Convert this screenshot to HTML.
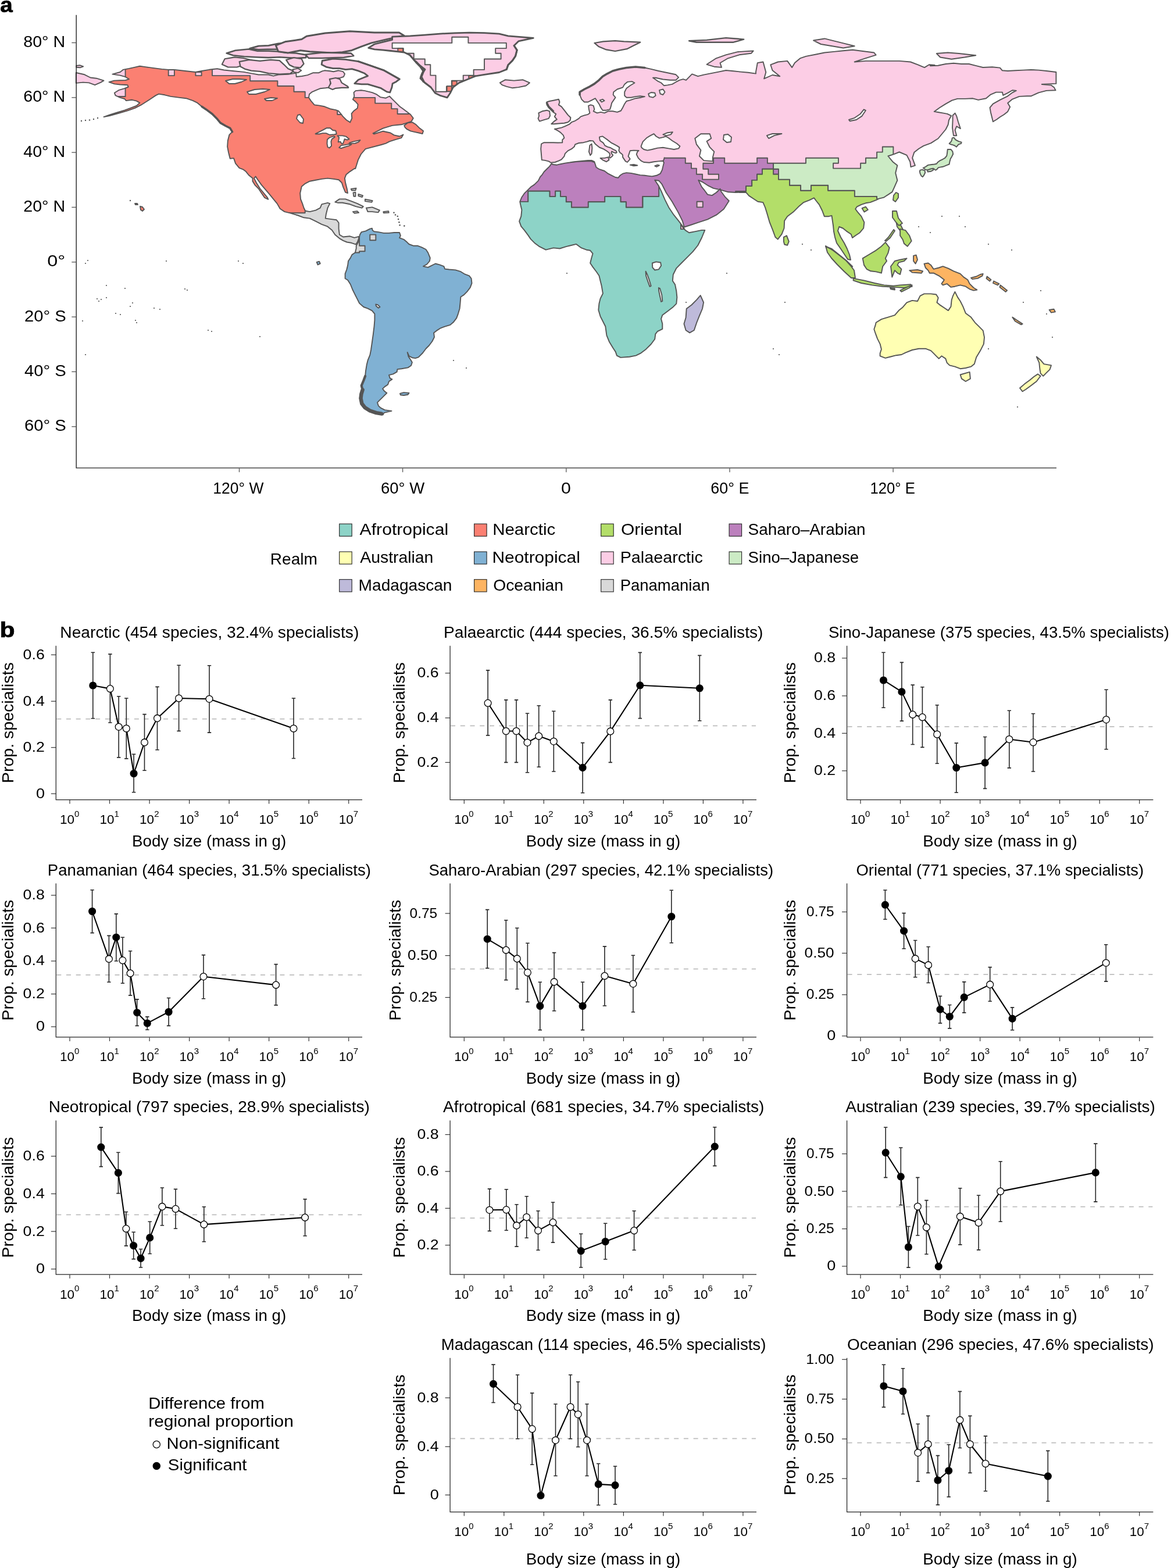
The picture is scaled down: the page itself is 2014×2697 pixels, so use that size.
<!DOCTYPE html>
<html><head><meta charset="utf-8"><title>Figure</title>
<style>html,body{margin:0;padding:0;background:#fff;} svg{display:block} text{font-family:'Liberation Sans', Arial, sans-serif;fill:#000}</style>
</head><body>
<svg width="2014" height="2697" viewBox="0 0 2014 2697">
<rect width="2014" height="2697" fill="#fff"/>
<g id="map"><defs>
<clipPath id="cp_NA"><path d="M178.5,201.1 188.8,197.3 201.5,193.5 214.3,189.7 224.5,185.8 234.7,182.0 240.4,176.9 234.7,173.6 227.1,171.8 216.9,173.1 214.3,170.0 206.6,167.9 198.5,164.1 196.9,159.8 204.1,155.2 214.3,152.1 220.7,149.5 219.4,146.2 206.6,145.5 196.9,144.4 187.5,141.1 196.4,138.6 206.6,138.3 215.6,138.1 222.0,136.0 215.6,132.2 206.6,129.6 193.4,127.6 206.6,124.0 211.7,119.9 222.0,117.9 232.2,115.6 240.4,113.8 250.1,115.1 262.8,116.9 278.2,118.9 289.7,119.9 299.9,119.9 313.9,121.5 336.4,124.0 347.1,122.0 359.9,119.9 360.0,119.7 373.6,118.3 385.4,120.5 402.4,122.2 419.3,123.9 432.9,126.4 444.7,128.5 461.7,128.5 470.2,130.7 478.6,128.5 495.6,127.8 509.2,125.6 509.7,132.0 519.4,131.0 529.1,129.1 538.7,125.2 548.4,125.2 554.2,122.3 558.1,121.3 567.8,122.3 573.6,123.2 582.3,121.3 590.1,123.2 593.0,127.1 591.0,132.0 585.2,133.9 575.5,134.9 569.7,138.7 567.8,144.6 566.8,150.4 560.0,151.3 550.4,152.3 543.6,155.2 536.8,158.1 532.0,162.0 531.0,167.8 534.9,173.6 540.7,180.4 548.4,181.4 558.1,183.3 567.8,187.2 577.5,189.1 582.3,191.0 587.2,196.9 589.6,200.2 595.9,206.5 602.2,210.4 605.3,203.3 604.6,195.4 608.5,190.7 614.8,186.0 615.6,179.7 611.6,175.0 606.9,171.1 609.3,165.5 608.5,159.2 611.6,156.1 621.1,155.3 627.4,156.1 640.0,159.2 647.8,162.4 654.1,167.1 663.6,168.7 669.9,165.5 674.6,170.3 680.9,176.6 687.2,182.9 693.5,187.6 699.8,192.3 706.1,197.0 710.8,203.3 707.6,208.8 698.2,212.0 690.3,214.3 674.6,215.9 658.9,220.6 641.5,229.3 643.1,230.5 658.9,225.7 671.4,228.5 677.7,232.4 687.2,234.5 693.5,231.6 690.3,237.2 679.3,240.3 669.9,243.4 663.6,246.6 655.7,249.0 628.6,256.1 621.0,265.0 615.9,275.2 611.3,290.0 609.5,290.0 601.8,295.1 595.4,300.2 592.9,306.6 594.1,314.3 596.7,324.5 598.0,332.2 594.1,330.9 590.3,322.0 587.8,314.3 582.6,309.2 573.7,307.9 563.5,306.6 553.3,307.9 543.1,309.7 532.8,311.7 525.2,315.6 518.8,320.7 516.2,332.2 517.0,342.4 520.1,350.1 522.6,357.7 525.2,362.8 532.8,364.1 543.1,361.6 550.7,357.7 553.3,351.3 563.5,348.8 567.3,350.1 563.5,357.7 560.9,367.9 559.7,375.6 568.6,376.9 578.8,378.2 582.6,383.3 582.6,393.5 583.9,403.7 590.3,407.5 601.8,406.3 609.5,408.8 617.1,406.8 617.1,410.1 614.6,416.5 612.0,420.3 604.4,417.8 596.7,416.5 590.3,413.9 583.9,410.1 576.3,403.7 571.1,396.0 563.5,389.7 553.3,385.8 543.1,380.7 532.8,375.6 522.6,374.3 512.4,370.5 499.6,366.7 489.4,364.1 481.7,359.0 476.6,350.1 470.2,342.4 463.9,334.7 457.5,327.1 449.8,318.1 443.4,309.2 439.6,303.6 437.0,306.6 440.9,314.3 447.3,324.5 453.6,332.2 460.0,339.8 461.3,342.9 454.9,339.8 449.8,332.2 444.7,324.5 438.3,318.1 434.5,311.7 434.5,306.6 428.1,301.5 423.0,295.1 417.9,291.3 411.5,288.8 405.1,281.1 402.0,272.1 395.7,272.7 393.1,262.5 391.1,252.2 391.8,242.0 394.4,231.8 399.5,226.7 395.7,220.3 388.0,216.5 379.1,211.4 372.7,203.7 365.0,196.0 354.8,188.4 347.1,183.3 339.5,176.9 331.8,173.1 320.3,169.2 308.8,167.9 293.5,165.9 283.3,163.3 273.1,161.6 267.9,164.1 260.3,169.2 252.6,174.3 242.4,180.7 232.2,185.8 219.4,190.4 204.1,194.8 188.8,199.1Z"/></clipPath>
<clipPath id="cp_SAm"><path d="M618.1,407.2 619.0,403.6 621.7,399.1 629.0,397.3 636.3,393.6 639.9,392.7 640.8,396.3 643.5,398.2 650.8,399.1 659.9,400.9 669.0,400.9 678.0,400.0 687.1,400.0 688.9,405.4 687.1,409.1 694.4,411.8 699.8,416.3 703.5,420.0 710.7,422.7 718.0,422.7 725.3,425.4 732.5,429.0 736.1,434.5 739.8,443.6 738.9,449.0 734.3,454.5 728.0,458.1 736.1,459.9 741.6,457.2 748.9,453.5 756.1,455.4 763.4,458.1 765.2,462.6 772.5,463.5 783.4,464.4 792.4,467.2 799.7,471.7 807.0,474.4 810.6,479.0 811.5,487.1 808.8,494.4 803.3,501.7 797.9,507.1 792.4,510.7 791.5,521.6 790.6,530.7 787.9,539.8 785.2,547.1 779.7,554.3 774.3,558.9 765.2,561.6 757.9,564.3 750.7,568.9 746.1,572.5 747.0,579.8 743.4,587.0 738.0,594.3 732.5,599.7 727.1,607.0 719.8,614.3 714.4,616.1 708.9,615.2 703.5,612.4 700.7,606.1 702.6,613.4 706.2,618.8 708.9,623.3 707.1,628.8 701.6,632.4 690.7,634.2 683.5,635.1 682.6,639.7 676.2,643.3 669.0,645.1 670.8,650.6 674.4,652.4 669.0,656.0 667.1,661.5 661.7,665.1 658.1,668.7 660.8,672.4 665.3,676.0 661.7,679.6 656.2,685.1 652.6,688.7 649.0,692.3 650.8,697.8 654.4,701.4 661.7,705.1 673.5,706.9 661.7,709.6 658.1,712.3 647.2,710.5 636.3,706.9 627.2,701.4 621.7,694.2 619.9,685.1 620.8,677.8 623.6,670.6 621.7,663.3 625.4,654.2 628.1,646.9 629.0,637.9 630.8,627.0 632.6,619.7 636.3,610.6 638.1,601.5 639.9,588.8 641.7,576.1 643.5,561.6 644.4,550.7 644.4,539.8 639.9,534.4 632.6,530.7 625.4,528.0 618.1,521.6 614.5,514.4 610.8,507.1 606.3,498.0 602.7,489.0 598.1,481.7 593.6,479.0 593.6,470.8 596.3,463.5 598.1,456.3 599.0,449.0 602.7,443.6 605.4,438.1 610.8,434.5 612.7,427.2 612.7,422.7 616.3,416.3Z"/></clipPath>
<clipPath id="cp_AFEU"><path d="M947.5,279.8 943.6,277.4 937.3,275.9 931.8,275.1 931.0,265.6 930.2,256.2 931.0,247.5 935.7,245.2 943.6,245.2 951.5,245.2 959.3,245.5 967.2,245.2 967.2,240.5 970.4,237.3 968.8,232.6 964.1,227.9 959.3,224.7 953.8,221.9 957.8,221.2 965.6,219.6 971.9,217.2 979.8,213.3 983.0,210.2 989.2,207.8 995.5,203.9 998.7,200.7 1005.0,198.4 1011.3,196.8 1014.4,194.4 1012.9,188.1 1012.1,181.8 1016.0,180.3 1020.7,181.8 1022.3,188.1 1020.7,191.3 1027.0,194.4 1033.3,192.9 1039.6,194.4 1045.9,191.3 1053.8,191.3 1061.6,192.9 1067.9,190.5 1071.1,185.0 1074.2,178.7 1077.4,174.0 1083.7,172.4 1093.1,169.2 1102.6,167.7 1108.9,166.1 1101.0,165.3 1093.1,166.1 1085.3,167.7 1077.4,167.7 1074.2,164.5 1074.2,158.2 1077.4,151.9 1083.7,147.2 1091.5,142.5 1086.8,140.1 1079.0,140.9 1074.2,144.9 1071.1,150.4 1061.6,153.5 1055.3,158.2 1054.6,163.0 1058.5,167.7 1055.3,172.4 1052.2,177.1 1050.6,183.4 1049.1,188.1 1042.8,189.7 1036.5,189.7 1033.3,185.0 1030.2,178.7 1027.0,174.0 1023.9,169.2 1017.6,172.4 1011.3,175.5 1005.0,175.5 1000.3,170.8 997.1,163.0 997.1,158.2 1005.0,153.5 1014.4,148.8 1022.3,144.1 1030.2,137.8 1036.5,131.5 1044.3,126.8 1053.8,122.0 1064.8,118.9 1077.4,116.5 1093.1,115.0 1108.9,116.5 1119.9,118.9 1132.5,122.0 1148.2,125.2 1162.4,128.3 1167.1,133.1 1162.4,137.8 1152.9,137.8 1140.3,136.5 1127.7,133.8 1123.0,133.8 1130.9,139.3 1137.2,142.5 1141.9,147.2 1148.2,146.4 1156.1,144.9 1162.4,141.2 1168.7,137.8 1175.0,136.2 1180.0,137.8 1190.2,127.4 1200.3,131.2 1210.5,128.6 1223.2,126.1 1235.9,123.6 1248.6,121.0 1261.4,122.3 1274.1,123.6 1286.8,124.8 1300.0,126.6 1299.9,124.2 1302.8,108.1 1312.5,106.5 1317.3,124.2 1314.1,135.4 1328.5,129.0 1341.3,131.2 1328.5,121.0 1325.3,111.3 1338.1,106.5 1354.2,104.9 1362.2,116.1 1367.0,108.1 1376.6,100.1 1386.2,96.9 1402.3,93.7 1418.3,90.5 1434.4,88.9 1450.4,87.3 1466.5,85.7 1485.7,88.2 1503.3,90.5 1506.6,94.6 1488.9,100.1 1469.7,106.5 1488.9,104.9 1508.2,104.9 1527.4,104.9 1546.7,104.9 1565.9,106.5 1578.7,111.3 1590.0,116.1 1598.0,111.3 1607.6,112.0 1600.0,113.3 1613.3,112.7 1626.6,110.0 1640.0,108.7 1653.3,110.0 1666.6,110.0 1679.9,113.3 1690.6,116.0 1706.5,115.3 1719.9,116.6 1723.9,121.3 1733.2,122.0 1746.5,121.3 1759.8,120.6 1773.1,120.0 1786.4,120.6 1799.8,122.0 1816.4,124.0 1816.4,143.9 1791.8,145.0 1807.8,146.6 1813.1,150.6 1815.5,155.3 1799.8,155.9 1786.4,159.3 1773.1,165.3 1766.5,165.3 1753.1,165.9 1741.2,170.6 1733.2,177.2 1737.2,183.9 1733.2,191.9 1726.5,197.2 1719.9,201.2 1714.5,205.2 1707.9,209.2 1703.9,193.2 1702.5,185.2 1707.9,178.6 1719.9,171.9 1733.2,165.3 1741.2,159.3 1747.8,155.9 1741.2,155.3 1733.2,159.9 1725.2,163.9 1723.9,158.6 1713.2,158.6 1703.9,162.6 1695.9,169.3 1682.6,171.9 1673.2,169.3 1659.9,169.9 1646.6,169.9 1637.3,172.6 1626.6,178.6 1616.0,185.2 1606.7,191.9 1614.6,193.2 1622.6,194.6 1629.3,195.9 1636.0,199.2 1632.0,206.5 1630.6,214.5 1626.6,222.5 1620.0,230.5 1613.3,238.5 1610.7,240.0 1601.2,246.1 1588.4,250.9 1580.3,255.7 1572.3,262.1 1569.1,271.7 1573.9,284.6 1566.5,287.1 1565.3,278.2 1559.5,266.9 1546.7,261.5 1537.0,265.3 1527.4,268.5 1535.4,278.2 1543.4,284.6 1540.2,297.4 1543.4,310.2 1537.7,323.1 1534.5,330.1 1520.0,339.7 1511.9,341.7 1506.8,344.2 1496.6,348.1 1489.0,349.3 1481.4,351.9 1473.7,355.7 1471.2,359.5 1475.0,364.6 1481.4,372.2 1486.4,382.4 1485.2,392.5 1478.8,400.2 1471.2,405.3 1466.1,409.1 1463.6,402.7 1455.9,397.6 1449.6,392.5 1443.2,390.0 1441.0,397.0 1446.0,408.0 1452.0,418.0 1457.0,428.0 1461.0,438.0 1463.0,447.0 1458.0,446.0 1452.0,437.0 1446.0,428.0 1439.0,418.0 1436.0,408.0 1434.0,398.0 1433.0,388.0 1430.5,370.9 1425.4,372.2 1417.8,372.2 1414.0,362.0 1408.9,351.9 1403.8,345.5 1400.0,340.4 1392.4,344.2 1382.2,348.1 1374.6,354.4 1364.4,364.6 1354.2,372.2 1349.2,379.8 1348.6,392.5 1344.6,402.7 1337.7,411.6 1333.4,407.8 1328.8,395.1 1323.7,382.4 1319.2,367.1 1316.1,357.0 1312.3,348.1 1303.4,346.8 1295.8,341.7 1288.1,336.6 1283.1,330.8 1265.3,331.0 1252.5,330.3 1238.6,326.4 1227.1,323.9 1217.0,318.8 1209.3,313.7 1201.2,309.9 1206.8,321.4 1211.9,327.7 1217.0,334.6 1224.6,336.1 1232.2,331.0 1238.6,324.7 1240.3,329.5 1247.5,339.2 1253.8,345.5 1244.9,359.5 1232.2,369.7 1217.0,377.3 1201.7,382.4 1186.4,387.5 1176.8,390.5 1173.7,379.8 1166.1,364.6 1155.9,346.8 1145.8,331.5 1138.1,316.3 1133.1,310.7 1126.2,309.8 1132.8,319.6 1137.1,328.3 1143.7,343.6 1150.2,356.7 1158.9,369.7 1167.7,380.6 1174.2,389.3 1178.5,395.9 1185.1,400.2 1196.0,398.1 1206.9,395.9 1212.3,395.9 1206.9,409.0 1200.3,422.0 1191.6,432.9 1182.9,441.6 1172.0,452.5 1163.3,461.3 1157.8,472.2 1156.8,483.1 1161.1,489.6 1163.3,500.5 1164.4,511.4 1163.3,522.3 1156.8,528.8 1148.0,535.4 1139.3,541.9 1137.1,548.4 1139.3,557.1 1139.3,565.9 1130.6,570.2 1127.3,574.6 1126.2,583.3 1119.7,592.0 1111.0,600.7 1102.3,607.3 1093.6,611.6 1082.7,613.8 1067.4,614.9 1060.9,611.6 1058.7,605.1 1054.3,598.5 1047.8,587.7 1043.4,576.8 1041.3,561.5 1036.9,552.8 1032.5,544.1 1029.3,533.2 1030.4,522.3 1032.5,513.6 1036.9,504.8 1034.7,491.8 1032.5,483.1 1030.4,474.3 1026.0,467.8 1019.5,459.1 1015.1,452.5 1017.3,443.8 1019.5,436.2 1015.1,430.8 1008.6,429.7 999.9,426.4 991.1,419.9 982.4,422.0 973.7,424.2 962.8,427.5 951.9,426.4 938.8,429.7 927.9,424.2 919.2,417.7 912.7,411.1 908.3,404.6 901.8,395.9 896.3,389.3 893.1,380.6 896.3,371.9 897.4,361.0 895.3,352.3 894.2,346.9 897.4,339.2 901.8,332.7 906.2,328.3 912.7,321.8 919.2,317.4 925.8,310.9 929.0,304.4 932.6,300.3 935.7,295.5 940.5,290.8 945.2,286.1 948.3,281.7 951.5,283.0 957.8,283.7 964.1,282.2 971.9,280.6 979.8,279.5 987.7,278.2 995.5,277.4 1003.4,276.7 1011.3,275.9 1017.6,275.9 1022.3,278.2 1023.9,283.0 1025.4,287.7 1030.2,290.8 1039.6,294.0 1045.9,298.7 1052.2,301.8 1058.5,305.0 1063.2,305.8 1066.4,301.8 1071.1,298.7 1077.4,297.1 1085.3,297.9 1093.1,299.5 1101.0,301.1 1108.9,301.8 1115.2,302.6 1121.4,303.4 1129.3,301.8 1135.6,298.7 1138.8,292.4 1140.3,286.1 1141.9,279.8 1140.3,276.7 1132.5,277.4 1124.6,278.2 1116.7,279.8 1107.3,279.0 1102.6,276.7 1097.8,271.9 1094.7,265.6 1096.3,260.9 1098.6,259.0 1090.0,258.6 1083.7,259.3 1082.1,264.1 1080.5,268.8 1083.7,273.5 1082.1,275.4 1079.0,279.0 1075.8,277.4 1071.1,270.4 1070.9,266.3 1068.7,264.1 1066.5,262.7 1064.3,259.1 1065.4,253.6 1061.8,251.1 1056.3,248.2 1050.9,245.3 1045.4,240.9 1040.3,237.3 1036.3,234.4 1031.0,235.7 1031.0,237.3 1032.1,242.0 1037.4,245.6 1040.3,250.3 1045.4,252.9 1049.8,254.0 1054.6,256.9 1059.3,259.1 1060.8,262.0 1059.3,263.4 1055.3,262.2 1052.0,260.4 1051.3,263.3 1054.2,266.9 1052.8,269.1 1049.1,271.8 1047.6,270.0 1049.1,266.3 1047.6,262.7 1043.6,259.8 1038.2,256.4 1031.0,253.5 1023.6,247.4 1020.0,242.4 1014.4,242.0 1009.7,243.6 1003.4,245.2 995.5,246.0 989.2,248.3 987.7,252.3 983.0,256.2 976.7,259.3 971.9,264.1 970.4,268.8 965.6,274.3 960.9,276.7 954.6,279.0Z"/></clipPath>
<clipPath id="cp_banks"><path d="M381.8,110.7 386.6,101.2 403.6,98.4 418.8,99.9 434.0,103.7 426.4,106.9 416.9,112.6 407.4,115.5 392.3,115.5Z"/></clipPath>
<clipPath id="cp_victoria"><path d="M411.7,106.1 428.5,102.9 447.1,104.8 465.7,102.9 480.7,104.2 488.1,110.8 495.6,118.2 504.9,122.0 499.3,126.6 480.7,127.6 462.0,126.1 447.1,122.9 432.2,121.6 421.0,118.6 413.5,114.5Z"/></clipPath>
<clipPath id="cp_qesouth"><path d="M389.7,91.5 404.8,86.8 427.6,84.5 442.8,87.7 461.8,87.7 480.8,88.7 492.2,90.6 509.3,91.5 526.3,94.4 526.3,99.1 509.3,100.1 480.8,98.2 461.8,99.1 439.0,98.2 420.0,97.2 401.1,95.3Z"/></clipPath>
<clipPath id="cp_qenorth"><path d="M429.5,83.4 444.7,79.1 461.8,78.3 478.9,74.9 497.8,73.9 513.0,76.8 516.8,82.5 509.2,86.7 490.3,86.3 475.1,84.8 459.9,84.8 444.7,85.3Z"/></clipPath>
<clipPath id="cp_ellesmere"><path d="M474.4,78.2 490.3,71.8 518.9,67.6 527.4,62.3 559.2,57.0 601.6,53.8 644.0,55.9 686.4,55.9 694.9,61.2 665.2,67.6 638.7,73.9 620.7,80.3 604.8,86.7 588.9,89.8 569.8,90.9 550.7,89.8 532.7,88.8 516.8,86.7 495.6,90.9 478.7,88.8Z"/></clipPath>
<clipPath id="cp_devon"><path d="M525.3,93.8 554.5,90.4 579.1,91.0 603.7,91.6 608.2,96.0 591.4,98.8 572.4,99.4 554.5,100.0 530.9,100.0Z"/></clipPath>
<clipPath id="cp_somerset"><path d="M492.2,103.0 505.4,99.2 518.7,101.1 522.5,109.7 516.8,116.3 505.4,115.4 497.8,111.6Z"/></clipPath>
<clipPath id="cp_kwilliam"><path d="M503.4,119.5 512.7,117.6 518.3,121.3 512.7,125.1 505.3,124.1Z"/></clipPath>
<clipPath id="cp_baffin"><path d="M554.2,104.5 572.7,101.2 594.5,102.3 616.3,105.6 638.1,113.2 659.9,120.8 687.1,136.1 681.6,140.4 675.1,143.7 674.0,150.2 670.7,159.0 665.3,157.9 654.4,151.3 643.5,148.1 632.6,144.8 621.7,144.8 609.7,143.7 616.3,137.2 627.2,132.8 632.6,130.6 627.2,126.3 616.3,121.9 605.4,118.6 594.5,119.7 583.6,117.6 572.7,117.6 561.8,115.4 553.1,111.0Z"/></clipPath>
<clipPath id="cp_southampton"><path d="M566.8,136.1 577.2,134.0 584.6,136.1 587.7,142.4 598.2,148.7 599.2,150.8 587.7,150.8 577.2,151.8 572.0,153.9 564.7,150.8 568.9,143.4Z"/></clipPath>
<clipPath id="cp_greenland"><path d="M633.7,82.4 644.0,76.0 659.3,72.1 674.6,68.3 674.6,63.2 705.3,61.9 730.8,60.1 756.4,58.1 781.9,56.8 807.4,56.1 833.0,56.6 858.5,58.1 873.9,61.9 917.3,65.3 891.7,70.9 884.1,78.5 889.2,86.2 886.6,96.4 881.5,104.1 873.9,111.7 871.3,119.4 858.5,124.5 833.0,128.3 817.7,130.9 802.3,137.3 789.6,142.4 779.3,150.1 774.2,160.3 769.1,167.9 756.4,164.1 748.7,160.3 741.0,150.1 730.8,142.4 723.1,134.7 725.7,127.1 730.8,119.4 720.6,111.7 712.9,104.1 705.3,95.1 695.1,90.0 684.8,88.8 672.1,87.5 659.3,86.2 644.0,84.9Z"/></clipPath>
<clipPath id="cp_iceland"><path d="M859.8,142.4 868.8,137.3 884.1,138.6 899.4,137.3 910.9,142.4 904.5,147.5 891.7,150.1 881.5,151.3 871.3,148.8 863.6,146.2Z"/></clipPath>
<clipPath id="cp_chukotka_w"><path d="M130.8,125.0 145.3,128.3 155.5,133.5 165.8,134.7 178.5,138.6 173.4,141.6 163.2,146.2 153.0,142.4 142.8,141.6 130.8,142.9Z"/></clipPath>
<clipPath id="cp_wrangel"><path d="M131.3,113.0 137.7,112.3 143.3,114.3 137.7,116.3 131.3,115.8Z"/></clipPath>
<clipPath id="cp_newfoundland"><path d="M695.1,215.9 701.4,211.2 709.2,210.4 715.5,214.3 721.8,220.6 728.1,225.3 726.5,230.1 720.2,228.5 712.4,226.9 706.1,225.3 699.8,222.2 696.6,219.1Z"/></clipPath>
<clipPath id="cp_cuba"><path d="M576.3,347.5 583.9,342.4 594.1,342.4 604.4,346.2 614.6,350.1 624.8,355.2 622.2,357.7 612.0,355.2 601.8,351.3 589.0,348.8 581.4,348.8Z"/></clipPath>
<clipPath id="cp_hispaniola"><path d="M629.9,357.7 640.1,356.4 652.9,361.6 650.3,365.4 640.1,364.1 632.5,364.1Z"/></clipPath>
<clipPath id="cp_jamaica"><path d="M606.9,364.1 614.6,363.3 617.1,365.9 609.5,366.7Z"/></clipPath>
<clipPath id="cp_puertorico"><path d="M659.3,364.1 668.2,363.3 668.7,365.9 659.8,366.2Z"/></clipPath>
<clipPath id="cp_falklands"><path d="M688.0,676.9 694.4,675.1 703.5,676.0 701.6,678.7 694.4,680.0 688.9,679.3Z"/></clipPath>
<clipPath id="cp_uk"><path d="M940.5,175.5 945.2,174.0 953.1,172.4 960.9,170.8 962.5,175.5 960.9,180.3 965.6,183.4 971.9,191.3 976.7,197.6 981.4,202.3 980.6,207.0 976.7,210.2 970.4,211.7 960.9,212.5 953.1,213.3 948.3,213.3 953.1,208.6 957.8,205.4 953.8,200.7 956.2,196.0 951.5,192.9 948.3,189.7 943.6,185.0 940.5,180.3Z"/></clipPath>
<clipPath id="cp_ireland"><path d="M926.3,194.4 932.6,191.3 940.5,189.7 945.2,191.3 946.0,199.2 943.6,203.9 935.7,206.2 927.9,208.6 925.5,203.9 927.1,199.2Z"/></clipPath>
<clipPath id="cp_svalbard"><path d="M1022.4,74.0 1037.6,71.4 1058.0,70.2 1073.2,71.4 1101.2,72.7 1088.5,79.1 1078.3,84.2 1058.0,88.0 1042.7,85.4 1030.0,80.3Z"/></clipPath>
<clipPath id="cp_nzemlya"><path d="M1215.6,110.8 1230.9,100.7 1248.6,94.3 1269.0,89.2 1295.7,87.5 1291.9,91.8 1271.5,94.3 1251.2,100.7 1238.5,108.3 1241.0,115.9 1228.3,114.7Z"/></clipPath>
<clipPath id="cp_fjland"><path d="M1185.1,70.2 1215.6,68.9 1248.6,65.1 1279.2,67.6 1261.4,72.7 1223.2,72.7 1197.8,72.7Z"/></clipPath>
<clipPath id="cp_sevzemlya"><path d="M1399.1,69.6 1418.3,66.4 1431.2,69.6 1450.4,74.4 1469.7,79.2 1450.4,82.5 1431.2,79.2 1411.9,76.0Z"/></clipPath>
<clipPath id="cp_newsib"><path d="M1610.8,92.1 1630.1,90.5 1649.3,92.1 1678.2,95.3 1658.9,98.5 1636.5,101.7 1617.2,98.5Z"/></clipPath>
<clipPath id="cp_sakhalin"><path d="M1638.6,198.5 1642.6,194.6 1645.3,199.9 1647.9,209.2 1651.9,221.2 1645.3,217.2 1642.6,223.9 1645.3,233.2 1640.0,233.2 1638.0,219.9 1638.6,206.5Z"/></clipPath>
<clipPath id="cp_hokkaido"><path d="M1637.7,237.4 1640.6,236.7 1643.5,240.3 1648.6,243.2 1653.7,244.7 1653.0,246.9 1648.6,248.3 1645.0,252.7 1642.1,250.5 1638.4,249.1 1634.8,248.3 1632.6,246.9 1635.5,244.0 1637.0,241.1Z"/></clipPath>
<clipPath id="cp_honshu"><path d="M1629.7,257.0 1635.5,257.0 1638.4,260.7 1639.2,265.0 1637.0,269.4 1634.8,273.0 1633.4,278.1 1632.6,282.5 1629.0,283.9 1625.4,285.4 1621.7,286.8 1616.7,287.6 1613.8,288.3 1610.8,291.9 1608.7,292.6 1606.5,290.5 1600.7,291.2 1596.3,292.6 1592.0,291.9 1589.1,289.7 1587.6,289.0 1592.0,286.8 1596.3,283.9 1600.7,283.2 1607.2,282.5 1610.8,281.7 1612.3,279.6 1615.9,276.7 1621.7,273.8 1625.4,271.6 1628.3,267.9 1629.0,263.6Z"/></clipPath>
<clipPath id="cp_shikoku"><path d="M1594.9,292.6 1600.7,290.5 1605.0,289.7 1605.0,292.6 1600.7,294.8 1595.6,295.5Z"/></clipPath>
<clipPath id="cp_kyushu"><path d="M1582.5,292.6 1586.1,291.9 1590.5,293.4 1591.2,297.0 1589.1,301.4 1586.9,304.3 1584.7,302.8 1582.5,298.4 1581.8,294.8Z"/></clipPath>
<clipPath id="cp_taiwan"><path d="M1541.0,331.0 1545.0,333.0 1545.0,340.0 1540.0,347.0 1536.0,344.0 1537.0,336.0Z"/></clipPath>
<clipPath id="cp_palawan"><path d="M1537.0,395.0 1528.0,408.0 1522.0,414.0 1524.0,415.0 1531.0,409.0 1539.0,397.0Z"/></clipPath>
<clipPath id="cp_visayas"><path d="M1541.0,380.0 1548.0,385.0 1553.0,395.0 1549.0,398.0 1543.0,390.0Z"/></clipPath>
<clipPath id="cp_hainan"><path d="M1482.6,358.2 1489.0,355.7 1492.8,360.8 1486.4,364.6Z"/></clipPath>
<clipPath id="cp_srilanka"><path d="M1347.9,407.8 1353.0,405.3 1356.8,415.4 1354.2,421.8 1349.2,420.5 1347.9,415.4Z"/></clipPath>
<clipPath id="cp_sumatra"><path d="M1420.0,423.0 1433.0,431.0 1445.0,440.0 1455.0,448.0 1463.0,457.0 1469.0,465.0 1471.0,478.0 1464.0,478.0 1452.0,467.0 1440.0,455.0 1430.0,444.0 1423.0,434.0Z"/></clipPath>
<clipPath id="cp_java"><path d="M1467.6,478.9 1486.0,482.4 1504.4,487.0 1520.5,490.4 1536.6,491.6 1548.1,490.4 1566.5,489.3 1568.8,492.7 1555.0,495.0 1538.9,493.9 1518.2,492.7 1499.8,490.4 1481.4,487.0 1467.6,482.4Z"/></clipPath>
<clipPath id="cp_borneo"><path d="M1483.7,444.4 1495.2,437.5 1506.7,430.6 1515.9,423.7 1522.8,416.8 1529.7,426.0 1527.4,435.2 1522.8,444.4 1525.1,449.0 1518.2,458.2 1515.9,469.7 1506.7,467.4 1497.5,466.3 1490.6,462.8 1486.0,455.9Z"/></clipPath>
<clipPath id="cp_sulawesi"><path d="M1532.0,458.2 1538.9,449.0 1548.1,446.7 1559.6,444.4 1555.0,449.0 1545.8,451.3 1543.5,455.9 1550.4,462.8 1548.1,472.0 1543.5,469.7 1538.9,465.1 1534.3,476.6Z"/></clipPath>
<clipPath id="cp_luzon"><path d="M1535.0,363.0 1542.0,363.0 1545.0,375.0 1552.0,384.0 1546.0,388.0 1540.0,381.0 1535.0,374.0Z"/></clipPath>
<clipPath id="cp_mindanao"><path d="M1548.1,393.8 1557.3,396.1 1564.2,405.3 1567.7,414.5 1560.8,423.7 1555.0,419.1 1552.7,412.2 1548.1,405.3Z"/></clipPath>
<clipPath id="cp_timor"><path d="M1548.1,499.6 1559.6,493.9 1568.8,490.4 1564.2,495.0 1550.4,501.9Z"/></clipPath>
<clipPath id="cp_flores"><path d="M1530.9,495.0 1538.9,496.2 1538.9,498.5 1532.0,497.3Z"/></clipPath>
<clipPath id="cp_newguinea"><path d="M1589.5,453.6 1596.4,452.5 1601.0,455.9 1605.6,462.8 1614.8,460.5 1621.7,458.2 1630.9,461.7 1640.1,466.3 1651.6,470.9 1657.4,476.6 1664.3,481.2 1667.7,488.1 1674.6,495.0 1680.4,498.5 1674.6,499.6 1667.7,497.3 1660.8,492.7 1651.6,490.4 1642.4,492.7 1635.5,493.9 1628.6,488.1 1621.7,490.4 1619.4,488.1 1624.0,481.2 1614.8,474.3 1605.6,469.7 1598.7,469.7 1596.4,465.1 1591.8,460.5Z"/></clipPath>
<clipPath id="cp_newbritain"><path d="M1670.0,477.8 1679.2,475.5 1686.1,472.0 1690.7,470.9 1689.6,474.3 1681.5,478.9 1672.3,480.1Z"/></clipPath>
<clipPath id="cp_sol1"><path d="M1697.6,475.5 1704.5,481.2 1702.2,483.5 1696.5,478.9Z"/></clipPath>
<clipPath id="cp_sol2"><path d="M1709.1,483.5 1718.3,488.1 1716.0,490.4 1708.0,487.0Z"/></clipPath>
<clipPath id="cp_sol3"><path d="M1720.6,490.4 1732.1,499.6 1729.8,501.9 1719.5,493.9Z"/></clipPath>
<clipPath id="cp_halmahera"><path d="M1571.1,439.8 1575.7,438.7 1578.0,446.7 1574.6,453.6 1571.1,449.0Z"/></clipPath>
<clipPath id="cp_seram"><path d="M1564.2,465.1 1578.0,464.0 1587.2,466.3 1584.9,469.7 1568.8,468.6Z"/></clipPath>
<clipPath id="cp_newcal"><path d="M1741.3,545.6 1748.2,550.2 1758.6,557.1 1756.3,558.3 1745.9,552.5Z"/></clipPath>
<clipPath id="cp_fiji"><path d="M1804.6,533.0 1812.6,531.8 1814.9,536.4 1808.0,537.6Z"/></clipPath>
<clipPath id="cp_australia"><path d="M1506.7,554.8 1515.9,549.1 1527.4,545.6 1538.9,542.2 1545.8,534.1 1552.7,528.4 1559.6,520.3 1568.8,516.9 1578.0,518.0 1582.6,508.8 1589.5,505.4 1601.0,505.4 1610.2,506.5 1613.7,512.3 1611.4,520.3 1617.1,524.9 1624.0,529.5 1630.9,534.1 1635.5,527.2 1636.7,515.7 1639.0,508.8 1642.4,501.9 1647.0,511.1 1651.6,518.0 1656.2,527.2 1660.8,538.7 1670.0,545.6 1676.9,554.8 1683.8,561.7 1690.7,568.6 1693.0,580.1 1691.9,591.6 1686.1,603.1 1679.2,614.6 1675.8,626.1 1670.0,630.7 1660.8,633.0 1651.6,634.2 1642.4,630.7 1633.2,628.4 1628.6,623.8 1626.3,616.9 1619.4,612.3 1614.8,616.9 1610.2,612.3 1605.6,607.7 1601.0,603.1 1591.8,599.7 1580.3,599.7 1568.8,602.0 1557.3,606.6 1550.4,610.0 1541.2,611.2 1532.0,613.5 1522.8,615.8 1513.6,612.3 1513.6,607.7 1515.9,600.8 1513.6,591.6 1509.0,582.4 1505.6,573.2 1503.3,566.3 1505.6,559.4Z"/></clipPath>
<clipPath id="cp_tasmania"><path d="M1651.6,644.5 1667.7,639.9 1668.9,651.4 1660.8,656.0 1653.9,651.4Z"/></clipPath>
<clipPath id="cp_nzn"><path d="M1782.7,613.5 1789.6,619.2 1795.4,626.1 1808.0,628.4 1805.7,635.3 1798.8,642.2 1794.2,646.8 1789.6,642.2 1788.5,635.3 1787.3,623.8Z"/></clipPath>
<clipPath id="cp_nzs"><path d="M1785.0,643.4 1789.6,646.8 1782.7,656.0 1773.5,662.9 1764.3,669.8 1758.6,673.3 1754.0,667.5 1762.0,660.6 1771.2,653.7 1778.1,648.0Z"/></clipPath>
<clipPath id="cp_madagascar"><path d="M1204.7,508.1 1210.1,520.1 1208.0,531.0 1202.5,544.1 1198.2,555.0 1193.8,568.0 1186.2,572.4 1179.6,568.0 1176.4,557.1 1179.6,546.2 1180.7,531.0 1189.4,524.5 1198.2,515.7Z"/></clipPath>
<clipPath id="cp_sardinia"><path d="M1014.4,249.9 1017.6,247.5 1018.4,254.6 1017.6,264.1 1015.2,267.2 1012.9,260.9 1013.6,256.2Z"/></clipPath>
<clipPath id="cp_sicily"><path d="M1032.5,271.9 1039.6,271.9 1045.9,270.4 1047.5,275.1 1042.8,278.2 1036.5,275.1Z"/></clipPath>
<clipPath id="cp_crete"><path d="M1083.7,283.7 1090.0,283.0 1096.3,284.5 1090.0,285.3Z"/></clipPath>
<clipPath id="cp_cyprus"><path d="M1126.2,285.3 1130.9,283.7 1134.0,284.5 1129.3,286.9Z"/></clipPath>
<clipPath id="cp_bah1"><path d="M603.7,325.0 612.6,323.7 611.4,327.5 605.0,327.5Z"/></clipPath>
<clipPath id="cp_bah2"><path d="M607.5,331.4 611.4,330.8 611.4,337.7 608.3,337.7Z"/></clipPath>
<clipPath id="cp_bah3"><path d="M616.4,333.9 624.1,336.4 622.8,339.0 616.4,337.2Z"/></clipPath>
<clipPath id="cp_bah4"><path d="M627.9,342.8 640.6,345.3 639.3,347.9 627.9,346.1Z"/></clipPath>
<clipPath id="cp_galap"><path d="M544.7,450.8 549.1,449.6 550.8,453.4 546.5,455.4Z"/></clipPath>
<clipPath id="cp_hawaii"><path d="M241.0,355.0 245.0,356.0 248.0,360.0 245.0,363.0 242.0,361.0Z"/></clipPath>
<clipPath id="cp_hawaii2"><path d="M232.0,350.0 236.0,350.0 237.0,352.0 233.0,352.0Z"/></clipPath>
</defs>
<path d="M178.5,201.1 188.8,197.3 201.5,193.5 214.3,189.7 224.5,185.8 234.7,182.0 240.4,176.9 234.7,173.6 227.1,171.8 216.9,173.1 214.3,170.0 206.6,167.9 198.5,164.1 196.9,159.8 204.1,155.2 214.3,152.1 220.7,149.5 219.4,146.2 206.6,145.5 196.9,144.4 187.5,141.1 196.4,138.6 206.6,138.3 215.6,138.1 222.0,136.0 215.6,132.2 206.6,129.6 193.4,127.6 206.6,124.0 211.7,119.9 222.0,117.9 232.2,115.6 240.4,113.8 250.1,115.1 262.8,116.9 278.2,118.9 289.7,119.9 299.9,119.9 313.9,121.5 336.4,124.0 347.1,122.0 359.9,119.9 360.0,119.7 373.6,118.3 385.4,120.5 402.4,122.2 419.3,123.9 432.9,126.4 444.7,128.5 461.7,128.5 470.2,130.7 478.6,128.5 495.6,127.8 509.2,125.6 509.7,132.0 519.4,131.0 529.1,129.1 538.7,125.2 548.4,125.2 554.2,122.3 558.1,121.3 567.8,122.3 573.6,123.2 582.3,121.3 590.1,123.2 593.0,127.1 591.0,132.0 585.2,133.9 575.5,134.9 569.7,138.7 567.8,144.6 566.8,150.4 560.0,151.3 550.4,152.3 543.6,155.2 536.8,158.1 532.0,162.0 531.0,167.8 534.9,173.6 540.7,180.4 548.4,181.4 558.1,183.3 567.8,187.2 577.5,189.1 582.3,191.0 587.2,196.9 589.6,200.2 595.9,206.5 602.2,210.4 605.3,203.3 604.6,195.4 608.5,190.7 614.8,186.0 615.6,179.7 611.6,175.0 606.9,171.1 609.3,165.5 608.5,159.2 611.6,156.1 621.1,155.3 627.4,156.1 640.0,159.2 647.8,162.4 654.1,167.1 663.6,168.7 669.9,165.5 674.6,170.3 680.9,176.6 687.2,182.9 693.5,187.6 699.8,192.3 706.1,197.0 710.8,203.3 707.6,208.8 698.2,212.0 690.3,214.3 674.6,215.9 658.9,220.6 641.5,229.3 643.1,230.5 658.9,225.7 671.4,228.5 677.7,232.4 687.2,234.5 693.5,231.6 690.3,237.2 679.3,240.3 669.9,243.4 663.6,246.6 655.7,249.0 628.6,256.1 621.0,265.0 615.9,275.2 611.3,290.0 609.5,290.0 601.8,295.1 595.4,300.2 592.9,306.6 594.1,314.3 596.7,324.5 598.0,332.2 594.1,330.9 590.3,322.0 587.8,314.3 582.6,309.2 573.7,307.9 563.5,306.6 553.3,307.9 543.1,309.7 532.8,311.7 525.2,315.6 518.8,320.7 516.2,332.2 517.0,342.4 520.1,350.1 522.6,357.7 525.2,362.8 532.8,364.1 543.1,361.6 550.7,357.7 553.3,351.3 563.5,348.8 567.3,350.1 563.5,357.7 560.9,367.9 559.7,375.6 568.6,376.9 578.8,378.2 582.6,383.3 582.6,393.5 583.9,403.7 590.3,407.5 601.8,406.3 609.5,408.8 617.1,406.8 617.1,410.1 614.6,416.5 612.0,420.3 604.4,417.8 596.7,416.5 590.3,413.9 583.9,410.1 576.3,403.7 571.1,396.0 563.5,389.7 553.3,385.8 543.1,380.7 532.8,375.6 522.6,374.3 512.4,370.5 499.6,366.7 489.4,364.1 481.7,359.0 476.6,350.1 470.2,342.4 463.9,334.7 457.5,327.1 449.8,318.1 443.4,309.2 439.6,303.6 437.0,306.6 440.9,314.3 447.3,324.5 453.6,332.2 460.0,339.8 461.3,342.9 454.9,339.8 449.8,332.2 444.7,324.5 438.3,318.1 434.5,311.7 434.5,306.6 428.1,301.5 423.0,295.1 417.9,291.3 411.5,288.8 405.1,281.1 402.0,272.1 395.7,272.7 393.1,262.5 391.1,252.2 391.8,242.0 394.4,231.8 399.5,226.7 395.7,220.3 388.0,216.5 379.1,211.4 372.7,203.7 365.0,196.0 354.8,188.4 347.1,183.3 339.5,176.9 331.8,173.1 320.3,169.2 308.8,167.9 293.5,165.9 283.3,163.3 273.1,161.6 267.9,164.1 260.3,169.2 252.6,174.3 242.4,180.7 232.2,185.8 219.4,190.4 204.1,194.8 188.8,199.1Z" fill="#FB8072" stroke="none"/>
<g clip-path="url(#cp_NA)">
<path d="M365.0,30.0 365.0,130.1 430.2,130.1 430.2,139.3 477.4,139.3 477.4,148.0 505.5,148.0 505.5,157.7 524.7,157.7 524.7,167.9 531.1,167.9 617.6,167.9 645.2,167.9 645.2,177.6 673.3,177.6 673.3,187.1 683.6,187.1 683.6,196.0 705.3,196.0 730.8,183.3 730.8,30.0Z" fill="#FCCDE5" stroke="#555555" stroke-width="1.9" stroke-linejoin="round"/>
<path d="M580.2,190.7 588.0,190.7 588.0,197.0 580.2,197.0Z" fill="#FCCDE5" stroke="#555555" stroke-width="1.9" stroke-linejoin="round"/>
<path d="M289.7,120.0 299.9,120.0 299.9,130.1 289.7,130.1Z" fill="#FCCDE5" stroke="#555555" stroke-width="1.9" stroke-linejoin="round"/>
<path d="M336.4,124.0 346.6,124.0 346.6,130.1 336.4,130.1Z" fill="#FCCDE5" stroke="#555555" stroke-width="1.9" stroke-linejoin="round"/>
<path d="M150.0,110.0 215.6,110.0 215.6,132.7 205.0,132.7 150.0,135.0Z" fill="#FCCDE5" stroke="#555555" stroke-width="1.9" stroke-linejoin="round"/>
<path d="M150.0,150.0 215.6,150.0 215.6,166.0 150.0,166.0Z" fill="#FCCDE5" stroke="#555555" stroke-width="1.9" stroke-linejoin="round"/>
<path d="M476.6,366.2 524.7,366.2 524.7,337.3 681.0,337.3 681.0,459.9 476.6,459.9Z" fill="#D9D9D9" stroke="#555555" stroke-width="1.9" stroke-linejoin="round"/>
</g>
<path d="M178.5,201.1 188.8,197.3 201.5,193.5 214.3,189.7 224.5,185.8 234.7,182.0 240.4,176.9 234.7,173.6 227.1,171.8 216.9,173.1 214.3,170.0 206.6,167.9 198.5,164.1 196.9,159.8 204.1,155.2 214.3,152.1 220.7,149.5 219.4,146.2 206.6,145.5 196.9,144.4 187.5,141.1 196.4,138.6 206.6,138.3 215.6,138.1 222.0,136.0 215.6,132.2 206.6,129.6 193.4,127.6 206.6,124.0 211.7,119.9 222.0,117.9 232.2,115.6 240.4,113.8 250.1,115.1 262.8,116.9 278.2,118.9 289.7,119.9 299.9,119.9 313.9,121.5 336.4,124.0 347.1,122.0 359.9,119.9 360.0,119.7 373.6,118.3 385.4,120.5 402.4,122.2 419.3,123.9 432.9,126.4 444.7,128.5 461.7,128.5 470.2,130.7 478.6,128.5 495.6,127.8 509.2,125.6 509.7,132.0 519.4,131.0 529.1,129.1 538.7,125.2 548.4,125.2 554.2,122.3 558.1,121.3 567.8,122.3 573.6,123.2 582.3,121.3 590.1,123.2 593.0,127.1 591.0,132.0 585.2,133.9 575.5,134.9 569.7,138.7 567.8,144.6 566.8,150.4 560.0,151.3 550.4,152.3 543.6,155.2 536.8,158.1 532.0,162.0 531.0,167.8 534.9,173.6 540.7,180.4 548.4,181.4 558.1,183.3 567.8,187.2 577.5,189.1 582.3,191.0 587.2,196.9 589.6,200.2 595.9,206.5 602.2,210.4 605.3,203.3 604.6,195.4 608.5,190.7 614.8,186.0 615.6,179.7 611.6,175.0 606.9,171.1 609.3,165.5 608.5,159.2 611.6,156.1 621.1,155.3 627.4,156.1 640.0,159.2 647.8,162.4 654.1,167.1 663.6,168.7 669.9,165.5 674.6,170.3 680.9,176.6 687.2,182.9 693.5,187.6 699.8,192.3 706.1,197.0 710.8,203.3 707.6,208.8 698.2,212.0 690.3,214.3 674.6,215.9 658.9,220.6 641.5,229.3 643.1,230.5 658.9,225.7 671.4,228.5 677.7,232.4 687.2,234.5 693.5,231.6 690.3,237.2 679.3,240.3 669.9,243.4 663.6,246.6 655.7,249.0 628.6,256.1 621.0,265.0 615.9,275.2 611.3,290.0 609.5,290.0 601.8,295.1 595.4,300.2 592.9,306.6 594.1,314.3 596.7,324.5 598.0,332.2 594.1,330.9 590.3,322.0 587.8,314.3 582.6,309.2 573.7,307.9 563.5,306.6 553.3,307.9 543.1,309.7 532.8,311.7 525.2,315.6 518.8,320.7 516.2,332.2 517.0,342.4 520.1,350.1 522.6,357.7 525.2,362.8 532.8,364.1 543.1,361.6 550.7,357.7 553.3,351.3 563.5,348.8 567.3,350.1 563.5,357.7 560.9,367.9 559.7,375.6 568.6,376.9 578.8,378.2 582.6,383.3 582.6,393.5 583.9,403.7 590.3,407.5 601.8,406.3 609.5,408.8 617.1,406.8 617.1,410.1 614.6,416.5 612.0,420.3 604.4,417.8 596.7,416.5 590.3,413.9 583.9,410.1 576.3,403.7 571.1,396.0 563.5,389.7 553.3,385.8 543.1,380.7 532.8,375.6 522.6,374.3 512.4,370.5 499.6,366.7 489.4,364.1 481.7,359.0 476.6,350.1 470.2,342.4 463.9,334.7 457.5,327.1 449.8,318.1 443.4,309.2 439.6,303.6 437.0,306.6 440.9,314.3 447.3,324.5 453.6,332.2 460.0,339.8 461.3,342.9 454.9,339.8 449.8,332.2 444.7,324.5 438.3,318.1 434.5,311.7 434.5,306.6 428.1,301.5 423.0,295.1 417.9,291.3 411.5,288.8 405.1,281.1 402.0,272.1 395.7,272.7 393.1,262.5 391.1,252.2 391.8,242.0 394.4,231.8 399.5,226.7 395.7,220.3 388.0,216.5 379.1,211.4 372.7,203.7 365.0,196.0 354.8,188.4 347.1,183.3 339.5,176.9 331.8,173.1 320.3,169.2 308.8,167.9 293.5,165.9 283.3,163.3 273.1,161.6 267.9,164.1 260.3,169.2 252.6,174.3 242.4,180.7 232.2,185.8 219.4,190.4 204.1,194.8 188.8,199.1Z" fill="none" stroke="#555555" stroke-width="1.9" stroke-linejoin="round"/>
<path d="M618.1,407.2 619.0,403.6 621.7,399.1 629.0,397.3 636.3,393.6 639.9,392.7 640.8,396.3 643.5,398.2 650.8,399.1 659.9,400.9 669.0,400.9 678.0,400.0 687.1,400.0 688.9,405.4 687.1,409.1 694.4,411.8 699.8,416.3 703.5,420.0 710.7,422.7 718.0,422.7 725.3,425.4 732.5,429.0 736.1,434.5 739.8,443.6 738.9,449.0 734.3,454.5 728.0,458.1 736.1,459.9 741.6,457.2 748.9,453.5 756.1,455.4 763.4,458.1 765.2,462.6 772.5,463.5 783.4,464.4 792.4,467.2 799.7,471.7 807.0,474.4 810.6,479.0 811.5,487.1 808.8,494.4 803.3,501.7 797.9,507.1 792.4,510.7 791.5,521.6 790.6,530.7 787.9,539.8 785.2,547.1 779.7,554.3 774.3,558.9 765.2,561.6 757.9,564.3 750.7,568.9 746.1,572.5 747.0,579.8 743.4,587.0 738.0,594.3 732.5,599.7 727.1,607.0 719.8,614.3 714.4,616.1 708.9,615.2 703.5,612.4 700.7,606.1 702.6,613.4 706.2,618.8 708.9,623.3 707.1,628.8 701.6,632.4 690.7,634.2 683.5,635.1 682.6,639.7 676.2,643.3 669.0,645.1 670.8,650.6 674.4,652.4 669.0,656.0 667.1,661.5 661.7,665.1 658.1,668.7 660.8,672.4 665.3,676.0 661.7,679.6 656.2,685.1 652.6,688.7 649.0,692.3 650.8,697.8 654.4,701.4 661.7,705.1 673.5,706.9 661.7,709.6 658.1,712.3 647.2,710.5 636.3,706.9 627.2,701.4 621.7,694.2 619.9,685.1 620.8,677.8 623.6,670.6 621.7,663.3 625.4,654.2 628.1,646.9 629.0,637.9 630.8,627.0 632.6,619.7 636.3,610.6 638.1,601.5 639.9,588.8 641.7,576.1 643.5,561.6 644.4,550.7 644.4,539.8 639.9,534.4 632.6,530.7 625.4,528.0 618.1,521.6 614.5,514.4 610.8,507.1 606.3,498.0 602.7,489.0 598.1,481.7 593.6,479.0 593.6,470.8 596.3,463.5 598.1,456.3 599.0,449.0 602.7,443.6 605.4,438.1 610.8,434.5 612.7,427.2 612.7,422.7 616.3,416.3Z" fill="#80B1D3" stroke="none"/>
<g clip-path="url(#cp_SAm)">
<path d="M605.4,398.2 618.1,398.2 618.1,422.7 627.6,422.7 627.6,432.3 618.1,432.3 618.1,434.5 605.4,434.5Z" fill="#D9D9D9" stroke="#555555" stroke-width="1.9" stroke-linejoin="round"/>
<path d="M636.3,403.6 646.3,403.6 646.3,413.2 636.3,413.2Z" fill="#D9D9D9" stroke="#555555" stroke-width="1.9" stroke-linejoin="round"/>
</g>
<path d="M618.1,407.2 619.0,403.6 621.7,399.1 629.0,397.3 636.3,393.6 639.9,392.7 640.8,396.3 643.5,398.2 650.8,399.1 659.9,400.9 669.0,400.9 678.0,400.0 687.1,400.0 688.9,405.4 687.1,409.1 694.4,411.8 699.8,416.3 703.5,420.0 710.7,422.7 718.0,422.7 725.3,425.4 732.5,429.0 736.1,434.5 739.8,443.6 738.9,449.0 734.3,454.5 728.0,458.1 736.1,459.9 741.6,457.2 748.9,453.5 756.1,455.4 763.4,458.1 765.2,462.6 772.5,463.5 783.4,464.4 792.4,467.2 799.7,471.7 807.0,474.4 810.6,479.0 811.5,487.1 808.8,494.4 803.3,501.7 797.9,507.1 792.4,510.7 791.5,521.6 790.6,530.7 787.9,539.8 785.2,547.1 779.7,554.3 774.3,558.9 765.2,561.6 757.9,564.3 750.7,568.9 746.1,572.5 747.0,579.8 743.4,587.0 738.0,594.3 732.5,599.7 727.1,607.0 719.8,614.3 714.4,616.1 708.9,615.2 703.5,612.4 700.7,606.1 702.6,613.4 706.2,618.8 708.9,623.3 707.1,628.8 701.6,632.4 690.7,634.2 683.5,635.1 682.6,639.7 676.2,643.3 669.0,645.1 670.8,650.6 674.4,652.4 669.0,656.0 667.1,661.5 661.7,665.1 658.1,668.7 660.8,672.4 665.3,676.0 661.7,679.6 656.2,685.1 652.6,688.7 649.0,692.3 650.8,697.8 654.4,701.4 661.7,705.1 673.5,706.9 661.7,709.6 658.1,712.3 647.2,710.5 636.3,706.9 627.2,701.4 621.7,694.2 619.9,685.1 620.8,677.8 623.6,670.6 621.7,663.3 625.4,654.2 628.1,646.9 629.0,637.9 630.8,627.0 632.6,619.7 636.3,610.6 638.1,601.5 639.9,588.8 641.7,576.1 643.5,561.6 644.4,550.7 644.4,539.8 639.9,534.4 632.6,530.7 625.4,528.0 618.1,521.6 614.5,514.4 610.8,507.1 606.3,498.0 602.7,489.0 598.1,481.7 593.6,479.0 593.6,470.8 596.3,463.5 598.1,456.3 599.0,449.0 602.7,443.6 605.4,438.1 610.8,434.5 612.7,427.2 612.7,422.7 616.3,416.3Z" fill="none" stroke="#555555" stroke-width="1.9" stroke-linejoin="round"/>
<path d="M947.5,279.8 943.6,277.4 937.3,275.9 931.8,275.1 931.0,265.6 930.2,256.2 931.0,247.5 935.7,245.2 943.6,245.2 951.5,245.2 959.3,245.5 967.2,245.2 967.2,240.5 970.4,237.3 968.8,232.6 964.1,227.9 959.3,224.7 953.8,221.9 957.8,221.2 965.6,219.6 971.9,217.2 979.8,213.3 983.0,210.2 989.2,207.8 995.5,203.9 998.7,200.7 1005.0,198.4 1011.3,196.8 1014.4,194.4 1012.9,188.1 1012.1,181.8 1016.0,180.3 1020.7,181.8 1022.3,188.1 1020.7,191.3 1027.0,194.4 1033.3,192.9 1039.6,194.4 1045.9,191.3 1053.8,191.3 1061.6,192.9 1067.9,190.5 1071.1,185.0 1074.2,178.7 1077.4,174.0 1083.7,172.4 1093.1,169.2 1102.6,167.7 1108.9,166.1 1101.0,165.3 1093.1,166.1 1085.3,167.7 1077.4,167.7 1074.2,164.5 1074.2,158.2 1077.4,151.9 1083.7,147.2 1091.5,142.5 1086.8,140.1 1079.0,140.9 1074.2,144.9 1071.1,150.4 1061.6,153.5 1055.3,158.2 1054.6,163.0 1058.5,167.7 1055.3,172.4 1052.2,177.1 1050.6,183.4 1049.1,188.1 1042.8,189.7 1036.5,189.7 1033.3,185.0 1030.2,178.7 1027.0,174.0 1023.9,169.2 1017.6,172.4 1011.3,175.5 1005.0,175.5 1000.3,170.8 997.1,163.0 997.1,158.2 1005.0,153.5 1014.4,148.8 1022.3,144.1 1030.2,137.8 1036.5,131.5 1044.3,126.8 1053.8,122.0 1064.8,118.9 1077.4,116.5 1093.1,115.0 1108.9,116.5 1119.9,118.9 1132.5,122.0 1148.2,125.2 1162.4,128.3 1167.1,133.1 1162.4,137.8 1152.9,137.8 1140.3,136.5 1127.7,133.8 1123.0,133.8 1130.9,139.3 1137.2,142.5 1141.9,147.2 1148.2,146.4 1156.1,144.9 1162.4,141.2 1168.7,137.8 1175.0,136.2 1180.0,137.8 1190.2,127.4 1200.3,131.2 1210.5,128.6 1223.2,126.1 1235.9,123.6 1248.6,121.0 1261.4,122.3 1274.1,123.6 1286.8,124.8 1300.0,126.6 1299.9,124.2 1302.8,108.1 1312.5,106.5 1317.3,124.2 1314.1,135.4 1328.5,129.0 1341.3,131.2 1328.5,121.0 1325.3,111.3 1338.1,106.5 1354.2,104.9 1362.2,116.1 1367.0,108.1 1376.6,100.1 1386.2,96.9 1402.3,93.7 1418.3,90.5 1434.4,88.9 1450.4,87.3 1466.5,85.7 1485.7,88.2 1503.3,90.5 1506.6,94.6 1488.9,100.1 1469.7,106.5 1488.9,104.9 1508.2,104.9 1527.4,104.9 1546.7,104.9 1565.9,106.5 1578.7,111.3 1590.0,116.1 1598.0,111.3 1607.6,112.0 1600.0,113.3 1613.3,112.7 1626.6,110.0 1640.0,108.7 1653.3,110.0 1666.6,110.0 1679.9,113.3 1690.6,116.0 1706.5,115.3 1719.9,116.6 1723.9,121.3 1733.2,122.0 1746.5,121.3 1759.8,120.6 1773.1,120.0 1786.4,120.6 1799.8,122.0 1816.4,124.0 1816.4,143.9 1791.8,145.0 1807.8,146.6 1813.1,150.6 1815.5,155.3 1799.8,155.9 1786.4,159.3 1773.1,165.3 1766.5,165.3 1753.1,165.9 1741.2,170.6 1733.2,177.2 1737.2,183.9 1733.2,191.9 1726.5,197.2 1719.9,201.2 1714.5,205.2 1707.9,209.2 1703.9,193.2 1702.5,185.2 1707.9,178.6 1719.9,171.9 1733.2,165.3 1741.2,159.3 1747.8,155.9 1741.2,155.3 1733.2,159.9 1725.2,163.9 1723.9,158.6 1713.2,158.6 1703.9,162.6 1695.9,169.3 1682.6,171.9 1673.2,169.3 1659.9,169.9 1646.6,169.9 1637.3,172.6 1626.6,178.6 1616.0,185.2 1606.7,191.9 1614.6,193.2 1622.6,194.6 1629.3,195.9 1636.0,199.2 1632.0,206.5 1630.6,214.5 1626.6,222.5 1620.0,230.5 1613.3,238.5 1610.7,240.0 1601.2,246.1 1588.4,250.9 1580.3,255.7 1572.3,262.1 1569.1,271.7 1573.9,284.6 1566.5,287.1 1565.3,278.2 1559.5,266.9 1546.7,261.5 1537.0,265.3 1527.4,268.5 1535.4,278.2 1543.4,284.6 1540.2,297.4 1543.4,310.2 1537.7,323.1 1534.5,330.1 1520.0,339.7 1511.9,341.7 1506.8,344.2 1496.6,348.1 1489.0,349.3 1481.4,351.9 1473.7,355.7 1471.2,359.5 1475.0,364.6 1481.4,372.2 1486.4,382.4 1485.2,392.5 1478.8,400.2 1471.2,405.3 1466.1,409.1 1463.6,402.7 1455.9,397.6 1449.6,392.5 1443.2,390.0 1441.0,397.0 1446.0,408.0 1452.0,418.0 1457.0,428.0 1461.0,438.0 1463.0,447.0 1458.0,446.0 1452.0,437.0 1446.0,428.0 1439.0,418.0 1436.0,408.0 1434.0,398.0 1433.0,388.0 1430.5,370.9 1425.4,372.2 1417.8,372.2 1414.0,362.0 1408.9,351.9 1403.8,345.5 1400.0,340.4 1392.4,344.2 1382.2,348.1 1374.6,354.4 1364.4,364.6 1354.2,372.2 1349.2,379.8 1348.6,392.5 1344.6,402.7 1337.7,411.6 1333.4,407.8 1328.8,395.1 1323.7,382.4 1319.2,367.1 1316.1,357.0 1312.3,348.1 1303.4,346.8 1295.8,341.7 1288.1,336.6 1283.1,330.8 1265.3,331.0 1252.5,330.3 1238.6,326.4 1227.1,323.9 1217.0,318.8 1209.3,313.7 1201.2,309.9 1206.8,321.4 1211.9,327.7 1217.0,334.6 1224.6,336.1 1232.2,331.0 1238.6,324.7 1240.3,329.5 1247.5,339.2 1253.8,345.5 1244.9,359.5 1232.2,369.7 1217.0,377.3 1201.7,382.4 1186.4,387.5 1176.8,390.5 1173.7,379.8 1166.1,364.6 1155.9,346.8 1145.8,331.5 1138.1,316.3 1133.1,310.7 1126.2,309.8 1132.8,319.6 1137.1,328.3 1143.7,343.6 1150.2,356.7 1158.9,369.7 1167.7,380.6 1174.2,389.3 1178.5,395.9 1185.1,400.2 1196.0,398.1 1206.9,395.9 1212.3,395.9 1206.9,409.0 1200.3,422.0 1191.6,432.9 1182.9,441.6 1172.0,452.5 1163.3,461.3 1157.8,472.2 1156.8,483.1 1161.1,489.6 1163.3,500.5 1164.4,511.4 1163.3,522.3 1156.8,528.8 1148.0,535.4 1139.3,541.9 1137.1,548.4 1139.3,557.1 1139.3,565.9 1130.6,570.2 1127.3,574.6 1126.2,583.3 1119.7,592.0 1111.0,600.7 1102.3,607.3 1093.6,611.6 1082.7,613.8 1067.4,614.9 1060.9,611.6 1058.7,605.1 1054.3,598.5 1047.8,587.7 1043.4,576.8 1041.3,561.5 1036.9,552.8 1032.5,544.1 1029.3,533.2 1030.4,522.3 1032.5,513.6 1036.9,504.8 1034.7,491.8 1032.5,483.1 1030.4,474.3 1026.0,467.8 1019.5,459.1 1015.1,452.5 1017.3,443.8 1019.5,436.2 1015.1,430.8 1008.6,429.7 999.9,426.4 991.1,419.9 982.4,422.0 973.7,424.2 962.8,427.5 951.9,426.4 938.8,429.7 927.9,424.2 919.2,417.7 912.7,411.1 908.3,404.6 901.8,395.9 896.3,389.3 893.1,380.6 896.3,371.9 897.4,361.0 895.3,352.3 894.2,346.9 897.4,339.2 901.8,332.7 906.2,328.3 912.7,321.8 919.2,317.4 925.8,310.9 929.0,304.4 932.6,300.3 935.7,295.5 940.5,290.8 945.2,286.1 948.3,281.7 951.5,283.0 957.8,283.7 964.1,282.2 971.9,280.6 979.8,279.5 987.7,278.2 995.5,277.4 1003.4,276.7 1011.3,275.9 1017.6,275.9 1022.3,278.2 1023.9,283.0 1025.4,287.7 1030.2,290.8 1039.6,294.0 1045.9,298.7 1052.2,301.8 1058.5,305.0 1063.2,305.8 1066.4,301.8 1071.1,298.7 1077.4,297.1 1085.3,297.9 1093.1,299.5 1101.0,301.1 1108.9,301.8 1115.2,302.6 1121.4,303.4 1129.3,301.8 1135.6,298.7 1138.8,292.4 1140.3,286.1 1141.9,279.8 1140.3,276.7 1132.5,277.4 1124.6,278.2 1116.7,279.8 1107.3,279.0 1102.6,276.7 1097.8,271.9 1094.7,265.6 1096.3,260.9 1098.6,259.0 1090.0,258.6 1083.7,259.3 1082.1,264.1 1080.5,268.8 1083.7,273.5 1082.1,275.4 1079.0,279.0 1075.8,277.4 1071.1,270.4 1070.9,266.3 1068.7,264.1 1066.5,262.7 1064.3,259.1 1065.4,253.6 1061.8,251.1 1056.3,248.2 1050.9,245.3 1045.4,240.9 1040.3,237.3 1036.3,234.4 1031.0,235.7 1031.0,237.3 1032.1,242.0 1037.4,245.6 1040.3,250.3 1045.4,252.9 1049.8,254.0 1054.6,256.9 1059.3,259.1 1060.8,262.0 1059.3,263.4 1055.3,262.2 1052.0,260.4 1051.3,263.3 1054.2,266.9 1052.8,269.1 1049.1,271.8 1047.6,270.0 1049.1,266.3 1047.6,262.7 1043.6,259.8 1038.2,256.4 1031.0,253.5 1023.6,247.4 1020.0,242.4 1014.4,242.0 1009.7,243.6 1003.4,245.2 995.5,246.0 989.2,248.3 987.7,252.3 983.0,256.2 976.7,259.3 971.9,264.1 970.4,268.8 965.6,274.3 960.9,276.7 954.6,279.0Z" fill="#FCCDE5" stroke="none"/>
<g clip-path="url(#cp_AFEU)">
<path d="M920.0,286.1 946.8,281.1 967.2,280.1 998.7,277.6 1016.0,277.0 1028.6,281.4 1045.9,284.5 1061.6,291.6 1077.4,294.0 1093.1,295.5 1108.9,297.4 1124.6,297.9 1136.4,294.0 1138.4,286.1 1139.5,279.0 1141.9,274.3 1142.7,271.1 1143.2,271.8 1178.8,271.8 1178.8,280.7 1189.0,280.7 1189.0,289.6 1197.9,289.6 1197.9,299.7 1208.1,299.7 1208.1,308.6 1236.0,308.6 1236.0,299.7 1218.2,299.7 1218.2,290.8 1209.3,290.8 1209.3,280.7 1227.1,280.7 1227.1,271.8 1246.2,271.8 1246.2,280.7 1302.1,280.7 1302.1,271.8 1319.9,271.8 1319.9,280.7 1330.1,280.7 1330.1,290.8 1339.0,290.8 1339.0,299.7 1330.1,299.7 1330.1,290.8 1311.0,290.8 1311.0,299.7 1302.1,299.7 1302.1,309.9 1293.2,309.9 1293.2,320.1 1283.1,320.1 1283.1,329.0 1265.3,329.0 1265.3,346.8 1257.6,367.1 1242.4,377.3 1217.0,386.2 1191.5,392.5 1176.3,394.1 1168.6,382.4 1159.7,364.6 1149.6,346.8 1140.7,332.8 1135.6,326.4 1133.1,337.9 1105.1,337.9 1105.1,357.0 1100.0,357.0 1105.5,356.7 1076.8,356.7 1076.8,347.3 1067.4,347.3 1067.4,338.1 1040.2,338.1 1040.2,347.3 1011.8,347.3 1011.8,356.7 982.9,356.7 982.9,347.3 973.7,347.3 973.7,338.1 963.9,338.1 963.9,328.8 955.2,328.8 955.2,338.1 945.4,338.1 945.4,328.8 908.3,328.8 908.3,346.9 858.2,346.9Z" fill="#BC80BD" stroke="#555555" stroke-width="1.9" stroke-linejoin="round"/>
<path d="M858.2,346.9 908.3,346.9 908.3,328.8 945.4,328.8 945.4,338.1 955.2,338.1 955.2,328.8 963.9,328.8 963.9,338.1 973.7,338.1 973.7,347.3 982.9,347.3 982.9,356.7 1011.8,356.7 1011.8,347.3 1040.2,347.3 1040.2,338.1 1067.4,338.1 1067.4,347.3 1076.8,347.3 1076.8,356.7 1105.5,356.7 1105.5,338.1 1133.2,338.1 1133.2,320.7 1140.4,321.8 1146.9,337.0 1154.6,352.3 1163.3,367.6 1170.9,380.6 1170.9,394.1 1177.5,394.1 1182.9,395.9 1198.2,394.8 1215.6,391.5 1272.3,391.5 1272.3,648.7 858.2,648.7Z" fill="#8DD3C7" stroke="#555555" stroke-width="1.9" stroke-linejoin="round"/>
<path d="M1265.3,346.8 1265.3,329.0 1283.1,329.0 1283.1,320.1 1293.2,320.1 1293.2,309.9 1302.1,309.9 1302.1,299.7 1311.0,299.7 1311.0,290.8 1330.1,290.8 1330.1,299.7 1339.0,299.7 1339.0,308.6 1358.1,308.6 1358.1,318.8 1377.1,318.8 1377.1,327.7 1394.9,327.7 1394.9,318.8 1424.2,318.8 1424.2,327.7 1469.9,327.7 1469.9,337.9 1508.1,337.9 1508.1,341.2 1511.9,344.7 1557.6,344.7 1557.6,519.7 1278.0,519.7 1265.3,418.0Z" fill="#B3DE69" stroke="#555555" stroke-width="1.9" stroke-linejoin="round"/>
<path d="M1330.1,280.7 1386.0,280.7 1386.0,271.8 1442.0,271.8 1442.0,280.7 1433.1,280.7 1433.1,289.6 1480.1,289.6 1480.1,280.7 1489.0,280.7 1489.0,271.8 1508.1,271.8 1508.1,261.6 1517.7,261.6 1517.8,261.5 1517.8,252.5 1536.4,252.5 1536.4,265.3 1556.3,284.6 1556.3,330.1 1560.0,345.0 1530.0,345.0 1511.9,344.7 1508.1,341.2 1508.1,337.9 1469.9,337.9 1469.9,327.7 1424.2,327.7 1424.2,318.8 1394.9,318.8 1394.9,327.7 1377.1,327.7 1377.1,318.8 1358.1,318.8 1358.1,308.6 1339.0,308.6 1339.0,290.8 1330.1,290.8Z" fill="#CCEBC5" stroke="#555555" stroke-width="1.9" stroke-linejoin="round"/>
<path d="M1198.6,346.8 1208.8,346.8 1208.8,356.4 1198.6,356.4Z" fill="#FCCDE5" stroke="#555555" stroke-width="1.9" stroke-linejoin="round"/>
</g>
<path d="M947.5,279.8 943.6,277.4 937.3,275.9 931.8,275.1 931.0,265.6 930.2,256.2 931.0,247.5 935.7,245.2 943.6,245.2 951.5,245.2 959.3,245.5 967.2,245.2 967.2,240.5 970.4,237.3 968.8,232.6 964.1,227.9 959.3,224.7 953.8,221.9 957.8,221.2 965.6,219.6 971.9,217.2 979.8,213.3 983.0,210.2 989.2,207.8 995.5,203.9 998.7,200.7 1005.0,198.4 1011.3,196.8 1014.4,194.4 1012.9,188.1 1012.1,181.8 1016.0,180.3 1020.7,181.8 1022.3,188.1 1020.7,191.3 1027.0,194.4 1033.3,192.9 1039.6,194.4 1045.9,191.3 1053.8,191.3 1061.6,192.9 1067.9,190.5 1071.1,185.0 1074.2,178.7 1077.4,174.0 1083.7,172.4 1093.1,169.2 1102.6,167.7 1108.9,166.1 1101.0,165.3 1093.1,166.1 1085.3,167.7 1077.4,167.7 1074.2,164.5 1074.2,158.2 1077.4,151.9 1083.7,147.2 1091.5,142.5 1086.8,140.1 1079.0,140.9 1074.2,144.9 1071.1,150.4 1061.6,153.5 1055.3,158.2 1054.6,163.0 1058.5,167.7 1055.3,172.4 1052.2,177.1 1050.6,183.4 1049.1,188.1 1042.8,189.7 1036.5,189.7 1033.3,185.0 1030.2,178.7 1027.0,174.0 1023.9,169.2 1017.6,172.4 1011.3,175.5 1005.0,175.5 1000.3,170.8 997.1,163.0 997.1,158.2 1005.0,153.5 1014.4,148.8 1022.3,144.1 1030.2,137.8 1036.5,131.5 1044.3,126.8 1053.8,122.0 1064.8,118.9 1077.4,116.5 1093.1,115.0 1108.9,116.5 1119.9,118.9 1132.5,122.0 1148.2,125.2 1162.4,128.3 1167.1,133.1 1162.4,137.8 1152.9,137.8 1140.3,136.5 1127.7,133.8 1123.0,133.8 1130.9,139.3 1137.2,142.5 1141.9,147.2 1148.2,146.4 1156.1,144.9 1162.4,141.2 1168.7,137.8 1175.0,136.2 1180.0,137.8 1190.2,127.4 1200.3,131.2 1210.5,128.6 1223.2,126.1 1235.9,123.6 1248.6,121.0 1261.4,122.3 1274.1,123.6 1286.8,124.8 1300.0,126.6 1299.9,124.2 1302.8,108.1 1312.5,106.5 1317.3,124.2 1314.1,135.4 1328.5,129.0 1341.3,131.2 1328.5,121.0 1325.3,111.3 1338.1,106.5 1354.2,104.9 1362.2,116.1 1367.0,108.1 1376.6,100.1 1386.2,96.9 1402.3,93.7 1418.3,90.5 1434.4,88.9 1450.4,87.3 1466.5,85.7 1485.7,88.2 1503.3,90.5 1506.6,94.6 1488.9,100.1 1469.7,106.5 1488.9,104.9 1508.2,104.9 1527.4,104.9 1546.7,104.9 1565.9,106.5 1578.7,111.3 1590.0,116.1 1598.0,111.3 1607.6,112.0 1600.0,113.3 1613.3,112.7 1626.6,110.0 1640.0,108.7 1653.3,110.0 1666.6,110.0 1679.9,113.3 1690.6,116.0 1706.5,115.3 1719.9,116.6 1723.9,121.3 1733.2,122.0 1746.5,121.3 1759.8,120.6 1773.1,120.0 1786.4,120.6 1799.8,122.0 1816.4,124.0 1816.4,143.9 1791.8,145.0 1807.8,146.6 1813.1,150.6 1815.5,155.3 1799.8,155.9 1786.4,159.3 1773.1,165.3 1766.5,165.3 1753.1,165.9 1741.2,170.6 1733.2,177.2 1737.2,183.9 1733.2,191.9 1726.5,197.2 1719.9,201.2 1714.5,205.2 1707.9,209.2 1703.9,193.2 1702.5,185.2 1707.9,178.6 1719.9,171.9 1733.2,165.3 1741.2,159.3 1747.8,155.9 1741.2,155.3 1733.2,159.9 1725.2,163.9 1723.9,158.6 1713.2,158.6 1703.9,162.6 1695.9,169.3 1682.6,171.9 1673.2,169.3 1659.9,169.9 1646.6,169.9 1637.3,172.6 1626.6,178.6 1616.0,185.2 1606.7,191.9 1614.6,193.2 1622.6,194.6 1629.3,195.9 1636.0,199.2 1632.0,206.5 1630.6,214.5 1626.6,222.5 1620.0,230.5 1613.3,238.5 1610.7,240.0 1601.2,246.1 1588.4,250.9 1580.3,255.7 1572.3,262.1 1569.1,271.7 1573.9,284.6 1566.5,287.1 1565.3,278.2 1559.5,266.9 1546.7,261.5 1537.0,265.3 1527.4,268.5 1535.4,278.2 1543.4,284.6 1540.2,297.4 1543.4,310.2 1537.7,323.1 1534.5,330.1 1520.0,339.7 1511.9,341.7 1506.8,344.2 1496.6,348.1 1489.0,349.3 1481.4,351.9 1473.7,355.7 1471.2,359.5 1475.0,364.6 1481.4,372.2 1486.4,382.4 1485.2,392.5 1478.8,400.2 1471.2,405.3 1466.1,409.1 1463.6,402.7 1455.9,397.6 1449.6,392.5 1443.2,390.0 1441.0,397.0 1446.0,408.0 1452.0,418.0 1457.0,428.0 1461.0,438.0 1463.0,447.0 1458.0,446.0 1452.0,437.0 1446.0,428.0 1439.0,418.0 1436.0,408.0 1434.0,398.0 1433.0,388.0 1430.5,370.9 1425.4,372.2 1417.8,372.2 1414.0,362.0 1408.9,351.9 1403.8,345.5 1400.0,340.4 1392.4,344.2 1382.2,348.1 1374.6,354.4 1364.4,364.6 1354.2,372.2 1349.2,379.8 1348.6,392.5 1344.6,402.7 1337.7,411.6 1333.4,407.8 1328.8,395.1 1323.7,382.4 1319.2,367.1 1316.1,357.0 1312.3,348.1 1303.4,346.8 1295.8,341.7 1288.1,336.6 1283.1,330.8 1265.3,331.0 1252.5,330.3 1238.6,326.4 1227.1,323.9 1217.0,318.8 1209.3,313.7 1201.2,309.9 1206.8,321.4 1211.9,327.7 1217.0,334.6 1224.6,336.1 1232.2,331.0 1238.6,324.7 1240.3,329.5 1247.5,339.2 1253.8,345.5 1244.9,359.5 1232.2,369.7 1217.0,377.3 1201.7,382.4 1186.4,387.5 1176.8,390.5 1173.7,379.8 1166.1,364.6 1155.9,346.8 1145.8,331.5 1138.1,316.3 1133.1,310.7 1126.2,309.8 1132.8,319.6 1137.1,328.3 1143.7,343.6 1150.2,356.7 1158.9,369.7 1167.7,380.6 1174.2,389.3 1178.5,395.9 1185.1,400.2 1196.0,398.1 1206.9,395.9 1212.3,395.9 1206.9,409.0 1200.3,422.0 1191.6,432.9 1182.9,441.6 1172.0,452.5 1163.3,461.3 1157.8,472.2 1156.8,483.1 1161.1,489.6 1163.3,500.5 1164.4,511.4 1163.3,522.3 1156.8,528.8 1148.0,535.4 1139.3,541.9 1137.1,548.4 1139.3,557.1 1139.3,565.9 1130.6,570.2 1127.3,574.6 1126.2,583.3 1119.7,592.0 1111.0,600.7 1102.3,607.3 1093.6,611.6 1082.7,613.8 1067.4,614.9 1060.9,611.6 1058.7,605.1 1054.3,598.5 1047.8,587.7 1043.4,576.8 1041.3,561.5 1036.9,552.8 1032.5,544.1 1029.3,533.2 1030.4,522.3 1032.5,513.6 1036.9,504.8 1034.7,491.8 1032.5,483.1 1030.4,474.3 1026.0,467.8 1019.5,459.1 1015.1,452.5 1017.3,443.8 1019.5,436.2 1015.1,430.8 1008.6,429.7 999.9,426.4 991.1,419.9 982.4,422.0 973.7,424.2 962.8,427.5 951.9,426.4 938.8,429.7 927.9,424.2 919.2,417.7 912.7,411.1 908.3,404.6 901.8,395.9 896.3,389.3 893.1,380.6 896.3,371.9 897.4,361.0 895.3,352.3 894.2,346.9 897.4,339.2 901.8,332.7 906.2,328.3 912.7,321.8 919.2,317.4 925.8,310.9 929.0,304.4 932.6,300.3 935.7,295.5 940.5,290.8 945.2,286.1 948.3,281.7 951.5,283.0 957.8,283.7 964.1,282.2 971.9,280.6 979.8,279.5 987.7,278.2 995.5,277.4 1003.4,276.7 1011.3,275.9 1017.6,275.9 1022.3,278.2 1023.9,283.0 1025.4,287.7 1030.2,290.8 1039.6,294.0 1045.9,298.7 1052.2,301.8 1058.5,305.0 1063.2,305.8 1066.4,301.8 1071.1,298.7 1077.4,297.1 1085.3,297.9 1093.1,299.5 1101.0,301.1 1108.9,301.8 1115.2,302.6 1121.4,303.4 1129.3,301.8 1135.6,298.7 1138.8,292.4 1140.3,286.1 1141.9,279.8 1140.3,276.7 1132.5,277.4 1124.6,278.2 1116.7,279.8 1107.3,279.0 1102.6,276.7 1097.8,271.9 1094.7,265.6 1096.3,260.9 1098.6,259.0 1090.0,258.6 1083.7,259.3 1082.1,264.1 1080.5,268.8 1083.7,273.5 1082.1,275.4 1079.0,279.0 1075.8,277.4 1071.1,270.4 1070.9,266.3 1068.7,264.1 1066.5,262.7 1064.3,259.1 1065.4,253.6 1061.8,251.1 1056.3,248.2 1050.9,245.3 1045.4,240.9 1040.3,237.3 1036.3,234.4 1031.0,235.7 1031.0,237.3 1032.1,242.0 1037.4,245.6 1040.3,250.3 1045.4,252.9 1049.8,254.0 1054.6,256.9 1059.3,259.1 1060.8,262.0 1059.3,263.4 1055.3,262.2 1052.0,260.4 1051.3,263.3 1054.2,266.9 1052.8,269.1 1049.1,271.8 1047.6,270.0 1049.1,266.3 1047.6,262.7 1043.6,259.8 1038.2,256.4 1031.0,253.5 1023.6,247.4 1020.0,242.4 1014.4,242.0 1009.7,243.6 1003.4,245.2 995.5,246.0 989.2,248.3 987.7,252.3 983.0,256.2 976.7,259.3 971.9,264.1 970.4,268.8 965.6,274.3 960.9,276.7 954.6,279.0Z" fill="none" stroke="#555555" stroke-width="1.9" stroke-linejoin="round"/>
<path d="M381.8,110.7 386.6,101.2 403.6,98.4 418.8,99.9 434.0,103.7 426.4,106.9 416.9,112.6 407.4,115.5 392.3,115.5Z" fill="#FCCDE5" stroke="none"/>
<path d="M381.8,110.7 386.6,101.2 403.6,98.4 418.8,99.9 434.0,103.7 426.4,106.9 416.9,112.6 407.4,115.5 392.3,115.5Z" fill="none" stroke="#555555" stroke-width="2.1" stroke-linejoin="round"/>
<path d="M411.7,106.1 428.5,102.9 447.1,104.8 465.7,102.9 480.7,104.2 488.1,110.8 495.6,118.2 504.9,122.0 499.3,126.6 480.7,127.6 462.0,126.1 447.1,122.9 432.2,121.6 421.0,118.6 413.5,114.5Z" fill="#FCCDE5" stroke="none"/>
<path d="M411.7,106.1 428.5,102.9 447.1,104.8 465.7,102.9 480.7,104.2 488.1,110.8 495.6,118.2 504.9,122.0 499.3,126.6 480.7,127.6 462.0,126.1 447.1,122.9 432.2,121.6 421.0,118.6 413.5,114.5Z" fill="none" stroke="#555555" stroke-width="2.3" stroke-linejoin="round"/>
<path d="M389.7,91.5 404.8,86.8 427.6,84.5 442.8,87.7 461.8,87.7 480.8,88.7 492.2,90.6 509.3,91.5 526.3,94.4 526.3,99.1 509.3,100.1 480.8,98.2 461.8,99.1 439.0,98.2 420.0,97.2 401.1,95.3Z" fill="#FCCDE5" stroke="none"/>
<path d="M389.7,91.5 404.8,86.8 427.6,84.5 442.8,87.7 461.8,87.7 480.8,88.7 492.2,90.6 509.3,91.5 526.3,94.4 526.3,99.1 509.3,100.1 480.8,98.2 461.8,99.1 439.0,98.2 420.0,97.2 401.1,95.3Z" fill="none" stroke="#555555" stroke-width="2.6" stroke-linejoin="round"/>
<path d="M429.5,83.4 444.7,79.1 461.8,78.3 478.9,74.9 497.8,73.9 513.0,76.8 516.8,82.5 509.2,86.7 490.3,86.3 475.1,84.8 459.9,84.8 444.7,85.3Z" fill="#FCCDE5" stroke="none"/>
<path d="M429.5,83.4 444.7,79.1 461.8,78.3 478.9,74.9 497.8,73.9 513.0,76.8 516.8,82.5 509.2,86.7 490.3,86.3 475.1,84.8 459.9,84.8 444.7,85.3Z" fill="none" stroke="#555555" stroke-width="2.8" stroke-linejoin="round"/>
<path d="M474.4,78.2 490.3,71.8 518.9,67.6 527.4,62.3 559.2,57.0 601.6,53.8 644.0,55.9 686.4,55.9 694.9,61.2 665.2,67.6 638.7,73.9 620.7,80.3 604.8,86.7 588.9,89.8 569.8,90.9 550.7,89.8 532.7,88.8 516.8,86.7 495.6,90.9 478.7,88.8Z" fill="#FCCDE5" stroke="none"/>
<path d="M474.4,78.2 490.3,71.8 518.9,67.6 527.4,62.3 559.2,57.0 601.6,53.8 644.0,55.9 686.4,55.9 694.9,61.2 665.2,67.6 638.7,73.9 620.7,80.3 604.8,86.7 588.9,89.8 569.8,90.9 550.7,89.8 532.7,88.8 516.8,86.7 495.6,90.9 478.7,88.8Z" fill="none" stroke="#555555" stroke-width="3.0" stroke-linejoin="round"/>
<path d="M525.3,93.8 554.5,90.4 579.1,91.0 603.7,91.6 608.2,96.0 591.4,98.8 572.4,99.4 554.5,100.0 530.9,100.0Z" fill="#FCCDE5" stroke="none"/>
<path d="M525.3,93.8 554.5,90.4 579.1,91.0 603.7,91.6 608.2,96.0 591.4,98.8 572.4,99.4 554.5,100.0 530.9,100.0Z" fill="none" stroke="#555555" stroke-width="2.6" stroke-linejoin="round"/>
<path d="M492.2,103.0 505.4,99.2 518.7,101.1 522.5,109.7 516.8,116.3 505.4,115.4 497.8,111.6Z" fill="#FCCDE5" stroke="none"/>
<path d="M492.2,103.0 505.4,99.2 518.7,101.1 522.5,109.7 516.8,116.3 505.4,115.4 497.8,111.6Z" fill="none" stroke="#555555" stroke-width="2.3" stroke-linejoin="round"/>
<path d="M503.4,119.5 512.7,117.6 518.3,121.3 512.7,125.1 505.3,124.1Z" fill="#FCCDE5" stroke="none"/>
<path d="M503.4,119.5 512.7,117.6 518.3,121.3 512.7,125.1 505.3,124.1Z" fill="none" stroke="#555555" stroke-width="1.9" stroke-linejoin="round"/>
<path d="M554.2,104.5 572.7,101.2 594.5,102.3 616.3,105.6 638.1,113.2 659.9,120.8 687.1,136.1 681.6,140.4 675.1,143.7 674.0,150.2 670.7,159.0 665.3,157.9 654.4,151.3 643.5,148.1 632.6,144.8 621.7,144.8 609.7,143.7 616.3,137.2 627.2,132.8 632.6,130.6 627.2,126.3 616.3,121.9 605.4,118.6 594.5,119.7 583.6,117.6 572.7,117.6 561.8,115.4 553.1,111.0Z" fill="#FCCDE5" stroke="none"/>
<path d="M554.2,104.5 572.7,101.2 594.5,102.3 616.3,105.6 638.1,113.2 659.9,120.8 687.1,136.1 681.6,140.4 675.1,143.7 674.0,150.2 670.7,159.0 665.3,157.9 654.4,151.3 643.5,148.1 632.6,144.8 621.7,144.8 609.7,143.7 616.3,137.2 627.2,132.8 632.6,130.6 627.2,126.3 616.3,121.9 605.4,118.6 594.5,119.7 583.6,117.6 572.7,117.6 561.8,115.4 553.1,111.0Z" fill="none" stroke="#555555" stroke-width="2.8" stroke-linejoin="round"/>
<path d="M566.8,136.1 577.2,134.0 584.6,136.1 587.7,142.4 598.2,148.7 599.2,150.8 587.7,150.8 577.2,151.8 572.0,153.9 564.7,150.8 568.9,143.4Z" fill="#FCCDE5" stroke="none"/>
<path d="M566.8,136.1 577.2,134.0 584.6,136.1 587.7,142.4 598.2,148.7 599.2,150.8 587.7,150.8 577.2,151.8 572.0,153.9 564.7,150.8 568.9,143.4Z" fill="none" stroke="#555555" stroke-width="2.2" stroke-linejoin="round"/>
<path d="M633.7,82.4 644.0,76.0 659.3,72.1 674.6,68.3 674.6,63.2 705.3,61.9 730.8,60.1 756.4,58.1 781.9,56.8 807.4,56.1 833.0,56.6 858.5,58.1 873.9,61.9 917.3,65.3 891.7,70.9 884.1,78.5 889.2,86.2 886.6,96.4 881.5,104.1 873.9,111.7 871.3,119.4 858.5,124.5 833.0,128.3 817.7,130.9 802.3,137.3 789.6,142.4 779.3,150.1 774.2,160.3 769.1,167.9 756.4,164.1 748.7,160.3 741.0,150.1 730.8,142.4 723.1,134.7 725.7,127.1 730.8,119.4 720.6,111.7 712.9,104.1 705.3,95.1 695.1,90.0 684.8,88.8 672.1,87.5 659.3,86.2 644.0,84.9Z" fill="#FCCDE5" stroke="none"/>
<g clip-path="url(#cp_greenland)">
<path d="M674.6,73.9 777.3,73.9 777.3,63.7 805.4,63.7 805.4,73.9 870.8,73.9 870.8,83.1 852.2,83.1 852.2,91.8 861.6,91.8 861.6,101.5 833.0,101.5 833.0,119.9 814.6,119.9 814.6,129.6 796.7,129.6 796.7,138.6 776.8,138.6 776.8,148.8 767.9,148.8 767.9,157.7 749.5,157.7 749.5,129.6 740.3,129.6 740.3,111.2 730.8,111.2 730.8,101.5 711.7,101.5 711.7,91.8 693.8,91.8 693.8,83.1 674.6,83.1Z" fill="#FFFFFF" stroke="#555555" stroke-width="1.9" stroke-linejoin="round"/>
<path d="M684.3,83.1 693.0,83.1 693.0,91.8 684.3,91.8Z" fill="#FB8072" stroke="#555555" stroke-width="1.9" stroke-linejoin="round"/>
<path d="M806.2,130.1 817.7,130.1 817.7,137.3 806.2,137.3Z" fill="#FB8072" stroke="#555555" stroke-width="1.9" stroke-linejoin="round"/>
<path d="M777.3,139.3 785.7,139.3 785.7,147.5 777.3,147.5Z" fill="#FB8072" stroke="#555555" stroke-width="1.9" stroke-linejoin="round"/>
<path d="M768.6,148.3 776.8,148.3 776.8,157.2 768.6,157.2Z" fill="#FB8072" stroke="#555555" stroke-width="1.9" stroke-linejoin="round"/>
</g>
<path d="M633.7,82.4 644.0,76.0 659.3,72.1 674.6,68.3 674.6,63.2 705.3,61.9 730.8,60.1 756.4,58.1 781.9,56.8 807.4,56.1 833.0,56.6 858.5,58.1 873.9,61.9 917.3,65.3 891.7,70.9 884.1,78.5 889.2,86.2 886.6,96.4 881.5,104.1 873.9,111.7 871.3,119.4 858.5,124.5 833.0,128.3 817.7,130.9 802.3,137.3 789.6,142.4 779.3,150.1 774.2,160.3 769.1,167.9 756.4,164.1 748.7,160.3 741.0,150.1 730.8,142.4 723.1,134.7 725.7,127.1 730.8,119.4 720.6,111.7 712.9,104.1 705.3,95.1 695.1,90.0 684.8,88.8 672.1,87.5 659.3,86.2 644.0,84.9Z" fill="none" stroke="#555555" stroke-width="2.8" stroke-linejoin="round"/>
<path d="M859.8,142.4 868.8,137.3 884.1,138.6 899.4,137.3 910.9,142.4 904.5,147.5 891.7,150.1 881.5,151.3 871.3,148.8 863.6,146.2Z" fill="#FCCDE5" stroke="none"/>
<path d="M859.8,142.4 868.8,137.3 884.1,138.6 899.4,137.3 910.9,142.4 904.5,147.5 891.7,150.1 881.5,151.3 871.3,148.8 863.6,146.2Z" fill="none" stroke="#555555" stroke-width="1.9" stroke-linejoin="round"/>
<path d="M130.8,125.0 145.3,128.3 155.5,133.5 165.8,134.7 178.5,138.6 173.4,141.6 163.2,146.2 153.0,142.4 142.8,141.6 130.8,142.9Z" fill="#FCCDE5" stroke="none"/>
<path d="M130.8,125.0 145.3,128.3 155.5,133.5 165.8,134.7 178.5,138.6 173.4,141.6 163.2,146.2 153.0,142.4 142.8,141.6 130.8,142.9Z" fill="none" stroke="#555555" stroke-width="1.9" stroke-linejoin="round"/>
<path d="M131.3,113.0 137.7,112.3 143.3,114.3 137.7,116.3 131.3,115.8Z" fill="#FCCDE5" stroke="none"/>
<path d="M131.3,113.0 137.7,112.3 143.3,114.3 137.7,116.3 131.3,115.8Z" fill="none" stroke="#555555" stroke-width="1.9" stroke-linejoin="round"/>
<path d="M695.1,215.9 701.4,211.2 709.2,210.4 715.5,214.3 721.8,220.6 728.1,225.3 726.5,230.1 720.2,228.5 712.4,226.9 706.1,225.3 699.8,222.2 696.6,219.1Z" fill="#FB8072" stroke="none"/>
<path d="M695.1,215.9 701.4,211.2 709.2,210.4 715.5,214.3 721.8,220.6 728.1,225.3 726.5,230.1 720.2,228.5 712.4,226.9 706.1,225.3 699.8,222.2 696.6,219.1Z" fill="none" stroke="#555555" stroke-width="1.9" stroke-linejoin="round"/>
<path d="M576.3,347.5 583.9,342.4 594.1,342.4 604.4,346.2 614.6,350.1 624.8,355.2 622.2,357.7 612.0,355.2 601.8,351.3 589.0,348.8 581.4,348.8Z" fill="#D9D9D9" stroke="none"/>
<path d="M576.3,347.5 583.9,342.4 594.1,342.4 604.4,346.2 614.6,350.1 624.8,355.2 622.2,357.7 612.0,355.2 601.8,351.3 589.0,348.8 581.4,348.8Z" fill="none" stroke="#555555" stroke-width="1.9" stroke-linejoin="round"/>
<path d="M629.9,357.7 640.1,356.4 652.9,361.6 650.3,365.4 640.1,364.1 632.5,364.1Z" fill="#D9D9D9" stroke="none"/>
<path d="M629.9,357.7 640.1,356.4 652.9,361.6 650.3,365.4 640.1,364.1 632.5,364.1Z" fill="none" stroke="#555555" stroke-width="1.9" stroke-linejoin="round"/>
<path d="M606.9,364.1 614.6,363.3 617.1,365.9 609.5,366.7Z" fill="#D9D9D9" stroke="none"/>
<path d="M606.9,364.1 614.6,363.3 617.1,365.9 609.5,366.7Z" fill="none" stroke="#555555" stroke-width="1.9" stroke-linejoin="round"/>
<path d="M659.3,364.1 668.2,363.3 668.7,365.9 659.8,366.2Z" fill="#D9D9D9" stroke="none"/>
<path d="M659.3,364.1 668.2,363.3 668.7,365.9 659.8,366.2Z" fill="none" stroke="#555555" stroke-width="1.9" stroke-linejoin="round"/>
<path d="M688.0,676.9 694.4,675.1 703.5,676.0 701.6,678.7 694.4,680.0 688.9,679.3Z" fill="#80B1D3" stroke="none"/>
<path d="M688.0,676.9 694.4,675.1 703.5,676.0 701.6,678.7 694.4,680.0 688.9,679.3Z" fill="none" stroke="#555555" stroke-width="1.9" stroke-linejoin="round"/>
<path d="M940.5,175.5 945.2,174.0 953.1,172.4 960.9,170.8 962.5,175.5 960.9,180.3 965.6,183.4 971.9,191.3 976.7,197.6 981.4,202.3 980.6,207.0 976.7,210.2 970.4,211.7 960.9,212.5 953.1,213.3 948.3,213.3 953.1,208.6 957.8,205.4 953.8,200.7 956.2,196.0 951.5,192.9 948.3,189.7 943.6,185.0 940.5,180.3Z" fill="#FCCDE5" stroke="none"/>
<path d="M940.5,175.5 945.2,174.0 953.1,172.4 960.9,170.8 962.5,175.5 960.9,180.3 965.6,183.4 971.9,191.3 976.7,197.6 981.4,202.3 980.6,207.0 976.7,210.2 970.4,211.7 960.9,212.5 953.1,213.3 948.3,213.3 953.1,208.6 957.8,205.4 953.8,200.7 956.2,196.0 951.5,192.9 948.3,189.7 943.6,185.0 940.5,180.3Z" fill="none" stroke="#555555" stroke-width="2.0" stroke-linejoin="round"/>
<path d="M926.3,194.4 932.6,191.3 940.5,189.7 945.2,191.3 946.0,199.2 943.6,203.9 935.7,206.2 927.9,208.6 925.5,203.9 927.1,199.2Z" fill="#FCCDE5" stroke="none"/>
<path d="M926.3,194.4 932.6,191.3 940.5,189.7 945.2,191.3 946.0,199.2 943.6,203.9 935.7,206.2 927.9,208.6 925.5,203.9 927.1,199.2Z" fill="none" stroke="#555555" stroke-width="1.9" stroke-linejoin="round"/>
<path d="M1022.4,74.0 1037.6,71.4 1058.0,70.2 1073.2,71.4 1101.2,72.7 1088.5,79.1 1078.3,84.2 1058.0,88.0 1042.7,85.4 1030.0,80.3Z" fill="#FCCDE5" stroke="none"/>
<path d="M1022.4,74.0 1037.6,71.4 1058.0,70.2 1073.2,71.4 1101.2,72.7 1088.5,79.1 1078.3,84.2 1058.0,88.0 1042.7,85.4 1030.0,80.3Z" fill="none" stroke="#555555" stroke-width="2.2" stroke-linejoin="round"/>
<path d="M1215.6,110.8 1230.9,100.7 1248.6,94.3 1269.0,89.2 1295.7,87.5 1291.9,91.8 1271.5,94.3 1251.2,100.7 1238.5,108.3 1241.0,115.9 1228.3,114.7Z" fill="#FCCDE5" stroke="none"/>
<path d="M1215.6,110.8 1230.9,100.7 1248.6,94.3 1269.0,89.2 1295.7,87.5 1291.9,91.8 1271.5,94.3 1251.2,100.7 1238.5,108.3 1241.0,115.9 1228.3,114.7Z" fill="none" stroke="#555555" stroke-width="1.9" stroke-linejoin="round"/>
<path d="M1185.1,70.2 1215.6,68.9 1248.6,65.1 1279.2,67.6 1261.4,72.7 1223.2,72.7 1197.8,72.7Z" fill="#FCCDE5" stroke="none"/>
<path d="M1185.1,70.2 1215.6,68.9 1248.6,65.1 1279.2,67.6 1261.4,72.7 1223.2,72.7 1197.8,72.7Z" fill="none" stroke="#555555" stroke-width="2.4" stroke-linejoin="round"/>
<path d="M1399.1,69.6 1418.3,66.4 1431.2,69.6 1450.4,74.4 1469.7,79.2 1450.4,82.5 1431.2,79.2 1411.9,76.0Z" fill="#FCCDE5" stroke="none"/>
<path d="M1399.1,69.6 1418.3,66.4 1431.2,69.6 1450.4,74.4 1469.7,79.2 1450.4,82.5 1431.2,79.2 1411.9,76.0Z" fill="none" stroke="#555555" stroke-width="2.0" stroke-linejoin="round"/>
<path d="M1610.8,92.1 1630.1,90.5 1649.3,92.1 1678.2,95.3 1658.9,98.5 1636.5,101.7 1617.2,98.5Z" fill="#FCCDE5" stroke="none"/>
<path d="M1610.8,92.1 1630.1,90.5 1649.3,92.1 1678.2,95.3 1658.9,98.5 1636.5,101.7 1617.2,98.5Z" fill="none" stroke="#555555" stroke-width="2.0" stroke-linejoin="round"/>
<path d="M1638.6,198.5 1642.6,194.6 1645.3,199.9 1647.9,209.2 1651.9,221.2 1645.3,217.2 1642.6,223.9 1645.3,233.2 1640.0,233.2 1638.0,219.9 1638.6,206.5Z" fill="#FCCDE5" stroke="none"/>
<path d="M1638.6,198.5 1642.6,194.6 1645.3,199.9 1647.9,209.2 1651.9,221.2 1645.3,217.2 1642.6,223.9 1645.3,233.2 1640.0,233.2 1638.0,219.9 1638.6,206.5Z" fill="none" stroke="#555555" stroke-width="1.9" stroke-linejoin="round"/>
<path d="M1637.7,237.4 1640.6,236.7 1643.5,240.3 1648.6,243.2 1653.7,244.7 1653.0,246.9 1648.6,248.3 1645.0,252.7 1642.1,250.5 1638.4,249.1 1634.8,248.3 1632.6,246.9 1635.5,244.0 1637.0,241.1Z" fill="#CCEBC5" stroke="none"/>
<path d="M1637.7,237.4 1640.6,236.7 1643.5,240.3 1648.6,243.2 1653.7,244.7 1653.0,246.9 1648.6,248.3 1645.0,252.7 1642.1,250.5 1638.4,249.1 1634.8,248.3 1632.6,246.9 1635.5,244.0 1637.0,241.1Z" fill="none" stroke="#555555" stroke-width="1.9" stroke-linejoin="round"/>
<path d="M1629.7,257.0 1635.5,257.0 1638.4,260.7 1639.2,265.0 1637.0,269.4 1634.8,273.0 1633.4,278.1 1632.6,282.5 1629.0,283.9 1625.4,285.4 1621.7,286.8 1616.7,287.6 1613.8,288.3 1610.8,291.9 1608.7,292.6 1606.5,290.5 1600.7,291.2 1596.3,292.6 1592.0,291.9 1589.1,289.7 1587.6,289.0 1592.0,286.8 1596.3,283.9 1600.7,283.2 1607.2,282.5 1610.8,281.7 1612.3,279.6 1615.9,276.7 1621.7,273.8 1625.4,271.6 1628.3,267.9 1629.0,263.6Z" fill="#CCEBC5" stroke="none"/>
<path d="M1629.7,257.0 1635.5,257.0 1638.4,260.7 1639.2,265.0 1637.0,269.4 1634.8,273.0 1633.4,278.1 1632.6,282.5 1629.0,283.9 1625.4,285.4 1621.7,286.8 1616.7,287.6 1613.8,288.3 1610.8,291.9 1608.7,292.6 1606.5,290.5 1600.7,291.2 1596.3,292.6 1592.0,291.9 1589.1,289.7 1587.6,289.0 1592.0,286.8 1596.3,283.9 1600.7,283.2 1607.2,282.5 1610.8,281.7 1612.3,279.6 1615.9,276.7 1621.7,273.8 1625.4,271.6 1628.3,267.9 1629.0,263.6Z" fill="none" stroke="#555555" stroke-width="1.9" stroke-linejoin="round"/>
<path d="M1594.9,292.6 1600.7,290.5 1605.0,289.7 1605.0,292.6 1600.7,294.8 1595.6,295.5Z" fill="#CCEBC5" stroke="none"/>
<path d="M1594.9,292.6 1600.7,290.5 1605.0,289.7 1605.0,292.6 1600.7,294.8 1595.6,295.5Z" fill="none" stroke="#555555" stroke-width="1.9" stroke-linejoin="round"/>
<path d="M1582.5,292.6 1586.1,291.9 1590.5,293.4 1591.2,297.0 1589.1,301.4 1586.9,304.3 1584.7,302.8 1582.5,298.4 1581.8,294.8Z" fill="#CCEBC5" stroke="none"/>
<path d="M1582.5,292.6 1586.1,291.9 1590.5,293.4 1591.2,297.0 1589.1,301.4 1586.9,304.3 1584.7,302.8 1582.5,298.4 1581.8,294.8Z" fill="none" stroke="#555555" stroke-width="1.9" stroke-linejoin="round"/>
<path d="M1541.0,331.0 1545.0,333.0 1545.0,340.0 1540.0,347.0 1536.0,344.0 1537.0,336.0Z" fill="#B3DE69" stroke="none"/>
<path d="M1541.0,331.0 1545.0,333.0 1545.0,340.0 1540.0,347.0 1536.0,344.0 1537.0,336.0Z" fill="none" stroke="#555555" stroke-width="1.9" stroke-linejoin="round"/>
<path d="M1537.0,395.0 1528.0,408.0 1522.0,414.0 1524.0,415.0 1531.0,409.0 1539.0,397.0Z" fill="#B3DE69" stroke="none"/>
<path d="M1537.0,395.0 1528.0,408.0 1522.0,414.0 1524.0,415.0 1531.0,409.0 1539.0,397.0Z" fill="none" stroke="#555555" stroke-width="1.9" stroke-linejoin="round"/>
<path d="M1541.0,380.0 1548.0,385.0 1553.0,395.0 1549.0,398.0 1543.0,390.0Z" fill="#B3DE69" stroke="none"/>
<path d="M1541.0,380.0 1548.0,385.0 1553.0,395.0 1549.0,398.0 1543.0,390.0Z" fill="none" stroke="#555555" stroke-width="1.9" stroke-linejoin="round"/>
<path d="M1482.6,358.2 1489.0,355.7 1492.8,360.8 1486.4,364.6Z" fill="#B3DE69" stroke="none"/>
<path d="M1482.6,358.2 1489.0,355.7 1492.8,360.8 1486.4,364.6Z" fill="none" stroke="#555555" stroke-width="1.9" stroke-linejoin="round"/>
<path d="M1347.9,407.8 1353.0,405.3 1356.8,415.4 1354.2,421.8 1349.2,420.5 1347.9,415.4Z" fill="#B3DE69" stroke="none"/>
<path d="M1347.9,407.8 1353.0,405.3 1356.8,415.4 1354.2,421.8 1349.2,420.5 1347.9,415.4Z" fill="none" stroke="#555555" stroke-width="1.9" stroke-linejoin="round"/>
<path d="M1420.0,423.0 1433.0,431.0 1445.0,440.0 1455.0,448.0 1463.0,457.0 1469.0,465.0 1471.0,478.0 1464.0,478.0 1452.0,467.0 1440.0,455.0 1430.0,444.0 1423.0,434.0Z" fill="#B3DE69" stroke="none"/>
<path d="M1420.0,423.0 1433.0,431.0 1445.0,440.0 1455.0,448.0 1463.0,457.0 1469.0,465.0 1471.0,478.0 1464.0,478.0 1452.0,467.0 1440.0,455.0 1430.0,444.0 1423.0,434.0Z" fill="none" stroke="#555555" stroke-width="1.9" stroke-linejoin="round"/>
<path d="M1467.6,478.9 1486.0,482.4 1504.4,487.0 1520.5,490.4 1536.6,491.6 1548.1,490.4 1566.5,489.3 1568.8,492.7 1555.0,495.0 1538.9,493.9 1518.2,492.7 1499.8,490.4 1481.4,487.0 1467.6,482.4Z" fill="#B3DE69" stroke="none"/>
<path d="M1467.6,478.9 1486.0,482.4 1504.4,487.0 1520.5,490.4 1536.6,491.6 1548.1,490.4 1566.5,489.3 1568.8,492.7 1555.0,495.0 1538.9,493.9 1518.2,492.7 1499.8,490.4 1481.4,487.0 1467.6,482.4Z" fill="none" stroke="#555555" stroke-width="1.9" stroke-linejoin="round"/>
<path d="M1483.7,444.4 1495.2,437.5 1506.7,430.6 1515.9,423.7 1522.8,416.8 1529.7,426.0 1527.4,435.2 1522.8,444.4 1525.1,449.0 1518.2,458.2 1515.9,469.7 1506.7,467.4 1497.5,466.3 1490.6,462.8 1486.0,455.9Z" fill="#B3DE69" stroke="none"/>
<path d="M1483.7,444.4 1495.2,437.5 1506.7,430.6 1515.9,423.7 1522.8,416.8 1529.7,426.0 1527.4,435.2 1522.8,444.4 1525.1,449.0 1518.2,458.2 1515.9,469.7 1506.7,467.4 1497.5,466.3 1490.6,462.8 1486.0,455.9Z" fill="none" stroke="#555555" stroke-width="1.9" stroke-linejoin="round"/>
<path d="M1532.0,458.2 1538.9,449.0 1548.1,446.7 1559.6,444.4 1555.0,449.0 1545.8,451.3 1543.5,455.9 1550.4,462.8 1548.1,472.0 1543.5,469.7 1538.9,465.1 1534.3,476.6Z" fill="#B3DE69" stroke="none"/>
<path d="M1532.0,458.2 1538.9,449.0 1548.1,446.7 1559.6,444.4 1555.0,449.0 1545.8,451.3 1543.5,455.9 1550.4,462.8 1548.1,472.0 1543.5,469.7 1538.9,465.1 1534.3,476.6Z" fill="none" stroke="#555555" stroke-width="1.9" stroke-linejoin="round"/>
<path d="M1535.0,363.0 1542.0,363.0 1545.0,375.0 1552.0,384.0 1546.0,388.0 1540.0,381.0 1535.0,374.0Z" fill="#B3DE69" stroke="none"/>
<path d="M1535.0,363.0 1542.0,363.0 1545.0,375.0 1552.0,384.0 1546.0,388.0 1540.0,381.0 1535.0,374.0Z" fill="none" stroke="#555555" stroke-width="1.9" stroke-linejoin="round"/>
<path d="M1548.1,393.8 1557.3,396.1 1564.2,405.3 1567.7,414.5 1560.8,423.7 1555.0,419.1 1552.7,412.2 1548.1,405.3Z" fill="#B3DE69" stroke="none"/>
<path d="M1548.1,393.8 1557.3,396.1 1564.2,405.3 1567.7,414.5 1560.8,423.7 1555.0,419.1 1552.7,412.2 1548.1,405.3Z" fill="none" stroke="#555555" stroke-width="1.9" stroke-linejoin="round"/>
<path d="M1548.1,499.6 1559.6,493.9 1568.8,490.4 1564.2,495.0 1550.4,501.9Z" fill="#B3DE69" stroke="none"/>
<path d="M1548.1,499.6 1559.6,493.9 1568.8,490.4 1564.2,495.0 1550.4,501.9Z" fill="none" stroke="#555555" stroke-width="1.9" stroke-linejoin="round"/>
<path d="M1530.9,495.0 1538.9,496.2 1538.9,498.5 1532.0,497.3Z" fill="#B3DE69" stroke="none"/>
<path d="M1530.9,495.0 1538.9,496.2 1538.9,498.5 1532.0,497.3Z" fill="none" stroke="#555555" stroke-width="1.9" stroke-linejoin="round"/>
<path d="M1589.5,453.6 1596.4,452.5 1601.0,455.9 1605.6,462.8 1614.8,460.5 1621.7,458.2 1630.9,461.7 1640.1,466.3 1651.6,470.9 1657.4,476.6 1664.3,481.2 1667.7,488.1 1674.6,495.0 1680.4,498.5 1674.6,499.6 1667.7,497.3 1660.8,492.7 1651.6,490.4 1642.4,492.7 1635.5,493.9 1628.6,488.1 1621.7,490.4 1619.4,488.1 1624.0,481.2 1614.8,474.3 1605.6,469.7 1598.7,469.7 1596.4,465.1 1591.8,460.5Z" fill="#FDB462" stroke="none"/>
<path d="M1589.5,453.6 1596.4,452.5 1601.0,455.9 1605.6,462.8 1614.8,460.5 1621.7,458.2 1630.9,461.7 1640.1,466.3 1651.6,470.9 1657.4,476.6 1664.3,481.2 1667.7,488.1 1674.6,495.0 1680.4,498.5 1674.6,499.6 1667.7,497.3 1660.8,492.7 1651.6,490.4 1642.4,492.7 1635.5,493.9 1628.6,488.1 1621.7,490.4 1619.4,488.1 1624.0,481.2 1614.8,474.3 1605.6,469.7 1598.7,469.7 1596.4,465.1 1591.8,460.5Z" fill="none" stroke="#555555" stroke-width="1.9" stroke-linejoin="round"/>
<path d="M1670.0,477.8 1679.2,475.5 1686.1,472.0 1690.7,470.9 1689.6,474.3 1681.5,478.9 1672.3,480.1Z" fill="#FDB462" stroke="none"/>
<path d="M1670.0,477.8 1679.2,475.5 1686.1,472.0 1690.7,470.9 1689.6,474.3 1681.5,478.9 1672.3,480.1Z" fill="none" stroke="#555555" stroke-width="1.9" stroke-linejoin="round"/>
<path d="M1697.6,475.5 1704.5,481.2 1702.2,483.5 1696.5,478.9Z" fill="#FDB462" stroke="none"/>
<path d="M1697.6,475.5 1704.5,481.2 1702.2,483.5 1696.5,478.9Z" fill="none" stroke="#555555" stroke-width="1.9" stroke-linejoin="round"/>
<path d="M1709.1,483.5 1718.3,488.1 1716.0,490.4 1708.0,487.0Z" fill="#FDB462" stroke="none"/>
<path d="M1709.1,483.5 1718.3,488.1 1716.0,490.4 1708.0,487.0Z" fill="none" stroke="#555555" stroke-width="1.9" stroke-linejoin="round"/>
<path d="M1720.6,490.4 1732.1,499.6 1729.8,501.9 1719.5,493.9Z" fill="#FDB462" stroke="none"/>
<path d="M1720.6,490.4 1732.1,499.6 1729.8,501.9 1719.5,493.9Z" fill="none" stroke="#555555" stroke-width="1.9" stroke-linejoin="round"/>
<path d="M1571.1,439.8 1575.7,438.7 1578.0,446.7 1574.6,453.6 1571.1,449.0Z" fill="#FDB462" stroke="none"/>
<path d="M1571.1,439.8 1575.7,438.7 1578.0,446.7 1574.6,453.6 1571.1,449.0Z" fill="none" stroke="#555555" stroke-width="1.9" stroke-linejoin="round"/>
<path d="M1564.2,465.1 1578.0,464.0 1587.2,466.3 1584.9,469.7 1568.8,468.6Z" fill="#FDB462" stroke="none"/>
<path d="M1564.2,465.1 1578.0,464.0 1587.2,466.3 1584.9,469.7 1568.8,468.6Z" fill="none" stroke="#555555" stroke-width="1.9" stroke-linejoin="round"/>
<path d="M1741.3,545.6 1748.2,550.2 1758.6,557.1 1756.3,558.3 1745.9,552.5Z" fill="#FDB462" stroke="none"/>
<path d="M1741.3,545.6 1748.2,550.2 1758.6,557.1 1756.3,558.3 1745.9,552.5Z" fill="none" stroke="#555555" stroke-width="1.9" stroke-linejoin="round"/>
<path d="M1804.6,533.0 1812.6,531.8 1814.9,536.4 1808.0,537.6Z" fill="#FDB462" stroke="none"/>
<path d="M1804.6,533.0 1812.6,531.8 1814.9,536.4 1808.0,537.6Z" fill="none" stroke="#555555" stroke-width="1.9" stroke-linejoin="round"/>
<path d="M1506.7,554.8 1515.9,549.1 1527.4,545.6 1538.9,542.2 1545.8,534.1 1552.7,528.4 1559.6,520.3 1568.8,516.9 1578.0,518.0 1582.6,508.8 1589.5,505.4 1601.0,505.4 1610.2,506.5 1613.7,512.3 1611.4,520.3 1617.1,524.9 1624.0,529.5 1630.9,534.1 1635.5,527.2 1636.7,515.7 1639.0,508.8 1642.4,501.9 1647.0,511.1 1651.6,518.0 1656.2,527.2 1660.8,538.7 1670.0,545.6 1676.9,554.8 1683.8,561.7 1690.7,568.6 1693.0,580.1 1691.9,591.6 1686.1,603.1 1679.2,614.6 1675.8,626.1 1670.0,630.7 1660.8,633.0 1651.6,634.2 1642.4,630.7 1633.2,628.4 1628.6,623.8 1626.3,616.9 1619.4,612.3 1614.8,616.9 1610.2,612.3 1605.6,607.7 1601.0,603.1 1591.8,599.7 1580.3,599.7 1568.8,602.0 1557.3,606.6 1550.4,610.0 1541.2,611.2 1532.0,613.5 1522.8,615.8 1513.6,612.3 1513.6,607.7 1515.9,600.8 1513.6,591.6 1509.0,582.4 1505.6,573.2 1503.3,566.3 1505.6,559.4Z" fill="#FFFFB3" stroke="none"/>
<path d="M1506.7,554.8 1515.9,549.1 1527.4,545.6 1538.9,542.2 1545.8,534.1 1552.7,528.4 1559.6,520.3 1568.8,516.9 1578.0,518.0 1582.6,508.8 1589.5,505.4 1601.0,505.4 1610.2,506.5 1613.7,512.3 1611.4,520.3 1617.1,524.9 1624.0,529.5 1630.9,534.1 1635.5,527.2 1636.7,515.7 1639.0,508.8 1642.4,501.9 1647.0,511.1 1651.6,518.0 1656.2,527.2 1660.8,538.7 1670.0,545.6 1676.9,554.8 1683.8,561.7 1690.7,568.6 1693.0,580.1 1691.9,591.6 1686.1,603.1 1679.2,614.6 1675.8,626.1 1670.0,630.7 1660.8,633.0 1651.6,634.2 1642.4,630.7 1633.2,628.4 1628.6,623.8 1626.3,616.9 1619.4,612.3 1614.8,616.9 1610.2,612.3 1605.6,607.7 1601.0,603.1 1591.8,599.7 1580.3,599.7 1568.8,602.0 1557.3,606.6 1550.4,610.0 1541.2,611.2 1532.0,613.5 1522.8,615.8 1513.6,612.3 1513.6,607.7 1515.9,600.8 1513.6,591.6 1509.0,582.4 1505.6,573.2 1503.3,566.3 1505.6,559.4Z" fill="none" stroke="#555555" stroke-width="1.9" stroke-linejoin="round"/>
<path d="M1651.6,644.5 1667.7,639.9 1668.9,651.4 1660.8,656.0 1653.9,651.4Z" fill="#FFFFB3" stroke="none"/>
<path d="M1651.6,644.5 1667.7,639.9 1668.9,651.4 1660.8,656.0 1653.9,651.4Z" fill="none" stroke="#555555" stroke-width="1.9" stroke-linejoin="round"/>
<path d="M1782.7,613.5 1789.6,619.2 1795.4,626.1 1808.0,628.4 1805.7,635.3 1798.8,642.2 1794.2,646.8 1789.6,642.2 1788.5,635.3 1787.3,623.8Z" fill="#FFFFB3" stroke="none"/>
<path d="M1782.7,613.5 1789.6,619.2 1795.4,626.1 1808.0,628.4 1805.7,635.3 1798.8,642.2 1794.2,646.8 1789.6,642.2 1788.5,635.3 1787.3,623.8Z" fill="none" stroke="#555555" stroke-width="1.9" stroke-linejoin="round"/>
<path d="M1785.0,643.4 1789.6,646.8 1782.7,656.0 1773.5,662.9 1764.3,669.8 1758.6,673.3 1754.0,667.5 1762.0,660.6 1771.2,653.7 1778.1,648.0Z" fill="#FFFFB3" stroke="none"/>
<path d="M1785.0,643.4 1789.6,646.8 1782.7,656.0 1773.5,662.9 1764.3,669.8 1758.6,673.3 1754.0,667.5 1762.0,660.6 1771.2,653.7 1778.1,648.0Z" fill="none" stroke="#555555" stroke-width="1.9" stroke-linejoin="round"/>
<path d="M1204.7,508.1 1210.1,520.1 1208.0,531.0 1202.5,544.1 1198.2,555.0 1193.8,568.0 1186.2,572.4 1179.6,568.0 1176.4,557.1 1179.6,546.2 1180.7,531.0 1189.4,524.5 1198.2,515.7Z" fill="#BEBADA" stroke="none"/>
<path d="M1204.7,508.1 1210.1,520.1 1208.0,531.0 1202.5,544.1 1198.2,555.0 1193.8,568.0 1186.2,572.4 1179.6,568.0 1176.4,557.1 1179.6,546.2 1180.7,531.0 1189.4,524.5 1198.2,515.7Z" fill="none" stroke="#555555" stroke-width="1.9" stroke-linejoin="round"/>
<path d="M1014.4,249.9 1017.6,247.5 1018.4,254.6 1017.6,264.1 1015.2,267.2 1012.9,260.9 1013.6,256.2Z" fill="#FCCDE5" stroke="none"/>
<path d="M1014.4,249.9 1017.6,247.5 1018.4,254.6 1017.6,264.1 1015.2,267.2 1012.9,260.9 1013.6,256.2Z" fill="none" stroke="#555555" stroke-width="1.9" stroke-linejoin="round"/>
<path d="M1032.5,271.9 1039.6,271.9 1045.9,270.4 1047.5,275.1 1042.8,278.2 1036.5,275.1Z" fill="#FCCDE5" stroke="none"/>
<path d="M1032.5,271.9 1039.6,271.9 1045.9,270.4 1047.5,275.1 1042.8,278.2 1036.5,275.1Z" fill="none" stroke="#555555" stroke-width="1.9" stroke-linejoin="round"/>
<path d="M1083.7,283.7 1090.0,283.0 1096.3,284.5 1090.0,285.3Z" fill="#FCCDE5" stroke="none"/>
<path d="M1083.7,283.7 1090.0,283.0 1096.3,284.5 1090.0,285.3Z" fill="none" stroke="#555555" stroke-width="1.9" stroke-linejoin="round"/>
<path d="M1126.2,285.3 1130.9,283.7 1134.0,284.5 1129.3,286.9Z" fill="#FCCDE5" stroke="none"/>
<path d="M1126.2,285.3 1130.9,283.7 1134.0,284.5 1129.3,286.9Z" fill="none" stroke="#555555" stroke-width="1.9" stroke-linejoin="round"/>
<path d="M603.7,325.0 612.6,323.7 611.4,327.5 605.0,327.5Z" fill="#D9D9D9" stroke="none"/>
<path d="M603.7,325.0 612.6,323.7 611.4,327.5 605.0,327.5Z" fill="none" stroke="#555555" stroke-width="1.9" stroke-linejoin="round"/>
<path d="M607.5,331.4 611.4,330.8 611.4,337.7 608.3,337.7Z" fill="#D9D9D9" stroke="none"/>
<path d="M607.5,331.4 611.4,330.8 611.4,337.7 608.3,337.7Z" fill="none" stroke="#555555" stroke-width="1.9" stroke-linejoin="round"/>
<path d="M616.4,333.9 624.1,336.4 622.8,339.0 616.4,337.2Z" fill="#D9D9D9" stroke="none"/>
<path d="M616.4,333.9 624.1,336.4 622.8,339.0 616.4,337.2Z" fill="none" stroke="#555555" stroke-width="1.9" stroke-linejoin="round"/>
<path d="M627.9,342.8 640.6,345.3 639.3,347.9 627.9,346.1Z" fill="#D9D9D9" stroke="none"/>
<path d="M627.9,342.8 640.6,345.3 639.3,347.9 627.9,346.1Z" fill="none" stroke="#555555" stroke-width="1.9" stroke-linejoin="round"/>
<path d="M544.7,450.8 549.1,449.6 550.8,453.4 546.5,455.4Z" fill="#80B1D3" stroke="none"/>
<path d="M544.7,450.8 549.1,449.6 550.8,453.4 546.5,455.4Z" fill="none" stroke="#555555" stroke-width="1.9" stroke-linejoin="round"/>
<path d="M241.0,355.0 245.0,356.0 248.0,360.0 245.0,363.0 242.0,361.0Z" fill="#FB8072" stroke="none"/>
<path d="M241.0,355.0 245.0,356.0 248.0,360.0 245.0,363.0 242.0,361.0Z" fill="none" stroke="#555555" stroke-width="1.9" stroke-linejoin="round"/>
<path d="M232.0,350.0 236.0,350.0 237.0,352.0 233.0,352.0Z" fill="#FB8072" stroke="none"/>
<path d="M232.0,350.0 236.0,350.0 237.0,352.0 233.0,352.0Z" fill="none" stroke="#555555" stroke-width="1.9" stroke-linejoin="round"/>
<path d="M542.5,230.1 549.1,226.9 556.3,223.2 561.4,220.3 567.9,220.3 572.3,224.0 577.4,224.7 578.8,230.5 575.2,231.2 567.2,232.0 560.7,229.1 554.9,229.1 549.1,230.5 543.2,230.5Z" fill="#FFFFFF" stroke="#555555" stroke-width="1.9" stroke-linejoin="round"/>
<path d="M562.9,240.0 567.2,236.3 574.5,234.1 575.9,235.6 570.8,239.2 569.4,243.6 570.1,250.8 566.5,254.5 563.6,253.0 562.5,247.2Z" fill="#FFFFFF" stroke="#555555" stroke-width="1.9" stroke-linejoin="round"/>
<path d="M580.3,233.4 589.0,233.4 595.5,234.9 600.6,239.2 597.0,240.7 592.6,239.2 591.2,243.6 589.7,247.2 587.6,247.2 585.4,243.6 581.7,244.3 582.5,240.7 583.2,236.3Z" fill="#FFFFFF" stroke="#555555" stroke-width="1.9" stroke-linejoin="round"/>
<path d="M583.2,253.8 586.8,250.1 592.6,249.4 599.9,247.9 604.3,248.7 599.9,250.8 592.6,253.0 586.8,255.2Z" fill="#FFFFFF" stroke="#555555" stroke-width="1.9" stroke-linejoin="round"/>
<path d="M600.6,245.8 607.2,243.6 614.4,242.1 619.5,241.0 616.6,244.3 610.8,246.5 603.5,246.9Z" fill="#FFFFFF" stroke="#555555" stroke-width="1.9" stroke-linejoin="round"/>
<path d="M388.0,139.0 400.0,136.0 412.0,136.0 424.0,137.0 415.0,141.0 404.0,144.0 394.0,144.0Z" fill="#FFFFFF" stroke="#555555" stroke-width="1.9" stroke-linejoin="round"/>
<path d="M425.0,158.0 438.0,154.0 452.0,153.0 464.0,154.0 455.0,158.0 440.0,162.0 428.0,162.0Z" fill="#FFFFFF" stroke="#555555" stroke-width="1.9" stroke-linejoin="round"/>
<path d="M512.0,198.0 516.0,197.0 522.0,205.0 521.0,212.0 516.0,211.0 510.0,204.0Z" fill="#FFFFFF" stroke="#555555" stroke-width="1.9" stroke-linejoin="round"/>
<path d="M455.0,170.0 466.0,168.0 477.0,169.0 468.0,173.0 458.0,173.0Z" fill="#FFFFFF" stroke="#555555" stroke-width="1.9" stroke-linejoin="round"/>
<path d="M1195.3,238.0 1205.4,230.3 1220.7,230.3 1223.2,238.0 1215.6,243.1 1220.7,253.2 1228.3,260.8 1225.8,271.0 1225.8,277.4 1210.5,276.1 1202.9,268.5 1205.4,258.3 1197.8,248.1Z" fill="#FFFFFF" stroke="#555555" stroke-width="1.9" stroke-linejoin="round"/>
<path d="M1102.6,251.5 1105.7,243.6 1112.0,237.3 1118.3,233.4 1124.6,230.2 1128.5,234.5 1134.0,237.6 1140.3,236.1 1145.1,234.5 1149.8,237.3 1156.1,242.0 1163.9,246.8 1169.4,251.5 1167.1,255.4 1159.2,257.0 1149.8,255.4 1140.3,253.8 1130.9,254.6 1121.4,257.0 1113.6,258.6 1107.3,257.0 1103.3,253.8Z" fill="#FFFFFF" stroke="#555555" stroke-width="1.9" stroke-linejoin="round"/>
<path d="M1140.3,231.3 1148.2,228.2 1156.9,227.1 1153.7,231.3 1145.8,233.4Z" fill="#FFFFFF" stroke="#555555" stroke-width="1.9" stroke-linejoin="round"/>
<path d="M1245.0,232.0 1252.0,231.0 1258.0,236.0 1257.0,244.0 1250.0,245.0 1244.0,240.0Z" fill="#FFFFFF" stroke="#555555" stroke-width="1.9" stroke-linejoin="round"/>
<path d="M1460.0,206.0 1469.7,202.8 1479.3,196.3 1485.7,188.3 1488.9,189.9 1482.5,199.6 1472.9,206.0 1461.6,208.2Z" fill="#FFFFFF" stroke="#555555" stroke-width="1.9" stroke-linejoin="round"/>
<path d="M1318.9,233.2 1328.5,230.0 1344.5,230.0 1331.7,233.2 1322.1,238.1Z" fill="#FFFFFF" stroke="#555555" stroke-width="1.9" stroke-linejoin="round"/>
<path d="M1115.2,161.4 1119.9,159.0 1126.2,159.8 1127.7,164.5 1123.0,167.7 1116.7,166.1Z" fill="#FFFFFF" stroke="#555555" stroke-width="1.9" stroke-linejoin="round"/>
<path d="M1134.0,155.1 1140.3,153.5 1143.5,158.2 1140.3,163.0 1135.6,161.4Z" fill="#FFFFFF" stroke="#555555" stroke-width="1.9" stroke-linejoin="round"/>
<path d="M1031.7,172.4 1036.5,170.8 1039.6,173.2 1034.9,175.5Z" fill="#FFFFFF" stroke="#555555" stroke-width="1.9" stroke-linejoin="round"/>
<path d="M1121.9,452.5 1128.4,450.4 1136.1,451.5 1137.1,456.9 1132.8,463.4 1126.2,464.5 1122.3,460.2Z" fill="#FFFFFF" stroke="#555555" stroke-width="1.9" stroke-linejoin="round"/>
<path d="M1110.6,466.7 1113.2,472.2 1116.4,480.9 1119.7,491.8 1117.5,492.9 1114.3,484.1 1111.0,474.3Z" fill="#FFFFFF" stroke="#555555" stroke-width="1.9" stroke-linejoin="round"/>
<path d="M1132.8,495.0 1135.0,496.1 1138.2,507.0 1139.3,517.9 1137.1,519.0 1135.0,509.2 1133.2,500.5Z" fill="#FFFFFF" stroke="#555555" stroke-width="1.9" stroke-linejoin="round"/>
<path d="M646.3,523.5 649.9,524.4 653.5,528.0 650.8,529.8 646.8,526.2Z" fill="#FFFFFF" stroke="#555555" stroke-width="1.9" stroke-linejoin="round"/>
<path d="M347.1,183.3 354.8,188.4 365.0,196.0 372.7,203.7 379.1,211.4 388.0,216.5 395.7,220.3 399.5,226.7" fill="none" stroke="#555555" stroke-width="3.6" stroke-linejoin="round" stroke-linecap="round"/>
<path d="M997.1,163.0 997.1,158.2 1005.0,153.5 1014.4,148.8 1022.3,144.1 1030.2,137.8 1036.5,131.5 1044.3,126.8 1053.8,122.0 1064.8,118.9 1077.4,116.5 1093.1,115.0 1108.9,116.5" fill="none" stroke="#555555" stroke-width="3.6" stroke-linejoin="round" stroke-linecap="round"/>
<path d="M628.1,646.9 625.4,654.2 621.7,663.3 623.6,670.6 620.8,677.8 619.9,685.1 621.7,694.2 627.2,701.4 636.3,706.9 647.2,710.5 658.1,712.3" fill="none" stroke="#555555" stroke-width="4.2" stroke-linejoin="round" stroke-linecap="round"/>
<path d="M940.5,177.1 943.6,183.4 948.3,188.1 951.5,191.3" fill="none" stroke="#555555" stroke-width="3.5" stroke-linejoin="round" stroke-linecap="round"/>
<path d="M623.6,670.6 621.4,677.8 620.5,685.1 622.3,694.2 627.6,701.1 636.3,706.5 647.2,710.1 656.2,711.6" fill="none" stroke="#555555" stroke-width="6.5" stroke-linejoin="round" stroke-linecap="round"/>
<path d="M715.5,106.6 723.1,114.3 728.3,122.0 724.4,132.2 728.3,139.8" fill="none" stroke="#555555" stroke-width="4.0" stroke-linejoin="round" stroke-linecap="round"/>
<path d="M616.3,105.6 638.1,113.2 659.9,120.8 687.1,136.1" fill="none" stroke="#555555" stroke-width="3.0" stroke-linejoin="round" stroke-linecap="round"/>
<path d="M884.1,78.5 889.2,86.2 886.6,96.4 881.5,104.1 873.9,111.7 871.3,119.4" fill="none" stroke="#555555" stroke-width="3.0" stroke-linejoin="round" stroke-linecap="round"/>
<path d="M705.3,95.1 712.9,104.1 720.6,111.7 730.8,119.4 725.7,127.1 723.1,134.7 730.8,142.4 741.0,150.1" fill="none" stroke="#555555" stroke-width="3.0" stroke-linejoin="round" stroke-linecap="round"/>
<path d="M1420.3,424.3 1430.5,428.1 1443.2,438.3 1455.9,448.5 1466.1,458.6" fill="none" stroke="#555555" stroke-width="2.2" stroke-linejoin="round" stroke-linecap="round"/>
<circle cx="147.0" cy="453.0" r="1.1" fill="#555555"/>
<circle cx="151.0" cy="448.0" r="1.1" fill="#555555"/>
<circle cx="167.0" cy="514.0" r="1.1" fill="#555555"/>
<circle cx="174.0" cy="515.0" r="1.1" fill="#555555"/>
<circle cx="170.0" cy="518.0" r="1.1" fill="#555555"/>
<circle cx="183.0" cy="512.0" r="1.1" fill="#555555"/>
<circle cx="199.0" cy="539.0" r="1.1" fill="#555555"/>
<circle cx="207.0" cy="541.0" r="1.1" fill="#555555"/>
<circle cx="228.0" cy="521.0" r="1.1" fill="#555555"/>
<circle cx="224.0" cy="527.0" r="1.1" fill="#555555"/>
<circle cx="233.0" cy="551.0" r="1.1" fill="#555555"/>
<circle cx="235.0" cy="555.0" r="1.1" fill="#555555"/>
<circle cx="265.0" cy="530.0" r="1.1" fill="#555555"/>
<circle cx="275.0" cy="532.0" r="1.1" fill="#555555"/>
<circle cx="318.0" cy="497.0" r="1.1" fill="#555555"/>
<circle cx="322.0" cy="499.0" r="1.1" fill="#555555"/>
<circle cx="358.0" cy="568.0" r="1.1" fill="#555555"/>
<circle cx="364.0" cy="570.0" r="1.1" fill="#555555"/>
<circle cx="447.0" cy="579.0" r="1.1" fill="#555555"/>
<circle cx="410.0" cy="449.0" r="1.1" fill="#555555"/>
<circle cx="418.0" cy="453.0" r="1.1" fill="#555555"/>
<circle cx="286.0" cy="449.0" r="1.1" fill="#555555"/>
<circle cx="183.0" cy="491.0" r="1.1" fill="#555555"/>
<circle cx="142.0" cy="552.0" r="1.1" fill="#555555"/>
<circle cx="147.0" cy="610.0" r="1.1" fill="#555555"/>
<circle cx="215.0" cy="496.0" r="1.1" fill="#555555"/>
<circle cx="1580.0" cy="390.0" r="1.1" fill="#555555"/>
<circle cx="1600.0" cy="400.0" r="1.1" fill="#555555"/>
<circle cx="1620.0" cy="372.0" r="1.1" fill="#555555"/>
<circle cx="1650.0" cy="372.0" r="1.1" fill="#555555"/>
<circle cx="1660.0" cy="390.0" r="1.1" fill="#555555"/>
<circle cx="1700.0" cy="420.0" r="1.1" fill="#555555"/>
<circle cx="1740.0" cy="430.0" r="1.1" fill="#555555"/>
<circle cx="1760.0" cy="520.0" r="1.1" fill="#555555"/>
<circle cx="1790.0" cy="500.0" r="1.1" fill="#555555"/>
<circle cx="1800.0" cy="540.0" r="1.1" fill="#555555"/>
<circle cx="1810.0" cy="580.0" r="1.1" fill="#555555"/>
<circle cx="1700.0" cy="600.0" r="1.1" fill="#555555"/>
<circle cx="1750.0" cy="700.0" r="1.1" fill="#555555"/>
<circle cx="1380.0" cy="420.0" r="1.1" fill="#555555"/>
<circle cx="1395.0" cy="430.0" r="1.1" fill="#555555"/>
<circle cx="1350.0" cy="520.0" r="1.1" fill="#555555"/>
<circle cx="1250.0" cy="470.0" r="1.1" fill="#555555"/>
<circle cx="1180.0" cy="520.0" r="1.1" fill="#555555"/>
<circle cx="975.0" cy="470.0" r="1.1" fill="#555555"/>
<circle cx="780.0" cy="620.0" r="1.1" fill="#555555"/>
<circle cx="802.0" cy="633.0" r="1.1" fill="#555555"/>
<circle cx="1330.0" cy="600.0" r="1.1" fill="#555555"/>
<circle cx="1340.0" cy="610.0" r="1.1" fill="#555555"/>
<circle cx="680.0" cy="369.5" r="1.3" fill="#555555"/>
<circle cx="683.8" cy="372.0" r="1.3" fill="#555555"/>
<circle cx="685.1" cy="377.1" r="1.3" fill="#555555"/>
<circle cx="686.4" cy="382.2" r="1.3" fill="#555555"/>
<circle cx="687.6" cy="387.3" r="1.3" fill="#555555"/>
<circle cx="695.3" cy="388.6" r="1.3" fill="#555555"/>
<circle cx="677.5" cy="365.7" r="1.3" fill="#555555"/>
<circle cx="224.0" cy="345.0" r="1.2" fill="#555555"/>
<circle cx="140.0" cy="208.0" r="1.2" fill="#555555"/>
<circle cx="147.0" cy="207.0" r="1.2" fill="#555555"/>
<circle cx="154.0" cy="206.5" r="1.2" fill="#555555"/>
<circle cx="161.0" cy="205.0" r="1.2" fill="#555555"/>
<circle cx="168.0" cy="203.0" r="1.2" fill="#555555"/></g>
<g id="mapaxes"><path d="M131.2 25.7V804.9H1817" fill="none" stroke="#222" stroke-width="1.4"/><path d="M123.3 73.5H131.2" stroke="#555" stroke-width="1.3"/><text x="112.2" y="81.1" font-size="27.3" text-anchor="end" textLength="72.0" lengthAdjust="spacingAndGlyphs">80° N</text><path d="M123.3 167.8H131.2" stroke="#555" stroke-width="1.3"/><text x="112.2" y="175.4" font-size="27.3" text-anchor="end" textLength="72.0" lengthAdjust="spacingAndGlyphs">60° N</text><path d="M123.3 262.2H131.2" stroke="#555" stroke-width="1.3"/><text x="112.2" y="269.8" font-size="27.3" text-anchor="end" textLength="72.0" lengthAdjust="spacingAndGlyphs">40° N</text><path d="M123.3 356.5H131.2" stroke="#555" stroke-width="1.3"/><text x="112.2" y="364.1" font-size="27.3" text-anchor="end" textLength="72.0" lengthAdjust="spacingAndGlyphs">20° N</text><path d="M123.3 450.8H131.2" stroke="#555" stroke-width="1.3"/><text x="112.3" y="458.4" font-size="27.3" text-anchor="end" textLength="31.0" lengthAdjust="spacingAndGlyphs">0°</text><path d="M123.3 545.1H131.2" stroke="#555" stroke-width="1.3"/><text x="113.8" y="552.7" font-size="27.3" text-anchor="end" textLength="71.8" lengthAdjust="spacingAndGlyphs">20° S</text><path d="M123.3 639.4H131.2" stroke="#555" stroke-width="1.3"/><text x="113.8" y="647.0" font-size="27.3" text-anchor="end" textLength="71.8" lengthAdjust="spacingAndGlyphs">40° S</text><path d="M123.3 733.8H131.2" stroke="#555" stroke-width="1.3"/><text x="113.8" y="741.4" font-size="27.3" text-anchor="end" textLength="71.8" lengthAdjust="spacingAndGlyphs">60° S</text><path d="M411.5 805.5V812.2" stroke="#555" stroke-width="1.3"/><text x="409.9" y="849.0" font-size="27.3" text-anchor="middle" textLength="87.1" lengthAdjust="spacingAndGlyphs">120° W</text><path d="M692.6 805.5V812.2" stroke="#555" stroke-width="1.3"/><text x="692.6" y="849.0" font-size="27.3" text-anchor="middle" textLength="75.3" lengthAdjust="spacingAndGlyphs">60° W</text><path d="M973.8 805.5V812.2" stroke="#555" stroke-width="1.3"/><text x="973.4" y="849.0" font-size="27.3" text-anchor="middle" textLength="16.9" lengthAdjust="spacingAndGlyphs">0</text><path d="M1255.0 805.5V812.2" stroke="#555" stroke-width="1.3"/><text x="1255.3" y="849.0" font-size="27.3" text-anchor="middle" textLength="66.1" lengthAdjust="spacingAndGlyphs">60° E</text><path d="M1536.1 805.5V812.2" stroke="#555" stroke-width="1.3"/><text x="1535.2" y="849.0" font-size="27.3" text-anchor="middle" textLength="77.6" lengthAdjust="spacingAndGlyphs">120° E</text></g>
<g id="legend"><text x="464.8" y="970.8" font-size="27.5" textLength="81.2" lengthAdjust="spacingAndGlyphs">Realm</text><rect x="583.7" y="901.1" width="21.5" height="21.2" fill="#8DD3C7" stroke="#222" stroke-width="1.1"/><text x="618.6" y="920.2" font-size="28" textLength="152.6" lengthAdjust="spacingAndGlyphs">Afrotropical</text><rect x="583.7" y="949.0" width="21.5" height="21.2" fill="#FFFFB3" stroke="#222" stroke-width="1.1"/><text x="619.3" y="968.1" font-size="28" textLength="126.1" lengthAdjust="spacingAndGlyphs">Australian</text><rect x="583.7" y="996.7" width="21.5" height="21.2" fill="#BEBADA" stroke="#222" stroke-width="1.1"/><text x="616.6" y="1015.8" font-size="28" textLength="160.9" lengthAdjust="spacingAndGlyphs">Madagascan</text><rect x="815.6" y="901.1" width="21.5" height="21.2" fill="#FB8072" stroke="#222" stroke-width="1.1"/><text x="847.2" y="920.2" font-size="28" textLength="108.1" lengthAdjust="spacingAndGlyphs">Nearctic</text><rect x="815.6" y="949.0" width="21.5" height="21.2" fill="#80B1D3" stroke="#222" stroke-width="1.1"/><text x="846.4" y="968.1" font-size="28" textLength="151.5" lengthAdjust="spacingAndGlyphs">Neotropical</text><rect x="815.6" y="996.7" width="21.5" height="21.2" fill="#FDB462" stroke="#222" stroke-width="1.1"/><text x="848.2" y="1015.8" font-size="28" textLength="120.8" lengthAdjust="spacingAndGlyphs">Oceanian</text><rect x="1033.7" y="901.1" width="21.5" height="21.2" fill="#B3DE69" stroke="#222" stroke-width="1.1"/><text x="1067.9" y="920.2" font-size="28" textLength="104.9" lengthAdjust="spacingAndGlyphs">Oriental</text><rect x="1033.7" y="949.0" width="21.5" height="21.2" fill="#FCCDE5" stroke="#222" stroke-width="1.1"/><text x="1066.7" y="968.1" font-size="28" textLength="142.1" lengthAdjust="spacingAndGlyphs">Palaearctic</text><rect x="1033.7" y="996.7" width="21.5" height="21.2" fill="#D9D9D9" stroke="#222" stroke-width="1.1"/><text x="1066.7" y="1015.8" font-size="28" textLength="154.1" lengthAdjust="spacingAndGlyphs">Panamanian</text><rect x="1254.1" y="901.1" width="21.5" height="21.2" fill="#BC80BD" stroke="#222" stroke-width="1.1"/><text x="1286.6" y="920.2" font-size="28" textLength="201.9" lengthAdjust="spacingAndGlyphs">Saharo–Arabian</text><rect x="1254.1" y="949.0" width="21.5" height="21.2" fill="#CCEBC5" stroke="#222" stroke-width="1.1"/><text x="1286.6" y="968.1" font-size="28" textLength="190.5" lengthAdjust="spacingAndGlyphs">Sino–Japanese</text></g>
<g id="plots"><path d="M97.3 1236.6H622.0" stroke="#BDBDBD" stroke-width="1.75" stroke-dasharray="8 8.7"/><path d="M96.3 1110.8V1375.5H623.0" fill="none" stroke="#222" stroke-width="1.25"/><path d="M87.8 1365.2H96.3" stroke="#333" stroke-width="1.2"/><text x="77.1" y="1372.6" font-size="23.4" text-anchor="end" textLength="15.1" lengthAdjust="spacingAndGlyphs">0</text><path d="M87.8 1285.7H96.3" stroke="#333" stroke-width="1.2"/><text x="76.8" y="1293.1" font-size="23.4" text-anchor="end" textLength="37.2" lengthAdjust="spacingAndGlyphs">0.2</text><path d="M87.8 1206.2H96.3" stroke="#333" stroke-width="1.2"/><text x="76.8" y="1213.6" font-size="23.4" text-anchor="end" textLength="37.2" lengthAdjust="spacingAndGlyphs">0.4</text><path d="M87.8 1126.3H96.3" stroke="#333" stroke-width="1.2"/><text x="76.8" y="1133.7" font-size="23.4" text-anchor="end" textLength="37.2" lengthAdjust="spacingAndGlyphs">0.6</text><path d="M120.0 1376.1V1382.5" stroke="#333" stroke-width="1.2"/><text x="103.0" y="1417.0" font-size="22.5">10<tspan dy="-12.5" font-size="15">0</tspan></text><path d="M188.5 1376.1V1382.5" stroke="#333" stroke-width="1.2"/><text x="171.5" y="1417.0" font-size="22.5">10<tspan dy="-12.5" font-size="15">1</tspan></text><path d="M257.1 1376.1V1382.5" stroke="#333" stroke-width="1.2"/><text x="240.1" y="1417.0" font-size="22.5">10<tspan dy="-12.5" font-size="15">2</tspan></text><path d="M325.6 1376.1V1382.5" stroke="#333" stroke-width="1.2"/><text x="308.6" y="1417.0" font-size="22.5">10<tspan dy="-12.5" font-size="15">3</tspan></text><path d="M394.1 1376.1V1382.5" stroke="#333" stroke-width="1.2"/><text x="377.1" y="1417.0" font-size="22.5">10<tspan dy="-12.5" font-size="15">4</tspan></text><path d="M462.6 1376.1V1382.5" stroke="#333" stroke-width="1.2"/><text x="445.6" y="1417.0" font-size="22.5">10<tspan dy="-12.5" font-size="15">5</tspan></text><path d="M531.2 1376.1V1382.5" stroke="#333" stroke-width="1.2"/><text x="514.2" y="1417.0" font-size="22.5">10<tspan dy="-12.5" font-size="15">6</tspan></text><path d="M599.7 1376.1V1382.5" stroke="#333" stroke-width="1.2"/><text x="582.7" y="1417.0" font-size="22.5">10<tspan dy="-12.5" font-size="15">7</tspan></text><text x="359.6" y="1455.5" font-size="27.3" text-anchor="middle" textLength="265.3" lengthAdjust="spacingAndGlyphs">Body size (mass in g)</text><text x="0" y="0" font-size="27.8" text-anchor="middle" textLength="207.7" lengthAdjust="spacingAndGlyphs" transform="translate(23.1,1243.2) rotate(-90)">Prop. specialists</text><text x="360.3" y="1097.0" font-size="26.8" text-anchor="middle" textLength="514.0" lengthAdjust="spacingAndGlyphs">Nearctic (454 species, 32.4% specialists)</text><path d="M159.8 1122.3V1235.8M156.6 1122.3H163.0M156.6 1235.8H163.0" stroke="#262626" stroke-width="1.6" fill="none"/><path d="M189.4 1125.1V1243.0M186.2 1125.1H192.6M186.2 1243.0H192.6" stroke="#262626" stroke-width="1.6" fill="none"/><path d="M204.2 1197.8V1302.9M201.0 1197.8H207.4M201.0 1302.9H207.4" stroke="#262626" stroke-width="1.6" fill="none"/><path d="M217.3 1201.0V1304.9M214.1 1201.0H220.5M214.1 1304.9H220.5" stroke="#262626" stroke-width="1.6" fill="none"/><path d="M230.1 1297.3V1362.8M226.9 1297.3H233.3M226.9 1362.8H233.3" stroke="#262626" stroke-width="1.6" fill="none"/><path d="M248.5 1228.6V1325.3M245.3 1228.6H251.7M245.3 1325.3H251.7" stroke="#262626" stroke-width="1.6" fill="none"/><path d="M270.5 1181.4V1289.7M267.3 1181.4H273.7M267.3 1289.7H273.7" stroke="#262626" stroke-width="1.6" fill="none"/><path d="M307.6 1144.3V1257.4M304.4 1144.3H310.8M304.4 1257.4H310.8" stroke="#262626" stroke-width="1.6" fill="none"/><path d="M360.0 1144.7V1260.1M356.8 1144.7H363.2M356.8 1260.1H363.2" stroke="#262626" stroke-width="1.6" fill="none"/><path d="M505.0 1201.0V1304.5M501.8 1201.0H508.2M501.8 1304.5H508.2" stroke="#262626" stroke-width="1.6" fill="none"/><path d="M159.8 1179.0 L189.4 1184.6 L204.2 1250.2 L217.3 1253.0 L230.1 1330.5 L248.5 1276.9 L270.5 1235.4 L307.6 1201.0 L360.0 1202.2 L505.0 1253.0" fill="none" stroke="#000" stroke-width="2.1" stroke-linejoin="round"/><circle cx="159.8" cy="1179.0" r="5.9" fill="#000" stroke="#000" stroke-width="1.3"/><circle cx="189.4" cy="1184.6" r="5.9" fill="#fff" stroke="#000" stroke-width="1.3"/><circle cx="204.2" cy="1250.2" r="5.9" fill="#fff" stroke="#000" stroke-width="1.3"/><circle cx="217.3" cy="1253.0" r="5.9" fill="#fff" stroke="#000" stroke-width="1.3"/><circle cx="230.1" cy="1330.5" r="5.9" fill="#000" stroke="#000" stroke-width="1.3"/><circle cx="248.5" cy="1276.9" r="5.9" fill="#fff" stroke="#000" stroke-width="1.3"/><circle cx="270.5" cy="1235.4" r="5.9" fill="#fff" stroke="#000" stroke-width="1.3"/><circle cx="307.6" cy="1201.0" r="5.9" fill="#fff" stroke="#000" stroke-width="1.3"/><circle cx="360.0" cy="1202.2" r="5.9" fill="#fff" stroke="#000" stroke-width="1.3"/><circle cx="505.0" cy="1253.0" r="5.9" fill="#fff" stroke="#000" stroke-width="1.3"/><path d="M775.1 1248.4H1300.0" stroke="#BDBDBD" stroke-width="1.75" stroke-dasharray="8 8.7"/><path d="M774.1 1110.8V1375.5H1301.0" fill="none" stroke="#222" stroke-width="1.25"/><path d="M765.6 1311.4H774.1" stroke="#333" stroke-width="1.2"/><text x="754.6" y="1318.8" font-size="23.4" text-anchor="end" textLength="37.2" lengthAdjust="spacingAndGlyphs">0.2</text><path d="M765.6 1234.8H774.1" stroke="#333" stroke-width="1.2"/><text x="754.6" y="1242.2" font-size="23.4" text-anchor="end" textLength="37.2" lengthAdjust="spacingAndGlyphs">0.4</text><path d="M765.6 1157.8H774.1" stroke="#333" stroke-width="1.2"/><text x="754.6" y="1165.2" font-size="23.4" text-anchor="end" textLength="37.2" lengthAdjust="spacingAndGlyphs">0.6</text><path d="M798.3 1376.1V1382.5" stroke="#333" stroke-width="1.2"/><text x="781.3" y="1417.0" font-size="22.5">10<tspan dy="-12.5" font-size="15">0</tspan></text><path d="M866.8 1376.1V1382.5" stroke="#333" stroke-width="1.2"/><text x="849.8" y="1417.0" font-size="22.5">10<tspan dy="-12.5" font-size="15">1</tspan></text><path d="M935.3 1376.1V1382.5" stroke="#333" stroke-width="1.2"/><text x="918.3" y="1417.0" font-size="22.5">10<tspan dy="-12.5" font-size="15">2</tspan></text><path d="M1003.8 1376.1V1382.5" stroke="#333" stroke-width="1.2"/><text x="986.8" y="1417.0" font-size="22.5">10<tspan dy="-12.5" font-size="15">3</tspan></text><path d="M1072.4 1376.1V1382.5" stroke="#333" stroke-width="1.2"/><text x="1055.4" y="1417.0" font-size="22.5">10<tspan dy="-12.5" font-size="15">4</tspan></text><path d="M1140.9 1376.1V1382.5" stroke="#333" stroke-width="1.2"/><text x="1123.9" y="1417.0" font-size="22.5">10<tspan dy="-12.5" font-size="15">5</tspan></text><path d="M1209.4 1376.1V1382.5" stroke="#333" stroke-width="1.2"/><text x="1192.4" y="1417.0" font-size="22.5">10<tspan dy="-12.5" font-size="15">6</tspan></text><path d="M1277.9 1376.1V1382.5" stroke="#333" stroke-width="1.2"/><text x="1260.9" y="1417.0" font-size="22.5">10<tspan dy="-12.5" font-size="15">7</tspan></text><text x="1037.5" y="1455.5" font-size="27.3" text-anchor="middle" textLength="265.3" lengthAdjust="spacingAndGlyphs">Body size (mass in g)</text><text x="0" y="0" font-size="27.8" text-anchor="middle" textLength="207.7" lengthAdjust="spacingAndGlyphs" transform="translate(696.0,1243.2) rotate(-90)">Prop. specialists</text><text x="1037.7" y="1097.0" font-size="26.8" text-anchor="middle" textLength="549.5" lengthAdjust="spacingAndGlyphs">Palaearctic (444 species, 36.5% specialists)</text><path d="M839.1 1152.9V1264.9M835.9 1152.9H842.3M835.9 1264.9H842.3" stroke="#262626" stroke-width="1.6" fill="none"/><path d="M870.3 1203.9V1311.4M867.1 1203.9H873.5M867.1 1311.4H873.5" stroke="#262626" stroke-width="1.6" fill="none"/><path d="M888.0 1203.9V1311.4M884.8 1203.9H891.2M884.8 1311.4H891.2" stroke="#262626" stroke-width="1.6" fill="none"/><path d="M907.0 1227.0V1328.7M903.8 1227.0H910.2M903.8 1328.7H910.2" stroke="#262626" stroke-width="1.6" fill="none"/><path d="M926.7 1213.8V1319.2M923.5 1213.8H929.9M923.5 1319.2H929.9" stroke="#262626" stroke-width="1.6" fill="none"/><path d="M952.3 1223.3V1327.0M949.1 1223.3H955.5M949.1 1327.0H955.5" stroke="#262626" stroke-width="1.6" fill="none"/><path d="M1002.1 1277.6V1363.7M998.9 1277.6H1005.3M998.9 1363.7H1005.3" stroke="#262626" stroke-width="1.6" fill="none"/><path d="M1049.8 1203.9V1311.4M1046.6 1203.9H1053.0M1046.6 1311.4H1053.0" stroke="#262626" stroke-width="1.6" fill="none"/><path d="M1100.8 1122.4V1235.6M1097.6 1122.4H1104.0M1097.6 1235.6H1104.0" stroke="#262626" stroke-width="1.6" fill="none"/><path d="M1203.3 1127.4V1239.8M1200.1 1127.4H1206.5M1200.1 1239.8H1206.5" stroke="#262626" stroke-width="1.6" fill="none"/><path d="M839.1 1209.3 L870.3 1257.5 L888.0 1257.5 L907.0 1277.2 L926.7 1266.1 L952.3 1275.2 L1002.1 1320.4 L1049.8 1257.9 L1100.8 1178.8 L1203.3 1183.8" fill="none" stroke="#000" stroke-width="2.1" stroke-linejoin="round"/><circle cx="839.1" cy="1209.3" r="5.9" fill="#fff" stroke="#000" stroke-width="1.3"/><circle cx="870.3" cy="1257.5" r="5.9" fill="#fff" stroke="#000" stroke-width="1.3"/><circle cx="888.0" cy="1257.5" r="5.9" fill="#fff" stroke="#000" stroke-width="1.3"/><circle cx="907.0" cy="1277.2" r="5.9" fill="#fff" stroke="#000" stroke-width="1.3"/><circle cx="926.7" cy="1266.1" r="5.9" fill="#fff" stroke="#000" stroke-width="1.3"/><circle cx="952.3" cy="1275.2" r="5.9" fill="#fff" stroke="#000" stroke-width="1.3"/><circle cx="1002.1" cy="1320.4" r="5.9" fill="#000" stroke="#000" stroke-width="1.3"/><circle cx="1049.8" cy="1257.9" r="5.9" fill="#fff" stroke="#000" stroke-width="1.3"/><circle cx="1100.8" cy="1178.8" r="5.9" fill="#000" stroke="#000" stroke-width="1.3"/><circle cx="1203.3" cy="1183.8" r="5.9" fill="#000" stroke="#000" stroke-width="1.3"/><path d="M1457.6 1249.9H1982.4" stroke="#BDBDBD" stroke-width="1.75" stroke-dasharray="8 8.7"/><path d="M1456.6 1110.8V1375.5H1983.4" fill="none" stroke="#222" stroke-width="1.25"/><path d="M1448.1 1325.8H1456.6" stroke="#333" stroke-width="1.2"/><text x="1437.1" y="1333.2" font-size="23.4" text-anchor="end" textLength="37.2" lengthAdjust="spacingAndGlyphs">0.2</text><path d="M1448.1 1261.3H1456.6" stroke="#333" stroke-width="1.2"/><text x="1437.1" y="1268.7" font-size="23.4" text-anchor="end" textLength="37.2" lengthAdjust="spacingAndGlyphs">0.4</text><path d="M1448.1 1196.9H1456.6" stroke="#333" stroke-width="1.2"/><text x="1437.1" y="1204.3" font-size="23.4" text-anchor="end" textLength="37.2" lengthAdjust="spacingAndGlyphs">0.6</text><path d="M1448.1 1132.0H1456.6" stroke="#333" stroke-width="1.2"/><text x="1437.1" y="1139.4" font-size="23.4" text-anchor="end" textLength="37.2" lengthAdjust="spacingAndGlyphs">0.8</text><path d="M1480.0 1376.1V1382.5" stroke="#333" stroke-width="1.2"/><text x="1463.0" y="1417.0" font-size="22.5">10<tspan dy="-12.5" font-size="15">0</tspan></text><path d="M1548.5 1376.1V1382.5" stroke="#333" stroke-width="1.2"/><text x="1531.5" y="1417.0" font-size="22.5">10<tspan dy="-12.5" font-size="15">1</tspan></text><path d="M1617.1 1376.1V1382.5" stroke="#333" stroke-width="1.2"/><text x="1600.1" y="1417.0" font-size="22.5">10<tspan dy="-12.5" font-size="15">2</tspan></text><path d="M1685.6 1376.1V1382.5" stroke="#333" stroke-width="1.2"/><text x="1668.6" y="1417.0" font-size="22.5">10<tspan dy="-12.5" font-size="15">3</tspan></text><path d="M1754.1 1376.1V1382.5" stroke="#333" stroke-width="1.2"/><text x="1737.1" y="1417.0" font-size="22.5">10<tspan dy="-12.5" font-size="15">4</tspan></text><path d="M1822.6 1376.1V1382.5" stroke="#333" stroke-width="1.2"/><text x="1805.6" y="1417.0" font-size="22.5">10<tspan dy="-12.5" font-size="15">5</tspan></text><path d="M1891.2 1376.1V1382.5" stroke="#333" stroke-width="1.2"/><text x="1874.2" y="1417.0" font-size="22.5">10<tspan dy="-12.5" font-size="15">6</tspan></text><path d="M1959.7 1376.1V1382.5" stroke="#333" stroke-width="1.2"/><text x="1942.7" y="1417.0" font-size="22.5">10<tspan dy="-12.5" font-size="15">7</tspan></text><text x="1720.0" y="1455.5" font-size="27.3" text-anchor="middle" textLength="265.3" lengthAdjust="spacingAndGlyphs">Body size (mass in g)</text><text x="0" y="0" font-size="27.8" text-anchor="middle" textLength="207.7" lengthAdjust="spacingAndGlyphs" transform="translate(1367.7,1243.2) rotate(-90)">Prop. specialists</text><text x="1718.0" y="1097.0" font-size="26.8" text-anchor="middle" textLength="586.1" lengthAdjust="spacingAndGlyphs">Sino-Japanese (375 species, 43.5% specialists)</text><path d="M1519.5 1122.2V1217.3M1516.3 1122.2H1522.7M1516.3 1217.3H1522.7" stroke="#262626" stroke-width="1.6" fill="none"/><path d="M1550.9 1139.4V1240.1M1547.7 1139.4H1554.1M1547.7 1240.1H1554.1" stroke="#262626" stroke-width="1.6" fill="none"/><path d="M1569.7 1178.1V1280.5M1566.5 1178.1H1572.9M1566.5 1280.5H1572.9" stroke="#262626" stroke-width="1.6" fill="none"/><path d="M1586.4 1181.8V1285.4M1583.2 1181.8H1589.6M1583.2 1285.4H1589.6" stroke="#262626" stroke-width="1.6" fill="none"/><path d="M1611.7 1212.8V1313.2M1608.5 1212.8H1614.9M1608.5 1313.2H1614.9" stroke="#262626" stroke-width="1.6" fill="none"/><path d="M1644.8 1278.1V1363.3M1641.6 1278.1H1648.0M1641.6 1363.3H1648.0" stroke="#262626" stroke-width="1.6" fill="none"/><path d="M1694.1 1267.5V1356.4M1690.9 1267.5H1697.3M1690.9 1356.4H1697.3" stroke="#262626" stroke-width="1.6" fill="none"/><path d="M1735.8 1222.2V1320.9M1732.6 1222.2H1739.0M1732.6 1320.9H1739.0" stroke="#262626" stroke-width="1.6" fill="none"/><path d="M1777.0 1227.5V1327.0M1773.8 1227.5H1780.2M1773.8 1327.0H1780.2" stroke="#262626" stroke-width="1.6" fill="none"/><path d="M1902.6 1186.3V1288.7M1899.4 1186.3H1905.8M1899.4 1288.7H1905.8" stroke="#262626" stroke-width="1.6" fill="none"/><path d="M1519.5 1170.0 L1550.9 1189.9 L1569.7 1229.1 L1586.4 1233.6 L1611.7 1263.0 L1644.8 1320.5 L1694.1 1311.9 L1735.8 1271.5 L1777.0 1276.8 L1902.6 1237.7" fill="none" stroke="#000" stroke-width="2.1" stroke-linejoin="round"/><circle cx="1519.5" cy="1170.0" r="5.9" fill="#000" stroke="#000" stroke-width="1.3"/><circle cx="1550.9" cy="1189.9" r="5.9" fill="#000" stroke="#000" stroke-width="1.3"/><circle cx="1569.7" cy="1229.1" r="5.9" fill="#fff" stroke="#000" stroke-width="1.3"/><circle cx="1586.4" cy="1233.6" r="5.9" fill="#fff" stroke="#000" stroke-width="1.3"/><circle cx="1611.7" cy="1263.0" r="5.9" fill="#fff" stroke="#000" stroke-width="1.3"/><circle cx="1644.8" cy="1320.5" r="5.9" fill="#000" stroke="#000" stroke-width="1.3"/><circle cx="1694.1" cy="1311.9" r="5.9" fill="#000" stroke="#000" stroke-width="1.3"/><circle cx="1735.8" cy="1271.5" r="5.9" fill="#fff" stroke="#000" stroke-width="1.3"/><circle cx="1777.0" cy="1276.8" r="5.9" fill="#fff" stroke="#000" stroke-width="1.3"/><circle cx="1902.6" cy="1237.7" r="5.9" fill="#fff" stroke="#000" stroke-width="1.3"/><path d="M97.3 1676.9H622.0" stroke="#BDBDBD" stroke-width="1.75" stroke-dasharray="8 8.7"/><path d="M96.3 1519.4V1783.9H623.0" fill="none" stroke="#222" stroke-width="1.25"/><path d="M87.8 1766.0H96.3" stroke="#333" stroke-width="1.2"/><text x="77.1" y="1773.4" font-size="23.4" text-anchor="end" textLength="15.1" lengthAdjust="spacingAndGlyphs">0</text><path d="M87.8 1709.7H96.3" stroke="#333" stroke-width="1.2"/><text x="76.8" y="1717.1" font-size="23.4" text-anchor="end" textLength="37.2" lengthAdjust="spacingAndGlyphs">0.2</text><path d="M87.8 1653.0H96.3" stroke="#333" stroke-width="1.2"/><text x="76.8" y="1660.4" font-size="23.4" text-anchor="end" textLength="37.2" lengthAdjust="spacingAndGlyphs">0.4</text><path d="M87.8 1596.2H96.3" stroke="#333" stroke-width="1.2"/><text x="76.8" y="1603.6" font-size="23.4" text-anchor="end" textLength="37.2" lengthAdjust="spacingAndGlyphs">0.6</text><path d="M87.8 1539.9H96.3" stroke="#333" stroke-width="1.2"/><text x="76.8" y="1547.3" font-size="23.4" text-anchor="end" textLength="37.2" lengthAdjust="spacingAndGlyphs">0.8</text><path d="M120.0 1784.5V1790.9" stroke="#333" stroke-width="1.2"/><text x="103.0" y="1825.4" font-size="22.5">10<tspan dy="-12.5" font-size="15">0</tspan></text><path d="M188.5 1784.5V1790.9" stroke="#333" stroke-width="1.2"/><text x="171.5" y="1825.4" font-size="22.5">10<tspan dy="-12.5" font-size="15">1</tspan></text><path d="M257.1 1784.5V1790.9" stroke="#333" stroke-width="1.2"/><text x="240.1" y="1825.4" font-size="22.5">10<tspan dy="-12.5" font-size="15">2</tspan></text><path d="M325.6 1784.5V1790.9" stroke="#333" stroke-width="1.2"/><text x="308.6" y="1825.4" font-size="22.5">10<tspan dy="-12.5" font-size="15">3</tspan></text><path d="M394.1 1784.5V1790.9" stroke="#333" stroke-width="1.2"/><text x="377.1" y="1825.4" font-size="22.5">10<tspan dy="-12.5" font-size="15">4</tspan></text><path d="M462.6 1784.5V1790.9" stroke="#333" stroke-width="1.2"/><text x="445.6" y="1825.4" font-size="22.5">10<tspan dy="-12.5" font-size="15">5</tspan></text><path d="M531.2 1784.5V1790.9" stroke="#333" stroke-width="1.2"/><text x="514.2" y="1825.4" font-size="22.5">10<tspan dy="-12.5" font-size="15">6</tspan></text><path d="M599.7 1784.5V1790.9" stroke="#333" stroke-width="1.2"/><text x="582.7" y="1825.4" font-size="22.5">10<tspan dy="-12.5" font-size="15">7</tspan></text><text x="359.6" y="1863.9" font-size="27.3" text-anchor="middle" textLength="265.3" lengthAdjust="spacingAndGlyphs">Body size (mass in g)</text><text x="0" y="0" font-size="27.8" text-anchor="middle" textLength="207.7" lengthAdjust="spacingAndGlyphs" transform="translate(23.1,1651.7) rotate(-90)">Prop. specialists</text><text x="359.9" y="1505.6" font-size="26.8" text-anchor="middle" textLength="556.1" lengthAdjust="spacingAndGlyphs">Panamanian (464 species, 31.5% specialists)</text><path d="M158.6 1530.7V1604.6M155.4 1530.7H161.8M155.4 1604.6H161.8" stroke="#262626" stroke-width="1.6" fill="none"/><path d="M187.4 1609.4V1689.3M184.2 1609.4H190.6M184.2 1689.3H190.6" stroke="#262626" stroke-width="1.6" fill="none"/><path d="M199.8 1571.9V1653.0M196.6 1571.9H203.0M196.6 1653.0H203.0" stroke="#262626" stroke-width="1.6" fill="none"/><path d="M210.9 1612.2V1691.3M207.7 1612.2H214.1M207.7 1691.3H214.1" stroke="#262626" stroke-width="1.6" fill="none"/><path d="M224.1 1635.8V1712.1M220.9 1635.8H227.3M220.9 1712.1H227.3" stroke="#262626" stroke-width="1.6" fill="none"/><path d="M235.7 1718.9V1764.4M232.5 1718.9H238.9M232.5 1764.4H238.9" stroke="#262626" stroke-width="1.6" fill="none"/><path d="M253.3 1748.9V1771.2M250.1 1748.9H256.5M250.1 1771.2H256.5" stroke="#262626" stroke-width="1.6" fill="none"/><path d="M290.1 1716.5V1764.4M286.9 1716.5H293.3M286.9 1764.4H293.3" stroke="#262626" stroke-width="1.6" fill="none"/><path d="M350.0 1642.6V1717.7M346.8 1642.6H353.2M346.8 1717.7H353.2" stroke="#262626" stroke-width="1.6" fill="none"/><path d="M474.6 1658.6V1728.9M471.4 1658.6H477.8M471.4 1728.9H477.8" stroke="#262626" stroke-width="1.6" fill="none"/><path d="M158.6 1567.5 L187.4 1649.4 L199.8 1612.2 L210.9 1651.8 L224.1 1674.1 L235.7 1741.7 L253.3 1760.0 L290.1 1740.5 L350.0 1679.7 L474.6 1694.1" fill="none" stroke="#000" stroke-width="2.1" stroke-linejoin="round"/><circle cx="158.6" cy="1567.5" r="5.9" fill="#000" stroke="#000" stroke-width="1.3"/><circle cx="187.4" cy="1649.4" r="5.9" fill="#fff" stroke="#000" stroke-width="1.3"/><circle cx="199.8" cy="1612.2" r="5.9" fill="#000" stroke="#000" stroke-width="1.3"/><circle cx="210.9" cy="1651.8" r="5.9" fill="#fff" stroke="#000" stroke-width="1.3"/><circle cx="224.1" cy="1674.1" r="5.9" fill="#fff" stroke="#000" stroke-width="1.3"/><circle cx="235.7" cy="1741.7" r="5.9" fill="#000" stroke="#000" stroke-width="1.3"/><circle cx="253.3" cy="1760.0" r="5.9" fill="#000" stroke="#000" stroke-width="1.3"/><circle cx="290.1" cy="1740.5" r="5.9" fill="#000" stroke="#000" stroke-width="1.3"/><circle cx="350.0" cy="1679.7" r="5.9" fill="#fff" stroke="#000" stroke-width="1.3"/><circle cx="474.6" cy="1694.1" r="5.9" fill="#fff" stroke="#000" stroke-width="1.3"/><path d="M775.1 1666.6H1300.0" stroke="#BDBDBD" stroke-width="1.75" stroke-dasharray="8 8.7"/><path d="M774.1 1519.4V1783.9H1301.0" fill="none" stroke="#222" stroke-width="1.25"/><path d="M765.6 1715.6H774.1" stroke="#333" stroke-width="1.2"/><text x="752.2" y="1723.0" font-size="23.4" text-anchor="end" textLength="48.0" lengthAdjust="spacingAndGlyphs">0.25</text><path d="M765.6 1643.6H774.1" stroke="#333" stroke-width="1.2"/><text x="752.2" y="1651.0" font-size="23.4" text-anchor="end" textLength="51.1" lengthAdjust="spacingAndGlyphs">0.50</text><path d="M765.6 1571.1H774.1" stroke="#333" stroke-width="1.2"/><text x="752.2" y="1578.5" font-size="23.4" text-anchor="end" textLength="47.6" lengthAdjust="spacingAndGlyphs">0.75</text><path d="M798.3 1784.5V1790.9" stroke="#333" stroke-width="1.2"/><text x="781.3" y="1825.4" font-size="22.5">10<tspan dy="-12.5" font-size="15">0</tspan></text><path d="M866.8 1784.5V1790.9" stroke="#333" stroke-width="1.2"/><text x="849.8" y="1825.4" font-size="22.5">10<tspan dy="-12.5" font-size="15">1</tspan></text><path d="M935.3 1784.5V1790.9" stroke="#333" stroke-width="1.2"/><text x="918.3" y="1825.4" font-size="22.5">10<tspan dy="-12.5" font-size="15">2</tspan></text><path d="M1003.8 1784.5V1790.9" stroke="#333" stroke-width="1.2"/><text x="986.8" y="1825.4" font-size="22.5">10<tspan dy="-12.5" font-size="15">3</tspan></text><path d="M1072.4 1784.5V1790.9" stroke="#333" stroke-width="1.2"/><text x="1055.4" y="1825.4" font-size="22.5">10<tspan dy="-12.5" font-size="15">4</tspan></text><path d="M1140.9 1784.5V1790.9" stroke="#333" stroke-width="1.2"/><text x="1123.9" y="1825.4" font-size="22.5">10<tspan dy="-12.5" font-size="15">5</tspan></text><path d="M1209.4 1784.5V1790.9" stroke="#333" stroke-width="1.2"/><text x="1192.4" y="1825.4" font-size="22.5">10<tspan dy="-12.5" font-size="15">6</tspan></text><path d="M1277.9 1784.5V1790.9" stroke="#333" stroke-width="1.2"/><text x="1260.9" y="1825.4" font-size="22.5">10<tspan dy="-12.5" font-size="15">7</tspan></text><text x="1037.5" y="1863.9" font-size="27.3" text-anchor="middle" textLength="265.3" lengthAdjust="spacingAndGlyphs">Body size (mass in g)</text><text x="0" y="0" font-size="27.8" text-anchor="middle" textLength="207.7" lengthAdjust="spacingAndGlyphs" transform="translate(688.5,1651.7) rotate(-90)">Prop. specialists</text><text x="1033.8" y="1505.6" font-size="26.8" text-anchor="middle" textLength="592.7" lengthAdjust="spacingAndGlyphs">Saharo-Arabian (297 species, 42.1% specialists)</text><path d="M838.2 1564.6V1665.4M835.0 1564.6H841.4M835.0 1665.4H841.4" stroke="#262626" stroke-width="1.6" fill="none"/><path d="M870.3 1582.7V1685.6M867.1 1582.7H873.5M867.1 1685.6H873.5" stroke="#262626" stroke-width="1.6" fill="none"/><path d="M889.3 1596.2V1701.2M886.1 1596.2H892.5M886.1 1701.2H892.5" stroke="#262626" stroke-width="1.6" fill="none"/><path d="M907.4 1622.2V1723.4M904.2 1622.2H910.6M904.2 1723.4H910.6" stroke="#262626" stroke-width="1.6" fill="none"/><path d="M928.8 1689.3V1771.6M925.6 1689.3H932.0M925.6 1771.6H932.0" stroke="#262626" stroke-width="1.6" fill="none"/><path d="M953.1 1638.6V1738.7M949.9 1638.6H956.3M949.9 1738.7H956.3" stroke="#262626" stroke-width="1.6" fill="none"/><path d="M1002.1 1689.3V1771.6M998.9 1689.3H1005.3M998.9 1771.6H1005.3" stroke="#262626" stroke-width="1.6" fill="none"/><path d="M1039.9 1627.9V1730.0M1036.7 1627.9H1043.1M1036.7 1730.0H1043.1" stroke="#262626" stroke-width="1.6" fill="none"/><path d="M1088.9 1643.2V1740.7M1085.7 1643.2H1092.1M1085.7 1740.7H1092.1" stroke="#262626" stroke-width="1.6" fill="none"/><path d="M1154.8 1531.2V1621.8M1151.6 1531.2H1158.0M1151.6 1621.8H1158.0" stroke="#262626" stroke-width="1.6" fill="none"/><path d="M838.2 1615.2 L870.3 1634.1 L889.3 1648.9 L907.4 1672.8 L928.8 1730.4 L953.1 1688.9 L1002.1 1730.4 L1039.9 1678.6 L1088.9 1692.2 L1154.8 1576.5" fill="none" stroke="#000" stroke-width="2.1" stroke-linejoin="round"/><circle cx="838.2" cy="1615.2" r="5.9" fill="#000" stroke="#000" stroke-width="1.3"/><circle cx="870.3" cy="1634.1" r="5.9" fill="#fff" stroke="#000" stroke-width="1.3"/><circle cx="889.3" cy="1648.9" r="5.9" fill="#fff" stroke="#000" stroke-width="1.3"/><circle cx="907.4" cy="1672.8" r="5.9" fill="#fff" stroke="#000" stroke-width="1.3"/><circle cx="928.8" cy="1730.4" r="5.9" fill="#000" stroke="#000" stroke-width="1.3"/><circle cx="953.1" cy="1688.9" r="5.9" fill="#fff" stroke="#000" stroke-width="1.3"/><circle cx="1002.1" cy="1730.4" r="5.9" fill="#000" stroke="#000" stroke-width="1.3"/><circle cx="1039.9" cy="1678.6" r="5.9" fill="#fff" stroke="#000" stroke-width="1.3"/><circle cx="1088.9" cy="1692.2" r="5.9" fill="#fff" stroke="#000" stroke-width="1.3"/><circle cx="1154.8" cy="1576.5" r="5.9" fill="#000" stroke="#000" stroke-width="1.3"/><path d="M1457.6 1676.2H1982.4" stroke="#BDBDBD" stroke-width="1.75" stroke-dasharray="8 8.7"/><path d="M1456.6 1519.4V1783.9H1983.4" fill="none" stroke="#222" stroke-width="1.25"/><path d="M1448.1 1781.9H1456.6" stroke="#333" stroke-width="1.2"/><text x="1437.4" y="1789.3" font-size="23.4" text-anchor="end" textLength="15.1" lengthAdjust="spacingAndGlyphs">0</text><path d="M1448.1 1710.9H1456.6" stroke="#333" stroke-width="1.2"/><text x="1434.7" y="1718.3" font-size="23.4" text-anchor="end" textLength="48.0" lengthAdjust="spacingAndGlyphs">0.25</text><path d="M1448.1 1639.5H1456.6" stroke="#333" stroke-width="1.2"/><text x="1434.7" y="1646.9" font-size="23.4" text-anchor="end" textLength="51.1" lengthAdjust="spacingAndGlyphs">0.50</text><path d="M1448.1 1568.5H1456.6" stroke="#333" stroke-width="1.2"/><text x="1434.7" y="1575.9" font-size="23.4" text-anchor="end" textLength="47.6" lengthAdjust="spacingAndGlyphs">0.75</text><path d="M1480.0 1784.5V1790.9" stroke="#333" stroke-width="1.2"/><text x="1463.0" y="1825.4" font-size="22.5">10<tspan dy="-12.5" font-size="15">0</tspan></text><path d="M1548.5 1784.5V1790.9" stroke="#333" stroke-width="1.2"/><text x="1531.5" y="1825.4" font-size="22.5">10<tspan dy="-12.5" font-size="15">1</tspan></text><path d="M1617.1 1784.5V1790.9" stroke="#333" stroke-width="1.2"/><text x="1600.1" y="1825.4" font-size="22.5">10<tspan dy="-12.5" font-size="15">2</tspan></text><path d="M1685.6 1784.5V1790.9" stroke="#333" stroke-width="1.2"/><text x="1668.6" y="1825.4" font-size="22.5">10<tspan dy="-12.5" font-size="15">3</tspan></text><path d="M1754.1 1784.5V1790.9" stroke="#333" stroke-width="1.2"/><text x="1737.1" y="1825.4" font-size="22.5">10<tspan dy="-12.5" font-size="15">4</tspan></text><path d="M1822.6 1784.5V1790.9" stroke="#333" stroke-width="1.2"/><text x="1805.6" y="1825.4" font-size="22.5">10<tspan dy="-12.5" font-size="15">5</tspan></text><path d="M1891.2 1784.5V1790.9" stroke="#333" stroke-width="1.2"/><text x="1874.2" y="1825.4" font-size="22.5">10<tspan dy="-12.5" font-size="15">6</tspan></text><path d="M1959.7 1784.5V1790.9" stroke="#333" stroke-width="1.2"/><text x="1942.7" y="1825.4" font-size="22.5">10<tspan dy="-12.5" font-size="15">7</tspan></text><text x="1720.0" y="1863.9" font-size="27.3" text-anchor="middle" textLength="265.3" lengthAdjust="spacingAndGlyphs">Body size (mass in g)</text><text x="0" y="0" font-size="27.8" text-anchor="middle" textLength="207.7" lengthAdjust="spacingAndGlyphs" transform="translate(1367.7,1651.7) rotate(-90)">Prop. specialists</text><text x="1719.8" y="1505.6" font-size="26.8" text-anchor="middle" textLength="494.5" lengthAdjust="spacingAndGlyphs">Oriental (771 species, 37.1% specialists)</text><path d="M1522.4 1531.0V1581.2M1519.2 1531.0H1525.6M1519.2 1581.2H1525.6" stroke="#262626" stroke-width="1.6" fill="none"/><path d="M1554.6 1570.6V1631.8M1551.4 1570.6H1557.8M1551.4 1631.8H1557.8" stroke="#262626" stroke-width="1.6" fill="none"/><path d="M1574.2 1617.5V1680.7M1571.0 1617.5H1577.4M1571.0 1680.7H1577.4" stroke="#262626" stroke-width="1.6" fill="none"/><path d="M1596.6 1628.5V1690.5M1593.4 1628.5H1599.8M1593.4 1690.5H1599.8" stroke="#262626" stroke-width="1.6" fill="none"/><path d="M1617.0 1713.4V1759.9M1613.8 1713.4H1620.2M1613.8 1759.9H1620.2" stroke="#262626" stroke-width="1.6" fill="none"/><path d="M1633.3 1728.5V1768.9M1630.1 1728.5H1636.5M1630.1 1768.9H1636.5" stroke="#262626" stroke-width="1.6" fill="none"/><path d="M1658.2 1688.9V1741.9M1655.0 1688.9H1661.4M1655.0 1741.9H1661.4" stroke="#262626" stroke-width="1.6" fill="none"/><path d="M1702.7 1663.6V1722.3M1699.5 1663.6H1705.9M1699.5 1722.3H1705.9" stroke="#262626" stroke-width="1.6" fill="none"/><path d="M1741.1 1732.9V1771.7M1737.9 1732.9H1744.3M1737.9 1771.7H1744.3" stroke="#262626" stroke-width="1.6" fill="none"/><path d="M1902.2 1624.8V1688.1M1899.0 1624.8H1905.4M1899.0 1688.1H1905.4" stroke="#262626" stroke-width="1.6" fill="none"/><path d="M1522.4 1556.3 L1554.6 1601.2 L1574.2 1648.9 L1596.6 1659.9 L1617.0 1736.2 L1633.3 1748.5 L1658.2 1715.4 L1702.7 1693.4 L1741.1 1752.1 L1902.2 1656.2" fill="none" stroke="#000" stroke-width="2.1" stroke-linejoin="round"/><circle cx="1522.4" cy="1556.3" r="5.9" fill="#000" stroke="#000" stroke-width="1.3"/><circle cx="1554.6" cy="1601.2" r="5.9" fill="#000" stroke="#000" stroke-width="1.3"/><circle cx="1574.2" cy="1648.9" r="5.9" fill="#fff" stroke="#000" stroke-width="1.3"/><circle cx="1596.6" cy="1659.9" r="5.9" fill="#fff" stroke="#000" stroke-width="1.3"/><circle cx="1617.0" cy="1736.2" r="5.9" fill="#000" stroke="#000" stroke-width="1.3"/><circle cx="1633.3" cy="1748.5" r="5.9" fill="#000" stroke="#000" stroke-width="1.3"/><circle cx="1658.2" cy="1715.4" r="5.9" fill="#000" stroke="#000" stroke-width="1.3"/><circle cx="1702.7" cy="1693.4" r="5.9" fill="#fff" stroke="#000" stroke-width="1.3"/><circle cx="1741.1" cy="1752.1" r="5.9" fill="#000" stroke="#000" stroke-width="1.3"/><circle cx="1902.2" cy="1656.2" r="5.9" fill="#fff" stroke="#000" stroke-width="1.3"/><path d="M97.3 2089.3H622.0" stroke="#BDBDBD" stroke-width="1.75" stroke-dasharray="8 8.7"/><path d="M96.3 1927.2V2192.0H623.0" fill="none" stroke="#222" stroke-width="1.25"/><path d="M87.8 2182.8H96.3" stroke="#333" stroke-width="1.2"/><text x="77.1" y="2190.2" font-size="23.4" text-anchor="end" textLength="15.1" lengthAdjust="spacingAndGlyphs">0</text><path d="M87.8 2118.1H96.3" stroke="#333" stroke-width="1.2"/><text x="76.8" y="2125.5" font-size="23.4" text-anchor="end" textLength="37.2" lengthAdjust="spacingAndGlyphs">0.2</text><path d="M87.8 2053.4H96.3" stroke="#333" stroke-width="1.2"/><text x="76.8" y="2060.8" font-size="23.4" text-anchor="end" textLength="37.2" lengthAdjust="spacingAndGlyphs">0.4</text><path d="M87.8 1988.7H96.3" stroke="#333" stroke-width="1.2"/><text x="76.8" y="1996.1" font-size="23.4" text-anchor="end" textLength="37.2" lengthAdjust="spacingAndGlyphs">0.6</text><path d="M120.0 2192.6V2199.0" stroke="#333" stroke-width="1.2"/><text x="103.0" y="2233.5" font-size="22.5">10<tspan dy="-12.5" font-size="15">0</tspan></text><path d="M188.5 2192.6V2199.0" stroke="#333" stroke-width="1.2"/><text x="171.5" y="2233.5" font-size="22.5">10<tspan dy="-12.5" font-size="15">1</tspan></text><path d="M257.1 2192.6V2199.0" stroke="#333" stroke-width="1.2"/><text x="240.1" y="2233.5" font-size="22.5">10<tspan dy="-12.5" font-size="15">2</tspan></text><path d="M325.6 2192.6V2199.0" stroke="#333" stroke-width="1.2"/><text x="308.6" y="2233.5" font-size="22.5">10<tspan dy="-12.5" font-size="15">3</tspan></text><path d="M394.1 2192.6V2199.0" stroke="#333" stroke-width="1.2"/><text x="377.1" y="2233.5" font-size="22.5">10<tspan dy="-12.5" font-size="15">4</tspan></text><path d="M462.6 2192.6V2199.0" stroke="#333" stroke-width="1.2"/><text x="445.6" y="2233.5" font-size="22.5">10<tspan dy="-12.5" font-size="15">5</tspan></text><path d="M531.2 2192.6V2199.0" stroke="#333" stroke-width="1.2"/><text x="514.2" y="2233.5" font-size="22.5">10<tspan dy="-12.5" font-size="15">6</tspan></text><path d="M599.7 2192.6V2199.0" stroke="#333" stroke-width="1.2"/><text x="582.7" y="2233.5" font-size="22.5">10<tspan dy="-12.5" font-size="15">7</tspan></text><text x="359.6" y="2272.0" font-size="27.3" text-anchor="middle" textLength="265.3" lengthAdjust="spacingAndGlyphs">Body size (mass in g)</text><text x="0" y="0" font-size="27.8" text-anchor="middle" textLength="207.7" lengthAdjust="spacingAndGlyphs" transform="translate(23.1,2059.6) rotate(-90)">Prop. specialists</text><text x="359.9" y="1913.4" font-size="26.8" text-anchor="middle" textLength="552.1" lengthAdjust="spacingAndGlyphs">Neotropical (797 species, 28.9% specialists)</text><path d="M173.8 1939.1V2006.6M170.6 1939.1H177.0M170.6 2006.6H177.0" stroke="#262626" stroke-width="1.6" fill="none"/><path d="M203.4 1982.3V2052.6M200.2 1982.3H206.6M200.2 2052.6H206.6" stroke="#262626" stroke-width="1.6" fill="none"/><path d="M216.9 2084.5V2142.9M213.7 2084.5H220.1M213.7 2142.9H220.1" stroke="#262626" stroke-width="1.6" fill="none"/><path d="M229.7 2119.3V2165.6M226.5 2119.3H232.9M226.5 2165.6H232.9" stroke="#262626" stroke-width="1.6" fill="none"/><path d="M242.1 2148.5V2180.0M238.9 2148.5H245.3M238.9 2180.0H245.3" stroke="#262626" stroke-width="1.6" fill="none"/><path d="M257.7 2101.3V2156.5M254.5 2101.3H260.9M254.5 2156.5H260.9" stroke="#262626" stroke-width="1.6" fill="none"/><path d="M278.9 2043.0V2107.7M275.7 2043.0H282.1M275.7 2107.7H282.1" stroke="#262626" stroke-width="1.6" fill="none"/><path d="M302.0 2045.4V2113.3M298.8 2045.4H305.2M298.8 2113.3H305.2" stroke="#262626" stroke-width="1.6" fill="none"/><path d="M350.8 2075.8V2135.7M347.6 2075.8H354.0M347.6 2135.7H354.0" stroke="#262626" stroke-width="1.6" fill="none"/><path d="M524.6 2062.6V2125.7M521.4 2062.6H527.8M521.4 2125.7H527.8" stroke="#262626" stroke-width="1.6" fill="none"/><path d="M173.8 1973.1 L203.4 2017.4 L216.9 2113.3 L229.7 2142.5 L242.1 2164.4 L257.7 2128.9 L278.9 2075.4 L302.0 2079.3 L350.8 2106.1 L524.6 2094.1" fill="none" stroke="#000" stroke-width="2.1" stroke-linejoin="round"/><circle cx="173.8" cy="1973.1" r="5.9" fill="#000" stroke="#000" stroke-width="1.3"/><circle cx="203.4" cy="2017.4" r="5.9" fill="#000" stroke="#000" stroke-width="1.3"/><circle cx="216.9" cy="2113.3" r="5.9" fill="#fff" stroke="#000" stroke-width="1.3"/><circle cx="229.7" cy="2142.5" r="5.9" fill="#000" stroke="#000" stroke-width="1.3"/><circle cx="242.1" cy="2164.4" r="5.9" fill="#000" stroke="#000" stroke-width="1.3"/><circle cx="257.7" cy="2128.9" r="5.9" fill="#000" stroke="#000" stroke-width="1.3"/><circle cx="278.9" cy="2075.4" r="5.9" fill="#fff" stroke="#000" stroke-width="1.3"/><circle cx="302.0" cy="2079.3" r="5.9" fill="#fff" stroke="#000" stroke-width="1.3"/><circle cx="350.8" cy="2106.1" r="5.9" fill="#fff" stroke="#000" stroke-width="1.3"/><circle cx="524.6" cy="2094.1" r="5.9" fill="#fff" stroke="#000" stroke-width="1.3"/><path d="M775.1 2095.2H1300.0" stroke="#BDBDBD" stroke-width="1.75" stroke-dasharray="8 8.7"/><path d="M774.1 1927.2V2192.0H1301.0" fill="none" stroke="#222" stroke-width="1.25"/><path d="M765.6 2141.7H774.1" stroke="#333" stroke-width="1.2"/><text x="754.6" y="2149.1" font-size="23.4" text-anchor="end" textLength="37.2" lengthAdjust="spacingAndGlyphs">0.2</text><path d="M765.6 2078.3H774.1" stroke="#333" stroke-width="1.2"/><text x="754.6" y="2085.7" font-size="23.4" text-anchor="end" textLength="37.2" lengthAdjust="spacingAndGlyphs">0.4</text><path d="M765.6 2014.9H774.1" stroke="#333" stroke-width="1.2"/><text x="754.6" y="2022.3" font-size="23.4" text-anchor="end" textLength="37.2" lengthAdjust="spacingAndGlyphs">0.6</text><path d="M765.6 1951.5H774.1" stroke="#333" stroke-width="1.2"/><text x="754.6" y="1958.9" font-size="23.4" text-anchor="end" textLength="37.2" lengthAdjust="spacingAndGlyphs">0.8</text><path d="M798.3 2192.6V2199.0" stroke="#333" stroke-width="1.2"/><text x="781.3" y="2233.5" font-size="22.5">10<tspan dy="-12.5" font-size="15">0</tspan></text><path d="M866.8 2192.6V2199.0" stroke="#333" stroke-width="1.2"/><text x="849.8" y="2233.5" font-size="22.5">10<tspan dy="-12.5" font-size="15">1</tspan></text><path d="M935.3 2192.6V2199.0" stroke="#333" stroke-width="1.2"/><text x="918.3" y="2233.5" font-size="22.5">10<tspan dy="-12.5" font-size="15">2</tspan></text><path d="M1003.8 2192.6V2199.0" stroke="#333" stroke-width="1.2"/><text x="986.8" y="2233.5" font-size="22.5">10<tspan dy="-12.5" font-size="15">3</tspan></text><path d="M1072.4 2192.6V2199.0" stroke="#333" stroke-width="1.2"/><text x="1055.4" y="2233.5" font-size="22.5">10<tspan dy="-12.5" font-size="15">4</tspan></text><path d="M1140.9 2192.6V2199.0" stroke="#333" stroke-width="1.2"/><text x="1123.9" y="2233.5" font-size="22.5">10<tspan dy="-12.5" font-size="15">5</tspan></text><path d="M1209.4 2192.6V2199.0" stroke="#333" stroke-width="1.2"/><text x="1192.4" y="2233.5" font-size="22.5">10<tspan dy="-12.5" font-size="15">6</tspan></text><path d="M1277.9 2192.6V2199.0" stroke="#333" stroke-width="1.2"/><text x="1260.9" y="2233.5" font-size="22.5">10<tspan dy="-12.5" font-size="15">7</tspan></text><text x="1037.5" y="2272.0" font-size="27.3" text-anchor="middle" textLength="265.3" lengthAdjust="spacingAndGlyphs">Body size (mass in g)</text><text x="0" y="0" font-size="27.8" text-anchor="middle" textLength="207.7" lengthAdjust="spacingAndGlyphs" transform="translate(696.0,2059.6) rotate(-90)">Prop. specialists</text><text x="1038.3" y="1913.4" font-size="26.8" text-anchor="middle" textLength="552.4" lengthAdjust="spacingAndGlyphs">Afrotropical (681 species, 34.7% specialists)</text><path d="M841.9 2044.9V2117.4M838.7 2044.9H845.1M838.7 2117.4H845.1" stroke="#262626" stroke-width="1.6" fill="none"/><path d="M870.8 2045.8V2116.2M867.6 2045.8H874.0M867.6 2116.2H874.0" stroke="#262626" stroke-width="1.6" fill="none"/><path d="M888.5 2071.7V2144.1M885.3 2071.7H891.7M885.3 2144.1H891.7" stroke="#262626" stroke-width="1.6" fill="none"/><path d="M905.7 2057.7V2129.3M902.5 2057.7H908.9M902.5 2129.3H908.9" stroke="#262626" stroke-width="1.6" fill="none"/><path d="M925.5 2082.8V2150.3M922.3 2082.8H928.7M922.3 2150.3H928.7" stroke="#262626" stroke-width="1.6" fill="none"/><path d="M951.0 2068.0V2137.1M947.8 2068.0H954.2M947.8 2137.1H954.2" stroke="#262626" stroke-width="1.6" fill="none"/><path d="M999.2 2122.3V2180.0M996.0 2122.3H1002.4M996.0 2180.0H1002.4" stroke="#262626" stroke-width="1.6" fill="none"/><path d="M1041.2 2104.2V2166.0M1038.0 2104.2H1044.4M1038.0 2166.0H1044.4" stroke="#262626" stroke-width="1.6" fill="none"/><path d="M1090.6 2082.8V2150.3M1087.4 2082.8H1093.8M1087.4 2150.3H1093.8" stroke="#262626" stroke-width="1.6" fill="none"/><path d="M1229.3 1938.7V2005.4M1226.1 1938.7H1232.5M1226.1 2005.4H1232.5" stroke="#262626" stroke-width="1.6" fill="none"/><path d="M841.9 2081.2 L870.8 2080.8 L888.5 2107.9 L905.7 2093.5 L925.5 2116.6 L951.0 2102.6 L999.2 2151.6 L1041.2 2135.5 L1090.6 2116.6 L1229.3 1972.1" fill="none" stroke="#000" stroke-width="2.1" stroke-linejoin="round"/><circle cx="841.9" cy="2081.2" r="5.9" fill="#fff" stroke="#000" stroke-width="1.3"/><circle cx="870.8" cy="2080.8" r="5.9" fill="#fff" stroke="#000" stroke-width="1.3"/><circle cx="888.5" cy="2107.9" r="5.9" fill="#fff" stroke="#000" stroke-width="1.3"/><circle cx="905.7" cy="2093.5" r="5.9" fill="#fff" stroke="#000" stroke-width="1.3"/><circle cx="925.5" cy="2116.6" r="5.9" fill="#fff" stroke="#000" stroke-width="1.3"/><circle cx="951.0" cy="2102.6" r="5.9" fill="#fff" stroke="#000" stroke-width="1.3"/><circle cx="999.2" cy="2151.6" r="5.9" fill="#000" stroke="#000" stroke-width="1.3"/><circle cx="1041.2" cy="2135.5" r="5.9" fill="#000" stroke="#000" stroke-width="1.3"/><circle cx="1090.6" cy="2116.6" r="5.9" fill="#fff" stroke="#000" stroke-width="1.3"/><circle cx="1229.3" cy="1972.1" r="5.9" fill="#000" stroke="#000" stroke-width="1.3"/><path d="M1457.6 2075.6H1982.4" stroke="#BDBDBD" stroke-width="1.75" stroke-dasharray="8 8.7"/><path d="M1456.6 1927.2V2192.0H1983.4" fill="none" stroke="#222" stroke-width="1.25"/><path d="M1448.1 2178.0H1456.6" stroke="#333" stroke-width="1.2"/><text x="1437.4" y="2185.4" font-size="23.4" text-anchor="end" textLength="15.1" lengthAdjust="spacingAndGlyphs">0</text><path d="M1448.1 2113.6H1456.6" stroke="#333" stroke-width="1.2"/><text x="1434.7" y="2121.0" font-size="23.4" text-anchor="end" textLength="48.0" lengthAdjust="spacingAndGlyphs">0.25</text><path d="M1448.1 2049.1H1456.6" stroke="#333" stroke-width="1.2"/><text x="1434.7" y="2056.5" font-size="23.4" text-anchor="end" textLength="51.1" lengthAdjust="spacingAndGlyphs">0.50</text><path d="M1448.1 1984.6H1456.6" stroke="#333" stroke-width="1.2"/><text x="1434.7" y="1992.0" font-size="23.4" text-anchor="end" textLength="47.6" lengthAdjust="spacingAndGlyphs">0.75</text><path d="M1480.0 2192.6V2199.0" stroke="#333" stroke-width="1.2"/><text x="1463.0" y="2233.5" font-size="22.5">10<tspan dy="-12.5" font-size="15">0</tspan></text><path d="M1548.5 2192.6V2199.0" stroke="#333" stroke-width="1.2"/><text x="1531.5" y="2233.5" font-size="22.5">10<tspan dy="-12.5" font-size="15">1</tspan></text><path d="M1617.1 2192.6V2199.0" stroke="#333" stroke-width="1.2"/><text x="1600.1" y="2233.5" font-size="22.5">10<tspan dy="-12.5" font-size="15">2</tspan></text><path d="M1685.6 2192.6V2199.0" stroke="#333" stroke-width="1.2"/><text x="1668.6" y="2233.5" font-size="22.5">10<tspan dy="-12.5" font-size="15">3</tspan></text><path d="M1754.1 2192.6V2199.0" stroke="#333" stroke-width="1.2"/><text x="1737.1" y="2233.5" font-size="22.5">10<tspan dy="-12.5" font-size="15">4</tspan></text><path d="M1822.6 2192.6V2199.0" stroke="#333" stroke-width="1.2"/><text x="1805.6" y="2233.5" font-size="22.5">10<tspan dy="-12.5" font-size="15">5</tspan></text><path d="M1891.2 2192.6V2199.0" stroke="#333" stroke-width="1.2"/><text x="1874.2" y="2233.5" font-size="22.5">10<tspan dy="-12.5" font-size="15">6</tspan></text><path d="M1959.7 2192.6V2199.0" stroke="#333" stroke-width="1.2"/><text x="1942.7" y="2233.5" font-size="22.5">10<tspan dy="-12.5" font-size="15">7</tspan></text><text x="1720.0" y="2272.0" font-size="27.3" text-anchor="middle" textLength="265.3" lengthAdjust="spacingAndGlyphs">Body size (mass in g)</text><text x="0" y="0" font-size="27.8" text-anchor="middle" textLength="207.7" lengthAdjust="spacingAndGlyphs" transform="translate(1367.7,2059.6) rotate(-90)">Prop. specialists</text><text x="1720.5" y="1913.4" font-size="26.8" text-anchor="middle" textLength="532.5" lengthAdjust="spacingAndGlyphs">Australian (239 species, 39.7% specialists)</text><path d="M1523.2 1939.0V2025.4M1520.0 1939.0H1526.4M1520.0 2025.4H1526.4" stroke="#262626" stroke-width="1.6" fill="none"/><path d="M1549.3 1974.0V2072.8M1546.1 1974.0H1552.5M1546.1 2072.8H1552.5" stroke="#262626" stroke-width="1.6" fill="none"/><path d="M1562.4 2109.5V2180.1M1559.2 2109.5H1565.6M1559.2 2180.1H1565.6" stroke="#262626" stroke-width="1.6" fill="none"/><path d="M1578.3 2025.4V2125.0M1575.1 2025.4H1581.5M1575.1 2125.0H1581.5" stroke="#262626" stroke-width="1.6" fill="none"/><path d="M1593.4 2064.6V2157.2M1590.2 2064.6H1596.6M1590.2 2157.2H1596.6" stroke="#262626" stroke-width="1.6" fill="none"/><path d="M1651.3 2043.8V2140.9M1648.1 2043.8H1654.5M1648.1 2140.9H1654.5" stroke="#262626" stroke-width="1.6" fill="none"/><path d="M1683.1 2056.0V2149.9M1679.9 2056.0H1686.3M1679.9 2149.9H1686.3" stroke="#262626" stroke-width="1.6" fill="none"/><path d="M1720.7 1997.7V2101.3M1717.5 1997.7H1723.9M1717.5 2101.3H1723.9" stroke="#262626" stroke-width="1.6" fill="none"/><path d="M1884.3 1967.1V2067.1M1881.1 1967.1H1887.5M1881.1 2067.1H1887.5" stroke="#262626" stroke-width="1.6" fill="none"/><path d="M1523.2 1982.6 L1549.3 2023.8 L1562.4 2145.0 L1578.3 2075.2 L1593.4 2111.1 L1614.2 2178.4 L1651.3 2092.4 L1683.1 2103.0 L1720.7 2049.1 L1884.3 2016.9" fill="none" stroke="#000" stroke-width="2.1" stroke-linejoin="round"/><circle cx="1523.2" cy="1982.6" r="5.9" fill="#000" stroke="#000" stroke-width="1.3"/><circle cx="1549.3" cy="2023.8" r="5.9" fill="#000" stroke="#000" stroke-width="1.3"/><circle cx="1562.4" cy="2145.0" r="5.9" fill="#000" stroke="#000" stroke-width="1.3"/><circle cx="1578.3" cy="2075.2" r="5.9" fill="#fff" stroke="#000" stroke-width="1.3"/><circle cx="1593.4" cy="2111.1" r="5.9" fill="#fff" stroke="#000" stroke-width="1.3"/><circle cx="1614.2" cy="2178.4" r="5.9" fill="#000" stroke="#000" stroke-width="1.3"/><circle cx="1651.3" cy="2092.4" r="5.9" fill="#fff" stroke="#000" stroke-width="1.3"/><circle cx="1683.1" cy="2103.0" r="5.9" fill="#fff" stroke="#000" stroke-width="1.3"/><circle cx="1720.7" cy="2049.1" r="5.9" fill="#fff" stroke="#000" stroke-width="1.3"/><circle cx="1884.3" cy="2016.9" r="5.9" fill="#000" stroke="#000" stroke-width="1.3"/><path d="M775.1 2474.3H1300.0" stroke="#BDBDBD" stroke-width="1.75" stroke-dasharray="8 8.7"/><path d="M774.1 2335.7V2600.5H1301.0" fill="none" stroke="#222" stroke-width="1.25"/><path d="M765.6 2571.4H774.1" stroke="#333" stroke-width="1.2"/><text x="754.9" y="2578.8" font-size="23.4" text-anchor="end" textLength="15.1" lengthAdjust="spacingAndGlyphs">0</text><path d="M765.6 2488.3H774.1" stroke="#333" stroke-width="1.2"/><text x="754.6" y="2495.7" font-size="23.4" text-anchor="end" textLength="37.2" lengthAdjust="spacingAndGlyphs">0.4</text><path d="M765.6 2404.3H774.1" stroke="#333" stroke-width="1.2"/><text x="754.6" y="2411.7" font-size="23.4" text-anchor="end" textLength="37.2" lengthAdjust="spacingAndGlyphs">0.8</text><path d="M798.3 2601.1V2607.5" stroke="#333" stroke-width="1.2"/><text x="781.3" y="2642.0" font-size="22.5">10<tspan dy="-12.5" font-size="15">0</tspan></text><path d="M866.8 2601.1V2607.5" stroke="#333" stroke-width="1.2"/><text x="849.8" y="2642.0" font-size="22.5">10<tspan dy="-12.5" font-size="15">1</tspan></text><path d="M935.3 2601.1V2607.5" stroke="#333" stroke-width="1.2"/><text x="918.3" y="2642.0" font-size="22.5">10<tspan dy="-12.5" font-size="15">2</tspan></text><path d="M1003.8 2601.1V2607.5" stroke="#333" stroke-width="1.2"/><text x="986.8" y="2642.0" font-size="22.5">10<tspan dy="-12.5" font-size="15">3</tspan></text><path d="M1072.4 2601.1V2607.5" stroke="#333" stroke-width="1.2"/><text x="1055.4" y="2642.0" font-size="22.5">10<tspan dy="-12.5" font-size="15">4</tspan></text><path d="M1140.9 2601.1V2607.5" stroke="#333" stroke-width="1.2"/><text x="1123.9" y="2642.0" font-size="22.5">10<tspan dy="-12.5" font-size="15">5</tspan></text><path d="M1209.4 2601.1V2607.5" stroke="#333" stroke-width="1.2"/><text x="1192.4" y="2642.0" font-size="22.5">10<tspan dy="-12.5" font-size="15">6</tspan></text><path d="M1277.9 2601.1V2607.5" stroke="#333" stroke-width="1.2"/><text x="1260.9" y="2642.0" font-size="22.5">10<tspan dy="-12.5" font-size="15">7</tspan></text><text x="1037.5" y="2690.5" font-size="27.3" text-anchor="middle" textLength="265.3" lengthAdjust="spacingAndGlyphs">Body size (mass in g)</text><text x="0" y="0" font-size="27.8" text-anchor="middle" textLength="207.7" lengthAdjust="spacingAndGlyphs" transform="translate(696.0,2468.1) rotate(-90)">Prop. specialists</text><text x="1038.1" y="2321.9" font-size="26.8" text-anchor="middle" textLength="558.6" lengthAdjust="spacingAndGlyphs">Madagascan (114 species, 46.5% specialists)</text><path d="M848.5 2347.1V2412.5M845.3 2347.1H851.7M845.3 2412.5H851.7" stroke="#262626" stroke-width="1.6" fill="none"/><path d="M890.1 2364.8V2474.7M886.9 2364.8H893.3M886.9 2474.7H893.3" stroke="#262626" stroke-width="1.6" fill="none"/><path d="M915.2 2396.1V2519.2M912.0 2396.1H918.4M912.0 2519.2H918.4" stroke="#262626" stroke-width="1.6" fill="none"/><path d="M955.5 2415.0V2538.5M952.3 2415.0H958.7M952.3 2538.5H958.7" stroke="#262626" stroke-width="1.6" fill="none"/><path d="M981.1 2364.8V2474.7M977.9 2364.8H984.3M977.9 2474.7H984.3" stroke="#262626" stroke-width="1.6" fill="none"/><path d="M994.2 2376.7V2488.7M991.0 2376.7H997.4M991.0 2488.7H997.4" stroke="#262626" stroke-width="1.6" fill="none"/><path d="M1009.5 2415.0V2538.5M1006.3 2415.0H1012.7M1006.3 2538.5H1012.7" stroke="#262626" stroke-width="1.6" fill="none"/><path d="M1029.2 2517.5V2588.7M1026.0 2517.5H1032.4M1026.0 2588.7H1032.4" stroke="#262626" stroke-width="1.6" fill="none"/><path d="M1058.0 2522.0V2587.5M1054.8 2522.0H1061.2M1054.8 2587.5H1061.2" stroke="#262626" stroke-width="1.6" fill="none"/><path d="M848.5 2380.4 L890.1 2420.0 L915.2 2457.8 L930.0 2572.3 L955.5 2477.2 L981.1 2420.0 L994.2 2432.7 L1009.5 2477.2 L1029.2 2552.9 L1058.0 2554.6" fill="none" stroke="#000" stroke-width="2.1" stroke-linejoin="round"/><circle cx="848.5" cy="2380.4" r="5.9" fill="#000" stroke="#000" stroke-width="1.3"/><circle cx="890.1" cy="2420.0" r="5.9" fill="#fff" stroke="#000" stroke-width="1.3"/><circle cx="915.2" cy="2457.8" r="5.9" fill="#fff" stroke="#000" stroke-width="1.3"/><circle cx="930.0" cy="2572.3" r="5.9" fill="#000" stroke="#000" stroke-width="1.3"/><circle cx="955.5" cy="2477.2" r="5.9" fill="#fff" stroke="#000" stroke-width="1.3"/><circle cx="981.1" cy="2420.0" r="5.9" fill="#fff" stroke="#000" stroke-width="1.3"/><circle cx="994.2" cy="2432.7" r="5.9" fill="#fff" stroke="#000" stroke-width="1.3"/><circle cx="1009.5" cy="2477.2" r="5.9" fill="#fff" stroke="#000" stroke-width="1.3"/><circle cx="1029.2" cy="2552.9" r="5.9" fill="#000" stroke="#000" stroke-width="1.3"/><circle cx="1058.0" cy="2554.6" r="5.9" fill="#000" stroke="#000" stroke-width="1.3"/><path d="M1457.6 2481.6H1982.4" stroke="#BDBDBD" stroke-width="1.75" stroke-dasharray="8 8.7"/><path d="M1456.6 2335.7V2600.5H1983.4" fill="none" stroke="#222" stroke-width="1.25"/><path d="M1448.1 2543.2H1456.6" stroke="#333" stroke-width="1.2"/><text x="1434.7" y="2550.6" font-size="23.4" text-anchor="end" textLength="48.0" lengthAdjust="spacingAndGlyphs">0.25</text><path d="M1448.1 2475.0H1456.6" stroke="#333" stroke-width="1.2"/><text x="1434.7" y="2482.4" font-size="23.4" text-anchor="end" textLength="51.1" lengthAdjust="spacingAndGlyphs">0.50</text><path d="M1448.1 2406.5H1456.6" stroke="#333" stroke-width="1.2"/><text x="1434.7" y="2413.9" font-size="23.4" text-anchor="end" textLength="47.6" lengthAdjust="spacingAndGlyphs">0.75</text><path d="M1448.1 2338.3H1456.6" stroke="#333" stroke-width="1.2"/><text x="1434.7" y="2345.7" font-size="23.4" text-anchor="end" textLength="48.4" lengthAdjust="spacingAndGlyphs">1.00</text><path d="M1480.0 2601.1V2607.5" stroke="#333" stroke-width="1.2"/><text x="1463.0" y="2642.0" font-size="22.5">10<tspan dy="-12.5" font-size="15">0</tspan></text><path d="M1548.5 2601.1V2607.5" stroke="#333" stroke-width="1.2"/><text x="1531.5" y="2642.0" font-size="22.5">10<tspan dy="-12.5" font-size="15">1</tspan></text><path d="M1617.1 2601.1V2607.5" stroke="#333" stroke-width="1.2"/><text x="1600.1" y="2642.0" font-size="22.5">10<tspan dy="-12.5" font-size="15">2</tspan></text><path d="M1685.6 2601.1V2607.5" stroke="#333" stroke-width="1.2"/><text x="1668.6" y="2642.0" font-size="22.5">10<tspan dy="-12.5" font-size="15">3</tspan></text><path d="M1754.1 2601.1V2607.5" stroke="#333" stroke-width="1.2"/><text x="1737.1" y="2642.0" font-size="22.5">10<tspan dy="-12.5" font-size="15">4</tspan></text><path d="M1822.6 2601.1V2607.5" stroke="#333" stroke-width="1.2"/><text x="1805.6" y="2642.0" font-size="22.5">10<tspan dy="-12.5" font-size="15">5</tspan></text><path d="M1891.2 2601.1V2607.5" stroke="#333" stroke-width="1.2"/><text x="1874.2" y="2642.0" font-size="22.5">10<tspan dy="-12.5" font-size="15">6</tspan></text><path d="M1959.7 2601.1V2607.5" stroke="#333" stroke-width="1.2"/><text x="1942.7" y="2642.0" font-size="22.5">10<tspan dy="-12.5" font-size="15">7</tspan></text><text x="1720.0" y="2690.5" font-size="27.3" text-anchor="middle" textLength="265.3" lengthAdjust="spacingAndGlyphs">Body size (mass in g)</text><text x="0" y="0" font-size="27.8" text-anchor="middle" textLength="207.7" lengthAdjust="spacingAndGlyphs" transform="translate(1367.7,2468.1) rotate(-90)">Prop. specialists</text><text x="1720.8" y="2321.9" font-size="26.8" text-anchor="middle" textLength="527.5" lengthAdjust="spacingAndGlyphs">Oceanian (296 species, 47.6% specialists)</text><path d="M1519.9 2347.3V2420.4M1516.7 2347.3H1523.1M1516.7 2420.4H1523.1" stroke="#262626" stroke-width="1.6" fill="none"/><path d="M1553.0 2353.8V2432.2M1549.8 2353.8H1556.2M1549.8 2432.2H1556.2" stroke="#262626" stroke-width="1.6" fill="none"/><path d="M1578.7 2449.3V2548.1M1575.5 2449.3H1581.9M1575.5 2548.1H1581.9" stroke="#262626" stroke-width="1.6" fill="none"/><path d="M1596.2 2435.4V2533.4M1593.0 2435.4H1599.4M1593.0 2533.4H1599.4" stroke="#262626" stroke-width="1.6" fill="none"/><path d="M1612.9 2503.6V2588.4M1609.7 2503.6H1616.1M1609.7 2588.4H1616.1" stroke="#262626" stroke-width="1.6" fill="none"/><path d="M1631.7 2484.8V2574.6M1628.5 2484.8H1634.9M1628.5 2574.6H1634.9" stroke="#262626" stroke-width="1.6" fill="none"/><path d="M1650.9 2393.4V2490.5M1647.7 2393.4H1654.1M1647.7 2490.5H1654.1" stroke="#262626" stroke-width="1.6" fill="none"/><path d="M1668.4 2435.4V2533.4M1665.2 2435.4H1671.6M1665.2 2533.4H1671.6" stroke="#262626" stroke-width="1.6" fill="none"/><path d="M1695.0 2470.1V2564.8M1691.8 2470.1H1698.2M1691.8 2564.8H1698.2" stroke="#262626" stroke-width="1.6" fill="none"/><path d="M1802.3 2495.4V2582.3M1799.1 2495.4H1805.5M1799.1 2582.3H1805.5" stroke="#262626" stroke-width="1.6" fill="none"/><path d="M1519.9 2384.0 L1553.0 2393.0 L1578.7 2498.7 L1596.2 2484.0 L1612.9 2546.0 L1631.7 2529.7 L1650.9 2442.4 L1668.4 2484.0 L1695.0 2517.5 L1802.3 2539.1" fill="none" stroke="#000" stroke-width="2.1" stroke-linejoin="round"/><circle cx="1519.9" cy="2384.0" r="5.9" fill="#000" stroke="#000" stroke-width="1.3"/><circle cx="1553.0" cy="2393.0" r="5.9" fill="#000" stroke="#000" stroke-width="1.3"/><circle cx="1578.7" cy="2498.7" r="5.9" fill="#fff" stroke="#000" stroke-width="1.3"/><circle cx="1596.2" cy="2484.0" r="5.9" fill="#fff" stroke="#000" stroke-width="1.3"/><circle cx="1612.9" cy="2546.0" r="5.9" fill="#000" stroke="#000" stroke-width="1.3"/><circle cx="1631.7" cy="2529.7" r="5.9" fill="#000" stroke="#000" stroke-width="1.3"/><circle cx="1650.9" cy="2442.4" r="5.9" fill="#fff" stroke="#000" stroke-width="1.3"/><circle cx="1668.4" cy="2484.0" r="5.9" fill="#fff" stroke="#000" stroke-width="1.3"/><circle cx="1695.0" cy="2517.5" r="5.9" fill="#fff" stroke="#000" stroke-width="1.3"/><circle cx="1802.3" cy="2539.1" r="5.9" fill="#000" stroke="#000" stroke-width="1.3"/></g>
<g id="siglegend"><text x="255.2" y="2422.8" font-size="28.5" textLength="199.7" lengthAdjust="spacingAndGlyphs">Difference from</text><text x="255.2" y="2454.4" font-size="28.5" textLength="249.7" lengthAdjust="spacingAndGlyphs">regional proportion</text><circle cx="269.3" cy="2484.5" r="6.1" fill="#fff" stroke="#000" stroke-width="1.3"/><text x="286.6" y="2492.3" font-size="28.5" textLength="193.8" lengthAdjust="spacingAndGlyphs">Non-significant</text><circle cx="269.3" cy="2521.5" r="6.1" fill="#000" stroke="#000" stroke-width="1.3"/><text x="288.8" y="2529.0" font-size="28.5" textLength="135.6" lengthAdjust="spacingAndGlyphs">Significant</text></g>
<text x="0.3" y="21.3" font-size="36.5" textLength="21.5" lengthAdjust="spacingAndGlyphs" font-weight="bold" stroke="#000" stroke-width="0.7">a</text><text x="0" y="0" font-size="37.5" font-weight="bold" stroke="#000" stroke-width="0.7" transform="translate(-0.6,1096.2) scale(1.14,1)">b</text>
</svg>
</body></html>
